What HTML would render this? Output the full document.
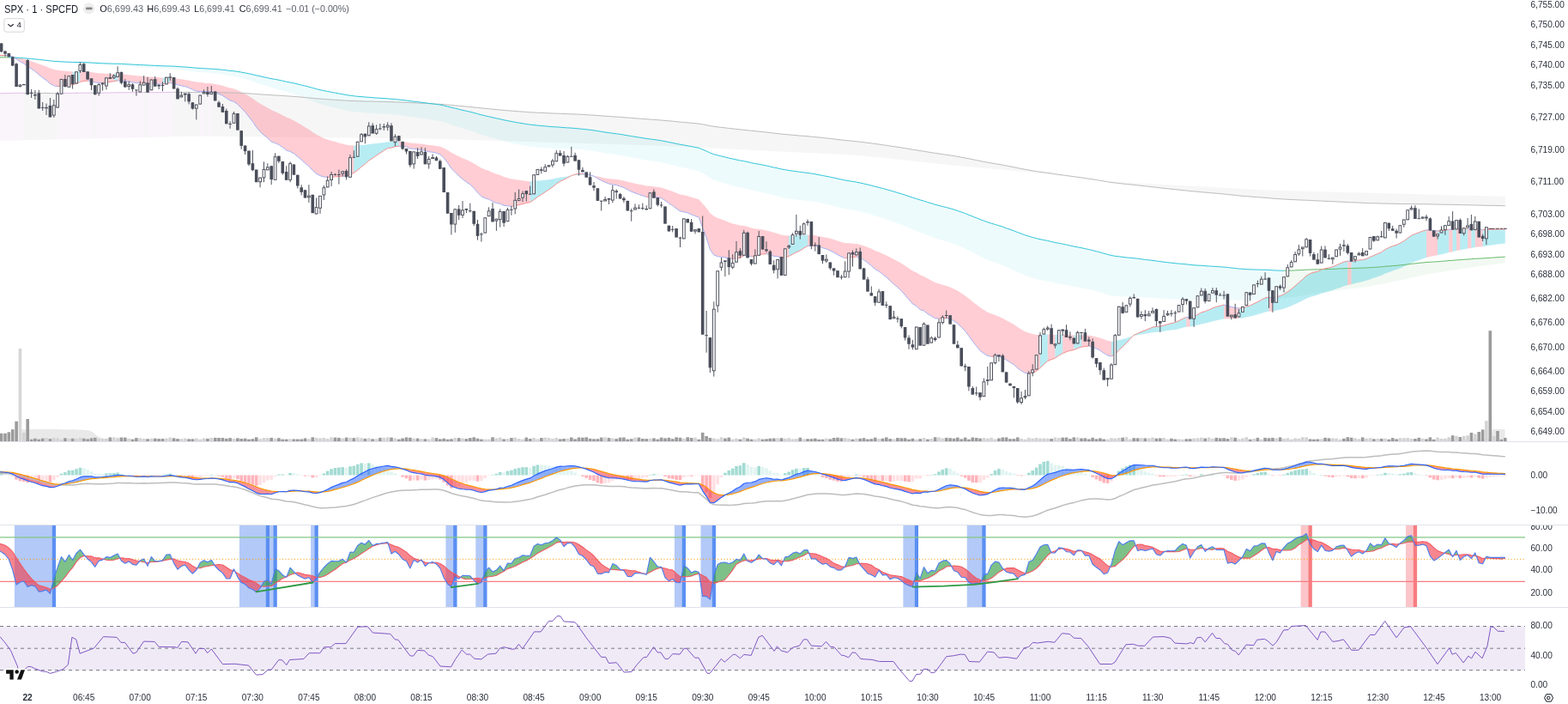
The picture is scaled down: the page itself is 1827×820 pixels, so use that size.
<!DOCTYPE html>
<html><head><meta charset="utf-8"><style>
html,body{margin:0;padding:0;background:#fff;}
body{width:1827px;height:820px;position:relative;overflow:hidden;font-family:"Liberation Sans",sans-serif;}
</style></head><body>
<svg width="1827" height="820" viewBox="0 0 1827 820" style="position:absolute;left:0;top:0"><defs><clipPath id="cm"><rect x="0" y="0" width="1777" height="514"/></clipPath><clipPath id="c2"><rect x="0" y="515" width="1777" height="96"/></clipPath><clipPath id="c3"><rect x="0" y="612" width="1777" height="95"/></clipPath><clipPath id="c3l"><rect x="1777" y="612" width="50" height="95"/></clipPath><clipPath id="c4"><rect x="0" y="708" width="1777" height="92"/></clipPath></defs><g clip-path="url(#cm)"><polygon points="0.0,108.8 6.0,108.7 10.3,108.6 14.7,108.4 19.1,108.4 23.4,108.4 27.8,108.4 27.8,163.3 23.4,163.4 19.1,163.5 14.7,163.6 10.3,163.7 6.0,163.7 0.0,163.8" fill="rgba(186,104,200,0.075)"/><polygon points="27.8,108.4 32.2,108.4 36.6,108.4 40.9,108.4 45.3,108.4 49.7,108.5 54.0,108.5 58.4,108.6 62.8,108.7 67.1,108.7 67.1,162.4 62.8,162.5 58.4,162.6 54.0,162.7 49.7,162.8 45.3,162.9 40.9,163.0 36.6,163.1 32.2,163.2 27.8,163.3" fill="rgba(128,128,128,0.075)"/><polygon points="67.1,108.7 71.5,108.6 75.9,108.6 80.3,108.5 84.6,108.5 89.0,108.4 93.4,108.3 97.7,108.2 102.1,108.2 106.5,108.2 106.5,161.5 102.1,161.6 97.7,161.7 93.4,161.8 89.0,161.9 84.6,162.0 80.3,162.1 75.9,162.2 71.5,162.3 67.1,162.4" fill="rgba(186,104,200,0.075)"/><polygon points="106.5,108.2 110.8,108.2 110.8,161.3 106.5,161.5" fill="rgba(128,128,128,0.075)"/><polygon points="110.8,108.2 115.2,108.1 119.6,108.1 123.9,108.0 128.3,108.0 132.7,107.9 137.1,107.8 141.4,107.8 145.8,107.8 150.2,107.7 154.5,107.7 158.9,107.7 163.3,107.7 167.6,107.7 167.6,160.0 163.3,160.1 158.9,160.2 154.5,160.3 150.2,160.4 145.8,160.5 141.4,160.6 137.1,160.7 132.7,160.8 128.3,160.9 123.9,161.0 119.6,161.1 115.2,161.2 110.8,161.3" fill="rgba(186,104,200,0.075)"/><polygon points="167.6,107.7 172.0,107.7 172.0,159.9 167.6,160.0" fill="rgba(128,128,128,0.075)"/><polygon points="172.0,107.7 176.4,107.6 180.7,107.6 185.1,107.6 189.5,107.5 193.9,107.5 198.2,107.4 202.6,107.4 202.6,159.2 198.2,159.3 193.9,159.4 189.5,159.5 185.1,159.6 180.7,159.7 176.4,159.8 172.0,159.9" fill="rgba(186,104,200,0.075)"/><polygon points="202.6,107.4 207.0,107.4 211.3,107.4 215.7,107.4 220.1,107.5 224.4,107.5 228.8,107.6 233.2,107.6 233.2,158.7 228.8,158.8 224.4,158.8 220.1,158.8 215.7,158.9 211.3,159.0 207.0,159.1 202.6,159.2" fill="rgba(128,128,128,0.075)"/><polygon points="233.2,107.6 237.6,107.6 237.6,158.7 233.2,158.7" fill="rgba(186,104,200,0.075)"/><polygon points="237.6,107.6 241.9,107.6 241.9,158.7 237.6,158.7" fill="rgba(128,128,128,0.075)"/><polygon points="241.9,107.6 246.3,107.6 246.3,158.7 241.9,158.7" fill="rgba(186,104,200,0.075)"/><polygon points="246.3,107.6 250.7,107.6 255.0,107.7 259.4,107.8 263.8,107.9 268.1,108.0 272.5,108.1 276.9,108.2 281.2,108.4 285.6,108.7 290.0,108.9 294.4,109.2 298.7,109.5 303.1,109.9 307.5,110.2 311.8,110.4 316.2,110.7 320.6,111.0 324.9,111.2 329.3,111.5 333.7,111.8 338.1,112.1 342.4,112.4 346.8,112.7 351.2,113.1 355.5,113.5 359.9,113.9 364.3,114.3 368.6,114.7 373.0,115.1 377.4,115.4 381.7,115.7 386.1,116.0 390.5,116.3 394.9,116.6 399.2,116.9 403.6,117.1 408.0,117.4 412.3,117.6 416.7,117.7 421.1,117.9 425.4,118.0 429.8,118.1 434.2,118.2 438.6,118.3 442.9,118.4 447.3,118.5 451.7,118.6 456.0,118.7 460.4,118.9 464.8,119.0 469.1,119.2 473.5,119.4 477.9,119.6 482.2,119.8 486.6,120.0 491.0,120.2 495.4,120.4 499.7,120.6 504.1,120.8 508.5,121.1 512.8,121.3 517.2,121.6 521.6,122.1 525.9,122.5 530.3,122.9 534.7,123.3 539.0,123.7 543.4,124.1 547.8,124.5 552.2,125.0 556.5,125.4 560.9,125.9 565.3,126.3 569.6,126.7 574.0,127.2 578.4,127.6 582.7,128.0 587.1,128.4 591.5,128.8 595.9,129.1 600.2,129.5 604.6,129.8 609.0,130.1 613.3,130.4 617.7,130.8 622.1,131.0 626.4,131.2 630.8,131.4 635.2,131.6 639.5,131.8 643.9,132.0 648.3,132.2 652.7,132.3 657.0,132.5 661.4,132.7 665.8,132.8 670.1,133.0 674.5,133.2 678.9,133.4 683.2,133.7 687.6,134.0 692.0,134.2 696.4,134.6 700.7,134.9 705.1,135.2 709.5,135.5 713.8,135.8 718.2,136.1 722.6,136.4 726.9,136.7 731.3,137.1 735.7,137.4 740.0,137.8 744.4,138.1 748.8,138.4 753.2,138.8 757.5,139.1 761.9,139.4 766.3,139.7 770.6,140.0 775.0,140.4 779.4,140.8 783.7,141.2 788.1,141.7 792.5,142.1 796.8,142.5 801.2,142.9 805.6,143.3 810.0,143.7 814.3,144.1 818.7,144.9 823.1,145.7 827.4,146.6 831.8,147.3 836.2,147.9 840.5,148.4 844.9,148.9 849.3,149.4 853.7,149.9 858.0,150.4 862.4,150.9 866.8,151.3 871.1,151.8 875.5,152.3 879.9,152.7 884.2,153.1 888.6,153.6 893.0,154.0 897.3,154.5 901.7,155.1 906.1,155.6 910.5,156.1 914.8,156.5 919.2,156.9 923.6,157.3 927.9,157.7 932.3,158.1 936.7,158.4 941.0,158.7 945.4,159.2 949.8,159.6 954.2,160.0 958.5,160.5 962.9,160.9 967.3,161.4 971.6,161.9 976.0,162.5 980.4,163.0 984.7,163.5 989.1,163.9 993.5,164.3 997.8,164.8 1002.2,165.2 1006.6,165.8 1011.0,166.3 1015.3,166.9 1019.7,167.5 1024.1,168.1 1028.4,168.7 1032.8,169.3 1037.2,170.0 1041.5,170.6 1045.9,171.3 1050.3,172.0 1054.6,172.7 1059.0,173.4 1063.4,174.2 1067.8,174.8 1072.1,175.6 1076.5,176.2 1080.9,177.0 1085.2,177.7 1089.6,178.4 1094.0,179.0 1098.3,179.7 1102.7,180.3 1107.1,180.9 1111.5,181.6 1115.8,182.4 1120.2,183.2 1124.6,184.0 1128.9,184.8 1133.3,185.7 1137.7,186.6 1142.0,187.5 1146.4,188.4 1150.8,189.2 1155.1,189.9 1159.5,190.7 1163.9,191.4 1168.3,192.2 1172.6,193.0 1177.0,193.9 1181.4,194.7 1185.7,195.6 1190.1,196.5 1194.5,197.3 1198.8,198.1 1203.2,198.9 1207.6,199.6 1212.0,200.2 1216.3,200.8 1220.7,201.4 1225.1,202.0 1229.4,202.7 1233.8,203.3 1238.2,203.9 1242.5,204.5 1246.9,205.1 1251.3,205.7 1255.6,206.3 1260.0,206.9 1264.4,207.5 1268.8,208.2 1273.1,208.8 1277.5,209.5 1281.9,210.3 1286.2,211.0 1290.6,211.8 1295.0,212.5 1299.3,213.0 1303.7,213.5 1308.1,214.0 1312.5,214.5 1316.8,214.9 1321.2,215.3 1325.6,215.8 1329.9,216.3 1334.3,216.8 1338.7,217.3 1343.0,217.8 1347.4,218.3 1351.8,218.8 1356.1,219.3 1360.5,219.8 1364.9,220.2 1369.3,220.7 1373.6,221.1 1378.0,221.6 1382.4,222.0 1386.7,222.5 1391.1,222.9 1395.5,223.3 1399.8,223.7 1404.2,224.1 1408.6,224.5 1412.9,224.9 1417.3,225.2 1421.7,225.6 1426.1,226.0 1430.4,226.5 1434.8,226.9 1439.2,227.4 1443.5,227.9 1447.9,228.3 1452.3,228.6 1456.6,229.0 1461.0,229.4 1465.4,229.7 1469.8,230.0 1474.1,230.3 1478.5,230.7 1482.9,231.1 1487.2,231.4 1491.6,231.7 1496.0,232.0 1500.3,232.3 1504.7,232.5 1509.1,232.7 1513.4,232.9 1517.8,233.1 1522.2,233.2 1526.6,233.4 1530.9,233.7 1535.3,233.9 1539.7,234.1 1544.0,234.3 1548.4,234.5 1552.8,234.7 1557.1,234.9 1561.5,235.1 1565.9,235.3 1570.3,235.5 1574.6,235.7 1579.0,235.9 1583.4,236.1 1587.7,236.3 1592.1,236.5 1596.5,236.6 1600.8,236.7 1605.2,236.9 1609.6,237.0 1613.9,237.1 1618.3,237.2 1622.7,237.3 1627.1,237.4 1631.4,237.5 1635.8,237.5 1640.2,237.5 1644.5,237.6 1648.9,237.6 1653.3,237.7 1657.6,237.7 1662.0,237.8 1666.4,237.9 1670.7,238.0 1675.1,238.1 1679.5,238.2 1683.9,238.3 1688.2,238.3 1692.6,238.4 1697.0,238.5 1701.3,238.6 1705.7,238.7 1710.1,238.8 1714.4,238.9 1718.8,238.9 1723.2,239.1 1727.6,239.2 1731.9,239.3 1736.3,239.4 1740.7,239.4 1745.0,239.5 1749.4,239.6 1753.8,239.7 1753.8,228.7 1749.4,228.6 1745.0,228.6 1740.7,228.5 1736.3,228.4 1731.9,228.3 1727.6,228.2 1723.2,228.1 1718.8,228.0 1714.4,227.8 1710.1,227.7 1705.7,227.6 1701.3,227.5 1697.0,227.4 1692.6,227.3 1688.2,227.2 1683.9,227.0 1679.5,226.9 1675.1,226.8 1670.7,226.7 1666.4,226.6 1662.0,226.5 1657.6,226.3 1653.3,226.2 1648.9,226.1 1644.5,226.0 1640.2,225.9 1635.8,225.8 1631.4,225.6 1627.1,225.5 1622.7,225.4 1618.3,225.3 1613.9,225.2 1609.6,225.1 1605.2,224.9 1600.8,224.8 1596.5,224.7 1592.1,224.6 1587.7,224.5 1583.4,224.4 1579.0,224.2 1574.6,224.1 1570.3,224.0 1565.9,223.9 1561.5,223.8 1557.1,223.7 1552.8,223.5 1548.4,223.4 1544.0,223.3 1539.7,223.2 1535.3,223.1 1530.9,223.0 1526.6,222.9 1522.2,222.7 1517.8,222.6 1513.4,222.5 1509.1,222.4 1504.7,222.3 1500.3,222.2 1496.0,222.0 1491.6,221.9 1487.2,221.8 1482.9,221.6 1478.5,221.4 1474.1,221.3 1469.8,221.1 1465.4,220.9 1461.0,220.7 1456.6,220.5 1452.3,220.3 1447.9,220.0 1443.5,219.8 1439.2,219.6 1434.8,219.3 1430.4,219.1 1426.1,218.8 1421.7,218.6 1417.3,218.3 1412.9,218.1 1408.6,217.9 1404.2,217.6 1399.8,217.4 1395.5,217.1 1391.1,216.9 1386.7,216.6 1382.4,216.4 1378.0,216.1 1373.6,215.9 1369.3,215.7 1364.9,215.4 1360.5,215.2 1356.1,214.9 1351.8,214.7 1347.4,214.4 1343.0,214.2 1338.7,213.9 1334.3,213.7 1329.9,213.5 1325.6,213.2 1321.2,213.0 1316.8,212.7 1312.5,212.5 1308.1,212.2 1303.7,211.9 1299.3,211.6 1295.0,211.3 1290.6,210.9 1286.2,210.5 1281.9,210.1 1277.5,209.7 1273.1,209.2 1268.8,208.7 1264.4,208.2 1260.0,207.7 1255.6,207.1 1251.3,206.6 1246.9,206.0 1242.5,205.5 1238.2,204.9 1233.8,204.4 1229.4,203.8 1225.1,203.3 1220.7,202.8 1216.3,202.3 1212.0,201.9 1207.6,201.4 1203.2,200.9 1198.8,200.5 1194.5,200.1 1190.1,199.7 1185.7,199.3 1181.4,198.9 1177.0,198.5 1172.6,198.1 1168.3,197.7 1163.9,197.3 1159.5,196.9 1155.1,196.5 1150.8,196.1 1146.4,195.7 1142.0,195.4 1137.7,195.0 1133.3,194.6 1128.9,194.2 1124.6,193.8 1120.2,193.4 1115.8,193.0 1111.5,192.6 1107.1,192.2 1102.7,191.7 1098.3,191.3 1094.0,190.9 1089.6,190.4 1085.2,190.0 1080.9,189.5 1076.5,189.0 1072.1,188.6 1067.8,188.1 1063.4,187.6 1059.0,187.1 1054.6,186.7 1050.3,186.2 1045.9,185.7 1041.5,185.2 1037.2,184.8 1032.8,184.3 1028.4,183.8 1024.1,183.3 1019.7,182.9 1015.3,182.5 1011.0,182.1 1006.6,181.7 1002.2,181.3 997.8,181.0 993.5,180.7 989.1,180.4 984.7,180.1 980.4,179.8 976.0,179.6 971.6,179.4 967.3,179.2 962.9,179.0 958.5,178.8 954.2,178.6 949.8,178.4 945.4,178.2 941.0,178.0 936.7,177.8 932.3,177.6 927.9,177.4 923.6,177.2 919.2,177.0 914.8,176.8 910.5,176.6 906.1,176.4 901.7,176.2 897.3,175.9 893.0,175.7 888.6,175.5 884.2,175.3 879.9,175.1 875.5,174.9 871.1,174.6 866.8,174.4 862.4,174.2 858.0,174.0 853.7,173.8 849.3,173.6 844.9,173.3 840.5,173.1 836.2,172.9 831.8,172.7 827.4,172.5 823.1,172.3 818.7,172.0 814.3,171.8 810.0,171.6 805.6,171.4 801.2,171.2 796.8,171.0 792.5,170.7 788.1,170.6 783.7,170.4 779.4,170.2 775.0,170.0 770.6,169.8 766.3,169.7 761.9,169.5 757.5,169.3 753.2,169.2 748.8,169.1 744.4,168.9 740.0,168.8 735.7,168.7 731.3,168.5 726.9,168.4 722.6,168.3 718.2,168.1 713.8,168.0 709.5,167.9 705.1,167.7 700.7,167.6 696.4,167.5 692.0,167.4 687.6,167.2 683.2,167.1 678.9,167.0 674.5,166.8 670.1,166.7 665.8,166.6 661.4,166.4 657.0,166.3 652.7,166.2 648.3,166.0 643.9,165.9 639.5,165.8 635.2,165.7 630.8,165.5 626.4,165.4 622.1,165.3 617.7,165.1 613.3,165.0 609.0,164.9 604.6,164.7 600.2,164.6 595.9,164.5 591.5,164.3 587.1,164.2 582.7,164.1 578.4,163.9 574.0,163.8 569.6,163.7 565.3,163.6 560.9,163.4 556.5,163.3 552.2,163.2 547.8,163.0 543.4,162.9 539.0,162.8 534.7,162.6 530.3,162.5 525.9,162.4 521.6,162.3 517.2,162.1 512.8,162.0 508.5,161.9 504.1,161.8 499.7,161.7 495.4,161.6 491.0,161.6 486.6,161.5 482.2,161.4 477.9,161.4 473.5,161.3 469.1,161.2 464.8,161.2 460.4,161.1 456.0,161.1 451.7,161.0 447.3,161.0 442.9,160.9 438.6,160.9 434.2,160.8 429.8,160.8 425.4,160.7 421.1,160.7 416.7,160.6 412.3,160.6 408.0,160.5 403.6,160.5 399.2,160.4 394.9,160.4 390.5,160.3 386.1,160.3 381.7,160.2 377.4,160.2 373.0,160.1 368.6,160.1 364.3,160.0 359.9,160.0 355.5,159.9 351.2,159.9 346.8,159.8 342.4,159.8 338.1,159.7 333.7,159.7 329.3,159.6 324.9,159.6 320.6,159.5 316.2,159.5 311.8,159.4 307.5,159.4 303.1,159.3 298.7,159.3 294.4,159.2 290.0,159.2 285.6,159.1 281.2,159.1 276.9,159.0 272.5,159.0 268.1,158.9 263.8,158.9 259.4,158.8 255.0,158.8 250.7,158.8 246.3,158.7" fill="rgba(128,128,128,0.075)"/><polygon points="0.0,66.9 6.0,66.9 10.3,66.9 10.3,64.9 6.0,64.9 0.0,64.9" fill="rgba(76,175,80,0.07)"/><polygon points="10.3,66.9 14.7,67.0 19.1,67.3 23.4,67.5 27.8,67.8 32.2,68.2 36.6,68.5 40.9,68.9 45.3,69.4 49.7,69.8 54.0,70.3 58.4,70.9 62.8,71.3 67.1,71.6 71.5,71.8 75.9,72.1 80.3,72.2 84.6,72.4 89.0,72.5 93.4,72.5 97.7,72.6 102.1,72.8 106.5,73.0 110.8,73.3 115.2,73.6 119.6,73.7 123.9,73.9 128.3,74.0 132.7,74.2 137.1,74.2 141.4,74.4 145.8,74.7 150.2,74.9 154.5,75.1 158.9,75.4 163.3,75.6 167.6,75.7 172.0,76.0 176.4,76.2 180.7,76.4 185.1,76.6 189.5,76.8 193.9,76.9 198.2,77.0 202.6,77.2 207.0,77.5 211.3,77.8 215.7,78.1 220.1,78.4 224.4,78.8 228.8,79.2 233.2,79.5 237.6,79.7 241.9,80.0 246.3,80.2 250.7,80.5 255.0,80.9 259.4,81.3 263.8,81.8 268.1,82.4 272.5,82.8 276.9,83.4 281.2,84.1 285.6,84.9 290.0,85.8 294.4,86.8 298.7,87.8 303.1,88.8 307.5,89.8 311.8,90.7 316.2,91.7 320.6,92.4 324.9,93.2 329.3,94.2 333.7,95.2 338.1,96.0 342.4,96.9 346.8,97.9 351.2,99.0 355.5,100.1 359.9,101.2 364.3,102.4 368.6,103.6 373.0,104.7 377.4,105.6 381.7,106.5 386.1,107.3 390.5,108.2 394.9,109.0 399.2,109.7 403.6,110.6 408.0,111.2 412.3,111.8 416.7,112.3 421.1,112.6 425.4,113.0 429.8,113.3 434.2,113.7 438.6,114.0 442.9,114.3 447.3,114.6 451.7,114.8 456.0,115.3 460.4,115.6 464.8,116.0 469.1,116.5 473.5,117.0 477.9,117.7 482.2,118.2 486.6,118.7 491.0,119.2 495.4,119.8 499.7,120.4 504.1,120.9 508.5,121.5 512.8,122.1 517.2,123.0 521.6,124.1 525.9,125.2 530.3,126.2 534.7,127.3 539.0,128.3 543.4,129.3 547.8,130.3 552.2,131.4 556.5,132.6 560.9,133.8 565.3,134.8 569.6,135.8 574.0,136.8 578.4,137.8 582.7,138.7 587.1,139.8 591.5,140.6 595.9,141.5 600.2,142.3 604.6,143.1 609.0,143.8 613.3,144.5 617.7,145.2 622.1,145.6 626.4,146.1 630.8,146.5 635.2,146.9 639.5,147.3 643.9,147.7 648.3,147.9 652.7,148.2 657.0,148.6 661.4,148.9 665.8,149.1 670.1,149.5 674.5,149.9 678.9,150.3 683.2,150.8 687.6,151.3 692.0,151.9 696.4,152.6 700.7,153.3 705.1,154.0 709.5,154.6 713.8,155.2 718.2,155.8 722.6,156.4 726.9,157.1 731.3,157.9 735.7,158.6 740.0,159.3 744.4,160.0 748.8,160.7 753.2,161.4 757.5,162.0 761.9,162.5 766.3,163.2 770.6,163.8 775.0,164.7 779.4,165.6 783.7,166.4 788.1,167.4 792.5,168.3 796.8,169.0 801.2,169.8 805.6,170.6 810.0,171.5 814.3,172.3 818.7,174.2 823.1,176.0 827.4,178.1 831.8,179.7 836.2,180.9 840.5,181.9 844.9,183.0 849.3,184.1 853.7,185.1 858.0,186.0 862.4,187.0 866.8,187.7 871.1,188.6 875.5,189.6 879.9,190.6 884.2,191.3 888.6,192.1 893.0,193.0 897.3,194.0 901.7,195.0 906.1,195.9 910.5,197.0 914.8,197.7 919.2,198.5 923.6,199.1 927.9,199.7 932.3,200.4 936.7,200.9 941.0,201.4 945.4,202.1 949.8,202.8 954.2,203.6 958.5,204.5 962.9,205.3 967.3,206.2 971.6,207.1 976.0,208.1 980.4,209.1 984.7,210.0 989.1,210.7 993.5,211.4 997.8,212.1 1002.2,213.0 1006.6,214.0 1011.0,215.0 1015.3,216.1 1019.7,217.3 1024.1,218.3 1028.4,219.5 1032.8,220.7 1037.2,221.9 1041.5,223.2 1045.9,224.5 1050.3,225.8 1054.6,227.2 1059.0,228.7 1063.4,230.2 1067.8,231.5 1072.1,232.9 1076.5,234.1 1080.9,235.6 1085.2,236.9 1089.6,238.3 1094.0,239.4 1098.3,240.5 1102.7,241.6 1107.1,242.8 1111.5,244.1 1115.8,245.5 1120.2,247.0 1124.6,248.6 1128.9,250.3 1133.3,252.1 1137.7,253.8 1142.0,255.6 1146.4,257.2 1150.8,258.8 1155.1,260.2 1159.5,261.5 1163.9,262.8 1168.3,264.2 1172.6,265.8 1177.0,267.3 1181.4,268.9 1185.7,270.6 1190.1,272.2 1194.5,273.9 1198.8,275.2 1203.2,276.5 1207.6,277.7 1212.0,278.7 1216.3,279.6 1220.7,280.4 1225.1,281.5 1229.4,282.5 1233.8,283.3 1238.2,284.2 1242.5,285.1 1246.9,286.1 1251.3,287.0 1255.6,287.9 1260.0,288.7 1264.4,289.6 1268.8,290.6 1273.1,291.6 1277.5,292.8 1281.9,293.9 1286.2,295.2 1290.6,296.4 1295.0,297.5 1299.3,298.3 1303.7,298.8 1308.1,299.4 1312.5,299.9 1316.8,300.3 1321.2,300.7 1325.6,301.2 1329.9,301.8 1334.3,302.4 1338.7,302.9 1343.0,303.4 1347.4,304.0 1351.8,304.6 1356.1,305.2 1360.5,305.7 1364.9,306.2 1369.3,306.7 1373.6,307.1 1378.0,307.4 1382.4,307.8 1386.7,308.4 1391.1,308.8 1395.5,309.1 1399.8,309.3 1404.2,309.7 1408.6,310.0 1412.9,310.2 1417.3,310.5 1421.7,310.8 1426.1,311.1 1430.4,311.5 1434.8,312.0 1439.2,312.5 1443.5,313.0 1447.9,313.3 1452.3,313.6 1456.6,313.8 1461.0,314.0 1465.4,314.1 1469.8,314.2 1474.1,314.3 1478.5,314.5 1482.9,314.8 1487.2,315.0 1491.6,315.2 1496.0,315.2 1496.0,347.6 1491.6,348.0 1487.2,348.2 1482.9,348.4 1478.5,348.3 1474.1,348.4 1469.8,348.8 1465.4,349.1 1461.0,349.4 1456.6,349.6 1452.3,349.7 1447.9,349.8 1443.5,349.7 1439.2,349.5 1434.8,349.2 1430.4,349.0 1426.1,348.7 1421.7,348.8 1417.3,348.8 1412.9,348.9 1408.6,349.1 1404.2,349.2 1399.8,349.1 1395.5,349.3 1391.1,349.3 1386.7,349.2 1382.4,348.9 1378.0,348.9 1373.6,348.9 1369.3,348.8 1364.9,348.6 1360.5,348.3 1356.1,348.1 1351.8,347.8 1347.4,347.4 1343.0,347.1 1338.7,346.8 1334.3,346.6 1329.9,346.3 1325.6,346.0 1321.2,345.7 1316.8,345.7 1312.5,345.6 1308.1,345.5 1303.7,345.2 1299.3,345.1 1295.0,344.4 1290.6,343.3 1286.2,342.0 1281.9,340.5 1277.5,339.3 1273.1,338.1 1268.8,337.0 1264.4,336.2 1260.0,335.3 1255.6,334.6 1251.3,333.8 1246.9,332.9 1242.5,332.1 1238.2,331.2 1233.8,330.4 1229.4,329.7 1225.1,328.7 1220.7,327.7 1216.3,326.9 1212.0,326.1 1207.6,325.2 1203.2,324.0 1198.8,322.5 1194.5,321.0 1190.1,319.0 1185.7,317.0 1181.4,314.9 1177.0,312.9 1172.6,311.0 1168.3,309.2 1163.9,307.4 1159.5,305.9 1155.1,304.4 1150.8,302.8 1146.4,300.8 1142.0,298.8 1137.7,296.5 1133.3,294.2 1128.9,291.9 1124.6,289.7 1120.2,287.8 1115.8,285.8 1111.5,284.2 1107.1,282.5 1102.7,281.2 1098.3,280.0 1094.0,278.8 1089.6,277.4 1085.2,275.7 1080.9,274.1 1076.5,272.3 1072.1,270.9 1067.8,269.0 1063.4,267.5 1059.0,265.5 1054.6,263.7 1050.3,261.8 1045.9,260.2 1041.5,258.6 1037.2,257.1 1032.8,255.5 1028.4,254.1 1024.1,252.7 1019.7,251.5 1015.3,250.0 1011.0,248.7 1006.6,247.4 1002.2,246.4 997.8,245.4 993.5,244.7 989.1,244.0 984.7,243.3 980.4,242.3 976.0,241.2 971.6,240.0 967.3,239.0 962.9,237.9 958.5,237.1 954.2,236.1 949.8,235.3 945.4,234.6 941.0,233.9 936.7,233.5 932.3,233.1 927.9,232.5 923.6,232.0 919.2,231.5 914.8,230.7 910.5,229.9 906.1,228.6 901.7,227.6 897.3,226.4 893.0,225.2 888.6,224.3 884.2,223.4 879.9,222.6 875.5,221.6 871.1,220.4 866.8,219.3 862.4,218.5 858.0,217.4 853.7,216.4 849.3,215.1 844.9,213.8 840.5,212.5 836.2,211.2 831.8,209.7 827.4,207.6 823.1,204.6 818.7,201.9 814.3,199.3 810.0,198.3 805.6,197.4 801.2,196.4 796.8,195.5 792.5,194.6 788.1,193.5 783.7,192.3 779.4,191.3 775.0,190.2 770.6,189.2 766.3,188.5 761.9,187.8 757.5,187.2 753.2,186.7 748.8,185.9 744.4,185.1 740.0,184.3 735.7,183.5 731.3,182.6 726.9,181.7 722.6,181.0 718.2,180.3 713.8,179.7 709.5,179.1 705.1,178.4 700.7,177.6 696.4,176.8 692.0,176.0 687.6,175.4 683.2,174.9 678.9,174.4 674.5,174.1 670.1,173.7 665.8,173.5 661.4,173.4 657.0,173.3 652.7,173.1 648.3,172.9 643.9,172.9 639.5,172.7 635.2,172.4 630.8,172.1 626.4,171.7 622.1,171.4 617.7,170.9 613.3,170.1 609.0,169.3 604.6,168.6 600.2,167.7 595.9,166.8 591.5,165.7 587.1,164.6 582.7,163.3 578.4,162.1 574.0,160.8 569.6,159.5 565.3,158.3 560.9,156.9 556.5,155.3 552.2,153.6 547.8,152.1 543.4,150.8 539.0,149.5 534.7,148.2 530.3,146.7 525.9,145.4 521.6,143.8 517.2,142.3 512.8,141.2 508.5,140.4 504.1,139.7 499.7,139.1 495.4,138.5 491.0,137.7 486.6,137.2 482.2,136.6 477.9,136.0 473.5,135.2 469.1,134.6 464.8,134.1 460.4,133.7 456.0,133.3 451.7,132.9 447.3,132.7 442.9,132.5 438.6,132.3 434.2,132.0 429.8,131.7 425.4,131.5 421.1,131.1 416.7,130.7 412.3,130.3 408.0,129.5 403.6,128.8 399.2,127.7 394.9,126.7 390.5,125.6 386.1,124.5 381.7,123.4 377.4,122.2 373.0,120.9 368.6,119.4 364.3,117.7 359.9,115.8 355.5,114.3 351.2,112.6 346.8,111.1 342.4,109.6 338.1,108.3 333.7,107.1 329.3,105.7 324.9,104.4 320.6,103.2 316.2,102.1 311.8,100.6 307.5,99.3 303.1,97.9 298.7,96.4 294.4,94.8 290.0,93.3 285.6,92.0 281.2,90.8 276.9,89.7 272.5,88.8 268.1,88.2 263.8,87.4 259.4,86.6 255.0,86.0 250.7,85.5 246.3,85.0 241.9,84.7 237.6,84.3 233.2,84.0 228.8,83.7 224.4,83.1 220.1,82.5 215.7,82.0 211.3,81.6 207.0,81.2 202.6,80.8 198.2,80.4 193.9,80.3 189.5,80.2 185.1,79.9 180.7,79.6 176.4,79.3 172.0,79.1 167.6,78.7 163.3,78.5 158.9,78.2 154.5,77.9 150.2,77.5 145.8,77.2 141.4,76.9 137.1,76.6 132.7,76.5 128.3,76.3 123.9,76.1 119.6,75.9 115.2,75.6 110.8,75.3 106.5,74.8 102.1,74.5 97.7,74.2 93.4,74.1 89.0,74.1 84.6,73.9 80.3,73.6 75.9,73.4 71.5,73.0 67.1,72.7 62.8,72.2 58.4,71.5 54.0,70.6 49.7,69.8 45.3,69.1 40.9,68.3 36.6,67.7 32.2,67.1 27.8,66.5 23.4,66.0 19.1,65.6 14.7,65.1 10.3,64.9" fill="rgba(0,188,212,0.065)"/><polygon points="1496.0,315.2 1500.3,315.2 1504.7,315.1 1509.1,314.9 1513.4,314.7 1517.8,314.5 1522.2,314.2 1526.6,314.0 1530.9,313.9 1535.3,313.9 1539.7,313.7 1544.0,313.6 1548.4,313.5 1552.8,313.4 1557.1,313.2 1561.5,312.9 1565.9,312.7 1570.3,312.6 1574.6,312.5 1579.0,312.4 1583.4,312.2 1587.7,312.1 1592.1,311.9 1596.5,311.6 1600.8,311.4 1605.2,311.1 1609.6,310.8 1613.9,310.3 1618.3,310.0 1622.7,309.6 1627.1,309.3 1631.4,308.9 1635.8,308.4 1640.2,307.9 1644.5,307.3 1648.9,306.9 1653.3,306.4 1657.6,306.0 1662.0,305.5 1666.4,305.2 1670.7,305.0 1675.1,304.7 1679.5,304.4 1683.9,304.0 1688.2,303.6 1692.6,303.3 1697.0,302.9 1701.3,302.6 1705.7,302.3 1710.1,302.0 1714.4,301.7 1718.8,301.3 1723.2,301.1 1727.6,300.9 1731.9,300.6 1736.3,300.3 1740.7,300.0 1745.0,299.7 1749.4,299.5 1753.8,299.2 1753.8,306.3 1749.4,306.8 1745.0,307.4 1740.7,308.0 1736.3,308.5 1731.9,309.1 1727.6,309.8 1723.2,310.2 1718.8,310.7 1714.4,311.4 1710.1,312.0 1705.7,312.7 1701.3,313.4 1697.0,314.0 1692.6,314.8 1688.2,315.4 1683.9,316.2 1679.5,317.0 1675.1,317.7 1670.7,318.3 1666.4,318.9 1662.0,319.6 1657.6,320.5 1653.3,321.5 1648.9,322.4 1644.5,323.4 1640.2,324.5 1635.8,325.6 1631.4,326.6 1627.1,327.5 1622.7,328.3 1618.3,329.1 1613.9,330.0 1609.6,331.0 1605.2,331.7 1600.8,332.5 1596.5,333.3 1592.1,334.1 1587.7,334.6 1583.4,335.1 1579.0,335.7 1574.6,336.2 1570.3,336.7 1565.9,337.3 1561.5,338.0 1557.1,338.7 1552.8,339.3 1548.4,339.9 1544.0,340.4 1539.7,341.0 1535.3,341.7 1530.9,342.2 1526.6,342.7 1522.2,343.4 1517.8,344.3 1513.4,345.1 1509.1,345.9 1504.7,346.6 1500.3,347.1 1496.0,347.6" fill="rgba(76,175,80,0.07)"/><polygon points="0.0,64.6 6.0,64.4 6.0,65.2 0.0,65.3" fill="rgba(0,188,212,0.28)"/><polygon points="6.0,64.4 10.3,64.6 14.7,65.7 19.1,68.9 23.4,71.6 27.8,74.0 32.2,77.3 36.6,80.2 40.9,83.0 45.3,87.0 49.7,90.5 54.0,93.6 58.4,97.5 62.8,99.8 67.1,100.6 71.5,99.9 75.9,100.0 80.3,98.9 84.6,98.8 84.6,83.4 80.3,82.9 75.9,82.8 71.5,82.2 67.1,81.8 62.8,80.9 58.4,79.5 54.0,77.6 49.7,76.1 45.3,74.4 40.9,72.7 36.6,71.4 32.2,70.1 27.8,68.8 23.4,67.8 19.1,66.8 14.7,65.6 10.3,65.3 6.0,65.2" fill="rgba(255,90,110,0.3)"/><polygon points="84.6,98.8 89.0,97.4 93.4,95.4 93.4,83.2 89.0,83.4 84.6,83.4" fill="rgba(0,188,212,0.28)"/><polygon points="93.4,95.4 97.7,94.3 102.1,94.2 106.5,94.6 110.8,96.1 115.2,96.3 119.6,96.3 123.9,95.8 128.3,95.4 132.7,94.7 132.7,86.1 128.3,86.0 123.9,85.8 119.6,85.6 115.2,85.3 110.8,84.8 106.5,84.0 102.1,83.5 97.7,83.2 93.4,83.2" fill="rgba(255,90,110,0.3)"/><polygon points="132.7,94.7 137.1,93.8 137.1,86.0 132.7,86.1" fill="rgba(0,188,212,0.28)"/><polygon points="137.1,93.8 141.4,94.0 145.8,94.7 150.2,95.1 154.5,95.8 158.9,96.7 163.3,96.8 167.6,96.7 172.0,97.7 176.4,97.3 180.7,97.6 185.1,97.8 189.5,98.0 189.5,90.6 185.1,90.3 180.7,89.9 176.4,89.6 172.0,89.5 167.6,88.9 163.3,88.6 158.9,88.3 154.5,87.7 150.2,87.2 145.8,86.8 141.4,86.3 137.1,86.0" fill="rgba(255,90,110,0.3)"/><polygon points="189.5,98.0 193.9,97.2 198.2,96.5 198.2,90.5 193.9,90.5 189.5,90.6" fill="rgba(0,188,212,0.28)"/><polygon points="198.2,96.5 202.6,97.2 207.0,98.8 211.3,99.9 215.7,100.7 220.1,102.3 224.4,104.5 228.8,106.1 233.2,106.5 237.6,106.6 241.9,106.9 246.3,106.9 250.7,107.8 255.0,109.4 259.4,111.3 263.8,114.3 268.1,117.1 272.5,118.4 276.9,121.5 281.2,125.9 285.6,130.4 290.0,136.0 294.4,141.6 298.7,148.1 303.1,153.4 307.5,157.4 311.8,160.7 316.2,165.1 320.6,166.7 324.9,168.6 329.3,171.6 333.7,175.1 338.1,176.5 342.4,178.9 346.8,182.4 351.2,186.1 355.5,190.2 359.9,193.6 364.3,198.5 368.6,202.4 373.0,204.7 377.4,206.0 381.7,206.3 386.1,206.0 390.5,205.8 394.9,205.6 399.2,205.0 403.6,205.2 408.0,203.2 412.3,201.4 412.3,169.6 408.0,169.2 403.6,168.7 399.2,167.4 394.9,166.4 390.5,165.1 386.1,163.9 381.7,162.5 377.4,161.0 373.0,159.1 368.6,156.8 364.3,153.9 359.9,150.8 355.5,148.2 351.2,145.5 346.8,142.9 342.4,140.4 338.1,138.3 333.7,136.6 329.3,134.2 324.9,131.9 320.6,130.0 316.2,128.3 311.8,125.6 307.5,123.3 303.1,120.8 298.7,118.0 294.4,114.8 290.0,112.1 285.6,109.4 281.2,107.2 276.9,105.1 272.5,103.6 268.1,102.6 263.8,101.2 259.4,99.8 255.0,98.7 250.7,97.9 246.3,97.2 241.9,96.9 237.6,96.4 233.2,96.1 228.8,95.6 224.4,94.7 220.1,93.7 215.7,92.9 211.3,92.3 207.0,91.7 202.6,90.9 198.2,90.5" fill="rgba(255,90,110,0.3)"/><polygon points="412.3,201.4 416.7,198.1 421.1,194.3 425.4,191.1 429.8,187.0 434.2,184.2 438.6,181.1 442.9,178.3 447.3,175.4 451.7,172.7 456.0,172.0 460.4,170.8 464.8,170.2 464.8,165.0 460.4,165.0 456.0,165.2 451.7,165.2 447.3,165.9 442.9,166.5 438.6,167.1 434.2,167.6 429.8,168.0 425.4,168.7 421.1,169.0 416.7,169.5 412.3,169.6" fill="rgba(0,188,212,0.28)"/><polygon points="464.8,170.2 469.1,170.5 473.5,171.0 477.9,173.0 482.2,173.3 486.6,174.1 491.0,174.3 495.4,175.8 499.7,176.7 504.1,177.3 508.5,178.2 512.8,179.9 517.2,183.9 521.6,189.8 525.9,196.3 530.3,200.6 534.7,205.1 539.0,208.7 543.4,212.0 547.8,215.0 552.2,219.2 556.5,224.3 560.9,228.7 565.3,230.9 569.6,232.2 574.0,234.6 578.4,236.5 582.7,237.3 587.1,239.4 591.5,239.8 595.9,240.2 600.2,239.5 604.6,238.7 609.0,237.5 613.3,236.5 617.7,235.6 617.7,211.4 613.3,210.9 609.0,210.3 604.6,209.8 600.2,209.1 595.9,208.4 591.5,207.2 587.1,205.9 582.7,204.1 578.4,202.7 574.0,201.0 569.6,199.1 565.3,197.5 560.9,195.7 556.5,193.1 552.2,190.4 547.8,188.0 543.4,186.1 539.0,184.2 534.7,182.2 530.3,179.9 525.9,177.8 521.6,175.0 517.2,172.5 512.8,170.8 508.5,169.9 504.1,169.3 499.7,168.9 495.4,168.3 491.0,167.6 486.6,167.3 482.2,166.8 477.9,166.5 473.5,165.6 469.1,165.2 464.8,165.0" fill="rgba(255,90,110,0.3)"/><polygon points="617.7,235.6 622.1,232.6 626.4,229.4 630.8,226.6 635.2,223.7 639.5,220.8 643.9,217.8 648.3,214.2 652.7,211.2 657.0,209.3 661.4,206.9 665.8,204.6 670.1,203.1 674.5,202.6 678.9,202.4 678.9,203.8 674.5,203.9 670.1,204.1 665.8,204.6 661.4,205.4 657.0,206.1 652.7,206.7 648.3,207.5 643.9,208.5 639.5,209.2 635.2,209.7 630.8,210.3 626.4,210.6 622.1,211.1 617.7,211.4" fill="rgba(0,188,212,0.28)"/><polygon points="678.9,202.4 683.2,202.8 687.6,203.9 692.0,205.3 696.4,207.9 700.7,210.3 705.1,212.2 709.5,214.1 713.8,214.8 718.2,215.6 722.6,217.1 726.9,218.5 731.3,221.0 735.7,223.2 740.0,224.9 744.4,226.5 748.8,227.9 753.2,229.4 757.5,229.0 761.9,229.1 766.3,230.0 770.6,230.8 775.0,233.5 779.4,236.8 783.7,239.6 788.1,242.9 792.5,246.0 796.8,246.8 801.2,247.9 805.6,249.9 810.0,251.5 814.3,253.2 818.7,265.6 823.1,277.0 827.4,290.8 831.8,297.0 836.2,298.7 840.5,299.3 844.9,299.9 849.3,300.9 853.7,301.3 858.0,300.6 862.4,300.4 866.8,297.7 871.1,297.9 875.5,298.8 879.9,298.7 884.2,296.5 888.6,296.0 893.0,295.6 897.3,296.8 901.7,298.4 906.1,298.7 910.5,300.7 914.8,299.7 919.2,298.5 919.2,274.6 914.8,274.2 910.5,273.7 906.1,272.1 901.7,271.1 897.3,269.6 893.0,268.4 888.6,267.6 884.2,266.8 879.9,266.5 875.5,265.5 871.1,264.1 866.8,262.9 862.4,262.6 858.0,261.5 853.7,260.4 849.3,258.9 844.9,257.1 840.5,255.5 836.2,253.9 831.8,251.8 827.4,248.2 823.1,242.2 818.7,237.3 814.3,232.2 810.0,230.9 805.6,229.7 801.2,228.3 796.8,227.3 792.5,226.4 788.1,224.7 783.7,223.0 779.4,221.5 775.0,219.9 770.6,218.6 766.3,217.9 761.9,217.2 757.5,216.7 753.2,216.5 748.8,215.6 744.4,214.7 740.0,213.7 735.7,212.8 731.3,211.7 726.9,210.6 722.6,209.8 718.2,209.1 713.8,208.6 709.5,208.2 705.1,207.4 700.7,206.6 696.4,205.6 692.0,204.7 687.6,204.2 683.2,203.8 678.9,203.8" fill="rgba(255,90,110,0.3)"/><polygon points="919.2,298.5 923.6,296.2 927.9,293.7 932.3,291.9 936.7,289.0 941.0,286.4 941.0,273.4 936.7,273.9 932.3,274.3 927.9,274.3 923.6,274.5 919.2,274.6" fill="rgba(0,188,212,0.28)"/><polygon points="941.0,286.4 945.4,286.4 949.8,286.3 954.2,287.2 958.5,288.7 962.9,289.9 967.3,291.9 971.6,294.1 976.0,296.7 980.4,299.1 984.7,300.6 989.1,300.0 993.5,299.7 997.8,299.1 1002.2,300.4 1006.6,302.7 1011.0,306.1 1015.3,309.6 1019.7,313.5 1024.1,315.9 1028.4,319.5 1032.8,322.7 1037.2,327.2 1041.5,331.0 1045.9,334.7 1050.3,338.8 1054.6,343.8 1059.0,348.9 1063.4,354.0 1067.8,356.4 1072.1,360.6 1076.5,362.1 1080.9,365.6 1085.2,368.1 1089.6,370.7 1094.0,371.1 1098.3,370.9 1102.7,370.6 1107.1,371.3 1111.5,373.9 1115.8,376.8 1120.2,381.3 1124.6,385.5 1128.9,391.4 1133.3,397.6 1137.7,403.1 1142.0,408.5 1146.4,411.8 1150.8,414.5 1155.1,415.3 1159.5,415.1 1163.9,415.1 1168.3,416.8 1172.6,419.4 1177.0,422.1 1181.4,424.8 1185.7,428.8 1190.1,431.9 1194.5,434.6 1198.8,434.6 1203.2,434.2 1207.6,432.3 1212.0,428.5 1212.0,389.9 1207.6,389.9 1203.2,389.1 1198.8,387.7 1194.5,386.2 1190.1,383.7 1185.7,381.0 1181.4,378.1 1177.0,375.6 1172.6,373.2 1168.3,370.8 1163.9,368.7 1159.5,367.1 1155.1,365.6 1150.8,363.7 1146.4,361.1 1142.0,358.3 1137.7,354.8 1133.3,351.4 1128.9,347.8 1124.6,344.4 1120.2,341.6 1115.8,338.8 1111.5,336.5 1107.1,334.4 1102.7,332.9 1098.3,331.8 1094.0,330.6 1089.6,329.1 1085.2,326.8 1080.9,324.6 1076.5,322.1 1072.1,320.2 1067.8,317.5 1063.4,315.4 1059.0,312.4 1054.6,309.5 1050.3,306.7 1045.9,304.2 1041.5,302.0 1037.2,299.8 1032.8,297.4 1028.4,295.4 1024.1,293.4 1019.7,291.9 1015.3,289.8 1011.0,288.0 1006.6,286.3 1002.2,285.0 997.8,284.0 993.5,283.7 989.1,283.3 984.7,282.9 980.4,281.9 976.0,280.5 971.6,279.1 967.3,277.8 962.9,276.7 958.5,275.9 954.2,274.9 949.8,274.2 945.4,273.8 941.0,273.4" fill="rgba(255,90,110,0.3)"/><polygon points="1212.0,428.5 1216.3,424.4 1220.7,420.5 1220.7,389.4 1216.3,389.7 1212.0,389.9" fill="rgba(0,188,212,0.28)"/><polygon points="1220.7,420.5 1225.1,418.7 1229.4,417.1 1229.4,390.1 1225.1,389.8 1220.7,389.4" fill="rgba(255,90,110,0.3)"/><polygon points="1229.4,417.1 1233.8,414.1 1238.2,411.5 1238.2,389.8 1233.8,390.0 1229.4,390.1" fill="rgba(0,188,212,0.28)"/><polygon points="1238.2,411.5 1242.5,409.8 1246.9,408.3 1251.3,407.6 1251.3,390.4 1246.9,390.0 1242.5,389.9 1238.2,389.8" fill="rgba(255,90,110,0.3)"/><polygon points="1251.3,407.6 1255.6,405.7 1260.0,404.1 1260.0,390.2 1255.6,390.3 1251.3,390.4" fill="rgba(0,188,212,0.28)"/><polygon points="1260.0,404.1 1264.4,403.5 1268.8,403.0 1273.1,404.2 1277.5,406.0 1281.9,408.3 1286.2,411.4 1290.6,414.0 1295.0,415.0 1295.0,397.7 1290.6,396.8 1286.2,395.3 1281.9,393.8 1277.5,392.5 1273.1,391.5 1268.8,390.6 1264.4,390.4 1260.0,390.2" fill="rgba(255,90,110,0.3)"/><polygon points="1295.0,415.0 1299.3,412.7 1303.7,407.7 1308.1,403.8 1312.5,399.4 1316.8,394.6 1321.2,390.3 1325.6,388.4 1329.9,386.4 1334.3,384.7 1338.7,383.0 1343.0,381.1 1347.4,380.4 1351.8,380.1 1356.1,379.0 1360.5,377.7 1364.9,376.6 1369.3,375.5 1373.6,373.6 1378.0,371.3 1382.4,369.5 1382.4,380.8 1378.0,381.8 1373.6,382.9 1369.3,383.9 1364.9,384.5 1360.5,385.1 1356.1,385.8 1351.8,386.4 1347.4,386.7 1343.0,387.2 1338.7,388.0 1334.3,388.7 1329.9,389.4 1325.6,390.2 1321.2,390.9 1316.8,392.3 1312.5,393.9 1308.1,395.1 1303.7,396.1 1299.3,397.5 1295.0,397.7" fill="rgba(0,188,212,0.28)"/><polygon points="1382.4,369.5 1386.7,369.7 1386.7,380.5 1382.4,380.8" fill="rgba(255,90,110,0.3)"/><polygon points="1386.7,369.7 1391.1,368.6 1395.5,366.4 1399.8,363.9 1404.2,362.7 1408.6,360.9 1412.9,358.8 1417.3,357.4 1421.7,356.2 1426.1,355.1 1426.1,371.4 1421.7,372.3 1417.3,373.2 1412.9,374.2 1408.6,375.4 1404.2,376.5 1399.8,377.4 1395.5,378.6 1391.1,379.8 1386.7,380.5" fill="rgba(0,188,212,0.28)"/><polygon points="1426.1,355.1 1430.4,356.3 1434.8,357.3 1439.2,358.5 1443.5,359.0 1443.5,370.9 1439.2,371.1 1434.8,371.1 1430.4,371.3 1426.1,371.4" fill="rgba(255,90,110,0.3)"/><polygon points="1443.5,359.0 1447.9,358.8 1452.3,357.2 1456.6,355.9 1461.0,353.7 1465.4,351.6 1469.8,349.2 1474.1,347.0 1478.5,346.2 1478.5,362.8 1474.1,363.6 1469.8,364.9 1465.4,366.3 1461.0,367.4 1456.6,368.6 1452.3,369.5 1447.9,370.5 1443.5,370.9" fill="rgba(0,188,212,0.28)"/><polygon points="1478.5,346.2 1482.9,346.8 1482.9,362.5 1478.5,362.8" fill="rgba(255,90,110,0.3)"/><polygon points="1482.9,346.8 1487.2,345.6 1491.6,344.7 1496.0,342.7 1500.3,339.8 1504.7,336.7 1509.1,333.0 1513.4,329.1 1517.8,325.3 1522.2,321.1 1526.6,318.7 1530.9,317.2 1535.3,316.4 1539.7,314.0 1544.0,312.8 1548.4,311.8 1552.8,310.7 1557.1,308.9 1561.5,306.9 1565.9,305.1 1570.3,304.1 1570.3,332.1 1565.9,333.3 1561.5,334.9 1557.1,336.4 1552.8,338.0 1548.4,339.2 1544.0,340.5 1539.7,341.8 1535.3,343.5 1530.9,344.7 1526.6,346.1 1522.2,347.8 1517.8,350.1 1513.4,352.2 1509.1,354.3 1504.7,356.2 1500.3,357.9 1496.0,359.5 1491.6,360.7 1487.2,361.6 1482.9,362.5" fill="rgba(0,188,212,0.28)"/><polygon points="1570.3,304.1 1574.6,304.2 1574.6,331.2 1570.3,332.1" fill="rgba(255,90,110,0.3)"/><polygon points="1574.6,304.2 1579.0,303.7 1583.4,302.9 1587.7,302.5 1592.1,301.5 1596.5,299.2 1600.8,297.5 1605.2,295.5 1609.6,293.8 1613.9,290.6 1618.3,288.4 1622.7,286.6 1627.1,285.3 1631.4,283.2 1635.8,280.7 1640.2,277.4 1644.5,274.2 1648.9,272.4 1653.3,270.8 1657.6,269.2 1662.0,267.8 1662.0,299.9 1657.6,301.4 1653.3,303.0 1648.9,304.6 1644.5,306.3 1640.2,308.4 1635.8,310.6 1631.4,312.4 1627.1,314.1 1622.7,315.5 1618.3,317.0 1613.9,318.7 1609.6,320.7 1605.2,322.2 1600.8,323.8 1596.5,325.2 1592.1,326.8 1587.7,328.0 1583.4,329.0 1579.0,330.1 1574.6,331.2" fill="rgba(0,188,212,0.28)"/><polygon points="1662.0,267.8 1666.4,267.9 1670.7,268.6 1675.1,268.9 1675.1,297.3 1670.7,298.1 1666.4,298.9 1662.0,299.9" fill="rgba(255,90,110,0.3)"/><polygon points="1675.1,268.9 1679.5,268.8 1683.9,268.2 1688.2,267.2 1688.2,294.0 1683.9,295.2 1679.5,296.3 1675.1,297.3" fill="rgba(0,188,212,0.28)"/><polygon points="1688.2,267.2 1692.6,267.3 1692.6,293.2 1688.2,294.0" fill="rgba(255,90,110,0.3)"/><polygon points="1692.6,267.3 1697.0,266.2 1697.0,292.0 1692.6,293.2" fill="rgba(0,188,212,0.28)"/><polygon points="1697.0,266.2 1701.3,266.8 1701.3,291.3 1697.0,292.0" fill="rgba(255,90,110,0.3)"/><polygon points="1701.3,266.8 1705.7,266.6 1710.1,266.3 1710.1,289.6 1705.7,290.5 1701.3,291.3" fill="rgba(0,188,212,0.28)"/><polygon points="1710.1,266.3 1714.4,266.4 1714.4,288.9 1710.1,289.6" fill="rgba(255,90,110,0.3)"/><polygon points="1714.4,266.4 1718.8,265.6 1718.8,287.9 1714.4,288.9" fill="rgba(0,188,212,0.28)"/><polygon points="1718.8,265.6 1723.2,266.6 1727.6,267.7 1727.6,287.2 1723.2,287.5 1718.8,287.9" fill="rgba(255,90,110,0.3)"/><polygon points="1727.6,267.7 1731.9,267.4 1736.3,267.3 1740.7,267.2 1745.0,267.1 1749.4,267.0 1753.8,267.0 1753.8,283.4 1749.4,284.0 1745.0,284.6 1740.7,285.2 1736.3,285.8 1731.9,286.5 1727.6,287.2" fill="rgba(0,188,212,0.28)"/><polyline points="0.0,108.8 6.0,108.7 10.3,108.6 14.7,108.4 19.1,108.4 23.4,108.4 27.8,108.4" fill="none" stroke="#e1bee7" stroke-width="1" stroke-linejoin="round"/><polyline points="27.8,108.4 32.2,108.4 36.6,108.4 40.9,108.4 45.3,108.4 49.7,108.5 54.0,108.5 58.4,108.6 62.8,108.7 67.1,108.7" fill="none" stroke="#bcbcbc" stroke-width="1" stroke-linejoin="round"/><polyline points="67.1,108.7 71.5,108.6 75.9,108.6 80.3,108.5 84.6,108.5 89.0,108.4 93.4,108.3 97.7,108.2 102.1,108.2 106.5,108.2" fill="none" stroke="#e1bee7" stroke-width="1" stroke-linejoin="round"/><polyline points="106.5,108.2 110.8,108.2" fill="none" stroke="#bcbcbc" stroke-width="1" stroke-linejoin="round"/><polyline points="110.8,108.2 115.2,108.1 119.6,108.1 123.9,108.0 128.3,108.0 132.7,107.9 137.1,107.8 141.4,107.8 145.8,107.8 150.2,107.7 154.5,107.7 158.9,107.7 163.3,107.7 167.6,107.7" fill="none" stroke="#e1bee7" stroke-width="1" stroke-linejoin="round"/><polyline points="167.6,107.7 172.0,107.7" fill="none" stroke="#bcbcbc" stroke-width="1" stroke-linejoin="round"/><polyline points="172.0,107.7 176.4,107.6 180.7,107.6 185.1,107.6 189.5,107.5 193.9,107.5 198.2,107.4 202.6,107.4" fill="none" stroke="#e1bee7" stroke-width="1" stroke-linejoin="round"/><polyline points="202.6,107.4 207.0,107.4 211.3,107.4 215.7,107.4 220.1,107.5 224.4,107.5 228.8,107.6 233.2,107.6" fill="none" stroke="#bcbcbc" stroke-width="1" stroke-linejoin="round"/><polyline points="233.2,107.6 237.6,107.6" fill="none" stroke="#e1bee7" stroke-width="1" stroke-linejoin="round"/><polyline points="237.6,107.6 241.9,107.6" fill="none" stroke="#bcbcbc" stroke-width="1" stroke-linejoin="round"/><polyline points="241.9,107.6 246.3,107.6" fill="none" stroke="#e1bee7" stroke-width="1" stroke-linejoin="round"/><polyline points="246.3,107.6 250.7,107.6 255.0,107.7 259.4,107.8 263.8,107.9 268.1,108.0 272.5,108.1 276.9,108.2 281.2,108.4 285.6,108.7 290.0,108.9 294.4,109.2 298.7,109.5 303.1,109.9 307.5,110.2 311.8,110.4 316.2,110.7 320.6,111.0 324.9,111.2 329.3,111.5 333.7,111.8 338.1,112.1 342.4,112.4 346.8,112.7 351.2,113.1 355.5,113.5 359.9,113.9 364.3,114.3 368.6,114.7 373.0,115.1 377.4,115.4 381.7,115.7 386.1,116.0 390.5,116.3 394.9,116.6 399.2,116.9 403.6,117.1 408.0,117.4 412.3,117.6 416.7,117.7 421.1,117.9 425.4,118.0 429.8,118.1 434.2,118.2 438.6,118.3 442.9,118.4 447.3,118.5 451.7,118.6 456.0,118.7 460.4,118.9 464.8,119.0 469.1,119.2 473.5,119.4 477.9,119.6 482.2,119.8 486.6,120.0 491.0,120.2 495.4,120.4 499.7,120.6 504.1,120.8 508.5,121.1 512.8,121.3 517.2,121.6 521.6,122.1 525.9,122.5 530.3,122.9 534.7,123.3 539.0,123.7 543.4,124.1 547.8,124.5 552.2,125.0 556.5,125.4 560.9,125.9 565.3,126.3 569.6,126.7 574.0,127.2 578.4,127.6 582.7,128.0 587.1,128.4 591.5,128.8 595.9,129.1 600.2,129.5 604.6,129.8 609.0,130.1 613.3,130.4 617.7,130.8 622.1,131.0 626.4,131.2 630.8,131.4 635.2,131.6 639.5,131.8 643.9,132.0 648.3,132.2 652.7,132.3 657.0,132.5 661.4,132.7 665.8,132.8 670.1,133.0 674.5,133.2 678.9,133.4 683.2,133.7 687.6,134.0 692.0,134.2 696.4,134.6 700.7,134.9 705.1,135.2 709.5,135.5 713.8,135.8 718.2,136.1 722.6,136.4 726.9,136.7 731.3,137.1 735.7,137.4 740.0,137.8 744.4,138.1 748.8,138.4 753.2,138.8 757.5,139.1 761.9,139.4 766.3,139.7 770.6,140.0 775.0,140.4 779.4,140.8 783.7,141.2 788.1,141.7 792.5,142.1 796.8,142.5 801.2,142.9 805.6,143.3 810.0,143.7 814.3,144.1 818.7,144.9 823.1,145.7 827.4,146.6 831.8,147.3 836.2,147.9 840.5,148.4 844.9,148.9 849.3,149.4 853.7,149.9 858.0,150.4 862.4,150.9 866.8,151.3 871.1,151.8 875.5,152.3 879.9,152.7 884.2,153.1 888.6,153.6 893.0,154.0 897.3,154.5 901.7,155.1 906.1,155.6 910.5,156.1 914.8,156.5 919.2,156.9 923.6,157.3 927.9,157.7 932.3,158.1 936.7,158.4 941.0,158.7 945.4,159.2 949.8,159.6 954.2,160.0 958.5,160.5 962.9,160.9 967.3,161.4 971.6,161.9 976.0,162.5 980.4,163.0 984.7,163.5 989.1,163.9 993.5,164.3 997.8,164.8 1002.2,165.2 1006.6,165.8 1011.0,166.3 1015.3,166.9 1019.7,167.5 1024.1,168.1 1028.4,168.7 1032.8,169.3 1037.2,170.0 1041.5,170.6 1045.9,171.3 1050.3,172.0 1054.6,172.7 1059.0,173.4 1063.4,174.2 1067.8,174.8 1072.1,175.6 1076.5,176.2 1080.9,177.0 1085.2,177.7 1089.6,178.4 1094.0,179.0 1098.3,179.7 1102.7,180.3 1107.1,180.9 1111.5,181.6 1115.8,182.4 1120.2,183.2 1124.6,184.0 1128.9,184.8 1133.3,185.7 1137.7,186.6 1142.0,187.5 1146.4,188.4 1150.8,189.2 1155.1,189.9 1159.5,190.7 1163.9,191.4 1168.3,192.2 1172.6,193.0 1177.0,193.9 1181.4,194.7 1185.7,195.6 1190.1,196.5 1194.5,197.3 1198.8,198.1 1203.2,198.9 1207.6,199.6 1212.0,200.2 1216.3,200.8 1220.7,201.4 1225.1,202.0 1229.4,202.7 1233.8,203.3 1238.2,203.9 1242.5,204.5 1246.9,205.1 1251.3,205.7 1255.6,206.3 1260.0,206.9 1264.4,207.5 1268.8,208.2 1273.1,208.8 1277.5,209.5 1281.9,210.3 1286.2,211.0 1290.6,211.8 1295.0,212.5 1299.3,213.0 1303.7,213.5 1308.1,214.0 1312.5,214.5 1316.8,214.9 1321.2,215.3 1325.6,215.8 1329.9,216.3 1334.3,216.8 1338.7,217.3 1343.0,217.8 1347.4,218.3 1351.8,218.8 1356.1,219.3 1360.5,219.8 1364.9,220.2 1369.3,220.7 1373.6,221.1 1378.0,221.6 1382.4,222.0 1386.7,222.5 1391.1,222.9 1395.5,223.3 1399.8,223.7 1404.2,224.1 1408.6,224.5 1412.9,224.9 1417.3,225.2 1421.7,225.6 1426.1,226.0 1430.4,226.5 1434.8,226.9 1439.2,227.4 1443.5,227.9 1447.9,228.3 1452.3,228.6 1456.6,229.0 1461.0,229.4 1465.4,229.7 1469.8,230.0 1474.1,230.3 1478.5,230.7 1482.9,231.1 1487.2,231.4 1491.6,231.7 1496.0,232.0 1500.3,232.3 1504.7,232.5 1509.1,232.7 1513.4,232.9 1517.8,233.1 1522.2,233.2 1526.6,233.4 1530.9,233.7 1535.3,233.9 1539.7,234.1 1544.0,234.3 1548.4,234.5 1552.8,234.7 1557.1,234.9 1561.5,235.1 1565.9,235.3 1570.3,235.5 1574.6,235.7 1579.0,235.9 1583.4,236.1 1587.7,236.3 1592.1,236.5 1596.5,236.6 1600.8,236.7 1605.2,236.9 1609.6,237.0 1613.9,237.1 1618.3,237.2 1622.7,237.3 1627.1,237.4 1631.4,237.5 1635.8,237.5 1640.2,237.5 1644.5,237.6 1648.9,237.6 1653.3,237.7 1657.6,237.7 1662.0,237.8 1666.4,237.9 1670.7,238.0 1675.1,238.1 1679.5,238.2 1683.9,238.3 1688.2,238.3 1692.6,238.4 1697.0,238.5 1701.3,238.6 1705.7,238.7 1710.1,238.8 1714.4,238.9 1718.8,238.9 1723.2,239.1 1727.6,239.2 1731.9,239.3 1736.3,239.4 1740.7,239.4 1745.0,239.5 1749.4,239.6 1753.8,239.7" fill="none" stroke="#bcbcbc" stroke-width="1" stroke-linejoin="round"/><polyline points="0.0,66.9 6.0,66.9 10.3,66.9" fill="none" stroke="#66bb6a" stroke-width="1" stroke-linejoin="round"/><polyline points="10.3,66.9 14.7,67.0 19.1,67.3 23.4,67.5 27.8,67.8 32.2,68.2 36.6,68.5 40.9,68.9 45.3,69.4 49.7,69.8 54.0,70.3 58.4,70.9 62.8,71.3 67.1,71.6 71.5,71.8 75.9,72.1 80.3,72.2 84.6,72.4 89.0,72.5 93.4,72.5 97.7,72.6 102.1,72.8 106.5,73.0 110.8,73.3 115.2,73.6 119.6,73.7 123.9,73.9 128.3,74.0 132.7,74.2 137.1,74.2 141.4,74.4 145.8,74.7 150.2,74.9 154.5,75.1 158.9,75.4 163.3,75.6 167.6,75.7 172.0,76.0 176.4,76.2 180.7,76.4 185.1,76.6 189.5,76.8 193.9,76.9 198.2,77.0 202.6,77.2 207.0,77.5 211.3,77.8 215.7,78.1 220.1,78.4 224.4,78.8 228.8,79.2 233.2,79.5 237.6,79.7 241.9,80.0 246.3,80.2 250.7,80.5 255.0,80.9 259.4,81.3 263.8,81.8 268.1,82.4 272.5,82.8 276.9,83.4 281.2,84.1 285.6,84.9 290.0,85.8 294.4,86.8 298.7,87.8 303.1,88.8 307.5,89.8 311.8,90.7 316.2,91.7 320.6,92.4 324.9,93.2 329.3,94.2 333.7,95.2 338.1,96.0 342.4,96.9 346.8,97.9 351.2,99.0 355.5,100.1 359.9,101.2 364.3,102.4 368.6,103.6 373.0,104.7 377.4,105.6 381.7,106.5 386.1,107.3 390.5,108.2 394.9,109.0 399.2,109.7 403.6,110.6 408.0,111.2 412.3,111.8 416.7,112.3 421.1,112.6 425.4,113.0 429.8,113.3 434.2,113.7 438.6,114.0 442.9,114.3 447.3,114.6 451.7,114.8 456.0,115.3 460.4,115.6 464.8,116.0 469.1,116.5 473.5,117.0 477.9,117.7 482.2,118.2 486.6,118.7 491.0,119.2 495.4,119.8 499.7,120.4 504.1,120.9 508.5,121.5 512.8,122.1 517.2,123.0 521.6,124.1 525.9,125.2 530.3,126.2 534.7,127.3 539.0,128.3 543.4,129.3 547.8,130.3 552.2,131.4 556.5,132.6 560.9,133.8 565.3,134.8 569.6,135.8 574.0,136.8 578.4,137.8 582.7,138.7 587.1,139.8 591.5,140.6 595.9,141.5 600.2,142.3 604.6,143.1 609.0,143.8 613.3,144.5 617.7,145.2 622.1,145.6 626.4,146.1 630.8,146.5 635.2,146.9 639.5,147.3 643.9,147.7 648.3,147.9 652.7,148.2 657.0,148.6 661.4,148.9 665.8,149.1 670.1,149.5 674.5,149.9 678.9,150.3 683.2,150.8 687.6,151.3 692.0,151.9 696.4,152.6 700.7,153.3 705.1,154.0 709.5,154.6 713.8,155.2 718.2,155.8 722.6,156.4 726.9,157.1 731.3,157.9 735.7,158.6 740.0,159.3 744.4,160.0 748.8,160.7 753.2,161.4 757.5,162.0 761.9,162.5 766.3,163.2 770.6,163.8 775.0,164.7 779.4,165.6 783.7,166.4 788.1,167.4 792.5,168.3 796.8,169.0 801.2,169.8 805.6,170.6 810.0,171.5 814.3,172.3 818.7,174.2 823.1,176.0 827.4,178.1 831.8,179.7 836.2,180.9 840.5,181.9 844.9,183.0 849.3,184.1 853.7,185.1 858.0,186.0 862.4,187.0 866.8,187.7 871.1,188.6 875.5,189.6 879.9,190.6 884.2,191.3 888.6,192.1 893.0,193.0 897.3,194.0 901.7,195.0 906.1,195.9 910.5,197.0 914.8,197.7 919.2,198.5 923.6,199.1 927.9,199.7 932.3,200.4 936.7,200.9 941.0,201.4 945.4,202.1 949.8,202.8 954.2,203.6 958.5,204.5 962.9,205.3 967.3,206.2 971.6,207.1 976.0,208.1 980.4,209.1 984.7,210.0 989.1,210.7 993.5,211.4 997.8,212.1 1002.2,213.0 1006.6,214.0 1011.0,215.0 1015.3,216.1 1019.7,217.3 1024.1,218.3 1028.4,219.5 1032.8,220.7 1037.2,221.9 1041.5,223.2 1045.9,224.5 1050.3,225.8 1054.6,227.2 1059.0,228.7 1063.4,230.2 1067.8,231.5 1072.1,232.9 1076.5,234.1 1080.9,235.6 1085.2,236.9 1089.6,238.3 1094.0,239.4 1098.3,240.5 1102.7,241.6 1107.1,242.8 1111.5,244.1 1115.8,245.5 1120.2,247.0 1124.6,248.6 1128.9,250.3 1133.3,252.1 1137.7,253.8 1142.0,255.6 1146.4,257.2 1150.8,258.8 1155.1,260.2 1159.5,261.5 1163.9,262.8 1168.3,264.2 1172.6,265.8 1177.0,267.3 1181.4,268.9 1185.7,270.6 1190.1,272.2 1194.5,273.9 1198.8,275.2 1203.2,276.5 1207.6,277.7 1212.0,278.7 1216.3,279.6 1220.7,280.4 1225.1,281.5 1229.4,282.5 1233.8,283.3 1238.2,284.2 1242.5,285.1 1246.9,286.1 1251.3,287.0 1255.6,287.9 1260.0,288.7 1264.4,289.6 1268.8,290.6 1273.1,291.6 1277.5,292.8 1281.9,293.9 1286.2,295.2 1290.6,296.4 1295.0,297.5 1299.3,298.3 1303.7,298.8 1308.1,299.4 1312.5,299.9 1316.8,300.3 1321.2,300.7 1325.6,301.2 1329.9,301.8 1334.3,302.4 1338.7,302.9 1343.0,303.4 1347.4,304.0 1351.8,304.6 1356.1,305.2 1360.5,305.7 1364.9,306.2 1369.3,306.7 1373.6,307.1 1378.0,307.4 1382.4,307.8 1386.7,308.4 1391.1,308.8 1395.5,309.1 1399.8,309.3 1404.2,309.7 1408.6,310.0 1412.9,310.2 1417.3,310.5 1421.7,310.8 1426.1,311.1 1430.4,311.5 1434.8,312.0 1439.2,312.5 1443.5,313.0 1447.9,313.3 1452.3,313.6 1456.6,313.8 1461.0,314.0 1465.4,314.1 1469.8,314.2 1474.1,314.3 1478.5,314.5 1482.9,314.8 1487.2,315.0 1491.6,315.2 1496.0,315.2" fill="none" stroke="#2ec5d9" stroke-width="1" stroke-linejoin="round"/><polyline points="1496.0,315.2 1500.3,315.2 1504.7,315.1 1509.1,314.9 1513.4,314.7 1517.8,314.5 1522.2,314.2 1526.6,314.0 1530.9,313.9 1535.3,313.9 1539.7,313.7 1544.0,313.6 1548.4,313.5 1552.8,313.4 1557.1,313.2 1561.5,312.9 1565.9,312.7 1570.3,312.6 1574.6,312.5 1579.0,312.4 1583.4,312.2 1587.7,312.1 1592.1,311.9 1596.5,311.6 1600.8,311.4 1605.2,311.1 1609.6,310.8 1613.9,310.3 1618.3,310.0 1622.7,309.6 1627.1,309.3 1631.4,308.9 1635.8,308.4 1640.2,307.9 1644.5,307.3 1648.9,306.9 1653.3,306.4 1657.6,306.0 1662.0,305.5 1666.4,305.2 1670.7,305.0 1675.1,304.7 1679.5,304.4 1683.9,304.0 1688.2,303.6 1692.6,303.3 1697.0,302.9 1701.3,302.6 1705.7,302.3 1710.1,302.0 1714.4,301.7 1718.8,301.3 1723.2,301.1 1727.6,300.9 1731.9,300.6 1736.3,300.3 1740.7,300.0 1745.0,299.7 1749.4,299.5 1753.8,299.2" fill="none" stroke="#66bb6a" stroke-width="1" stroke-linejoin="round"/><polyline points="0.0,64.6 6.0,64.4" fill="none" stroke="#f48f8f" stroke-width="1" stroke-linejoin="round"/><polyline points="6.0,64.4 10.3,64.6 14.7,65.7 19.1,68.9 23.4,71.6 27.8,74.0 32.2,77.3 36.6,80.2 40.9,83.0 45.3,87.0 49.7,90.5 54.0,93.6 58.4,97.5 62.8,99.8 67.1,100.6" fill="none" stroke="#a5b3f5" stroke-width="1" stroke-linejoin="round"/><polyline points="67.1,100.6 71.5,99.9" fill="none" stroke="#f48f8f" stroke-width="1" stroke-linejoin="round"/><polyline points="71.5,99.9 75.9,100.0" fill="none" stroke="#a5b3f5" stroke-width="1" stroke-linejoin="round"/><polyline points="75.9,100.0 80.3,98.9 84.6,98.8 89.0,97.4 93.4,95.4 97.7,94.3 102.1,94.2" fill="none" stroke="#f48f8f" stroke-width="1" stroke-linejoin="round"/><polyline points="102.1,94.2 106.5,94.6 110.8,96.1 115.2,96.3 119.6,96.3" fill="none" stroke="#a5b3f5" stroke-width="1" stroke-linejoin="round"/><polyline points="119.6,96.3 123.9,95.8 128.3,95.4 132.7,94.7 137.1,93.8" fill="none" stroke="#f48f8f" stroke-width="1" stroke-linejoin="round"/><polyline points="137.1,93.8 141.4,94.0 145.8,94.7 150.2,95.1 154.5,95.8 158.9,96.7 163.3,96.8" fill="none" stroke="#a5b3f5" stroke-width="1" stroke-linejoin="round"/><polyline points="163.3,96.8 167.6,96.7" fill="none" stroke="#f48f8f" stroke-width="1" stroke-linejoin="round"/><polyline points="167.6,96.7 172.0,97.7" fill="none" stroke="#a5b3f5" stroke-width="1" stroke-linejoin="round"/><polyline points="172.0,97.7 176.4,97.3" fill="none" stroke="#f48f8f" stroke-width="1" stroke-linejoin="round"/><polyline points="176.4,97.3 180.7,97.6 185.1,97.8 189.5,98.0" fill="none" stroke="#a5b3f5" stroke-width="1" stroke-linejoin="round"/><polyline points="189.5,98.0 193.9,97.2 198.2,96.5" fill="none" stroke="#f48f8f" stroke-width="1" stroke-linejoin="round"/><polyline points="198.2,96.5 202.6,97.2 207.0,98.8 211.3,99.9 215.7,100.7 220.1,102.3 224.4,104.5 228.8,106.1 233.2,106.5 237.6,106.6 241.9,106.9 246.3,106.9 250.7,107.8 255.0,109.4 259.4,111.3 263.8,114.3 268.1,117.1 272.5,118.4 276.9,121.5 281.2,125.9 285.6,130.4 290.0,136.0 294.4,141.6 298.7,148.1 303.1,153.4 307.5,157.4 311.8,160.7 316.2,165.1 320.6,166.7 324.9,168.6 329.3,171.6 333.7,175.1 338.1,176.5 342.4,178.9 346.8,182.4 351.2,186.1 355.5,190.2 359.9,193.6 364.3,198.5 368.6,202.4 373.0,204.7 377.4,206.0 381.7,206.3" fill="none" stroke="#a5b3f5" stroke-width="1" stroke-linejoin="round"/><polyline points="381.7,206.3 386.1,206.0 390.5,205.8 394.9,205.6 399.2,205.0" fill="none" stroke="#f48f8f" stroke-width="1" stroke-linejoin="round"/><polyline points="399.2,205.0 403.6,205.2" fill="none" stroke="#a5b3f5" stroke-width="1" stroke-linejoin="round"/><polyline points="403.6,205.2 408.0,203.2 412.3,201.4 416.7,198.1 421.1,194.3 425.4,191.1 429.8,187.0 434.2,184.2 438.6,181.1 442.9,178.3 447.3,175.4 451.7,172.7 456.0,172.0 460.4,170.8 464.8,170.2" fill="none" stroke="#f48f8f" stroke-width="1" stroke-linejoin="round"/><polyline points="464.8,170.2 469.1,170.5 473.5,171.0 477.9,173.0 482.2,173.3 486.6,174.1 491.0,174.3 495.4,175.8 499.7,176.7 504.1,177.3 508.5,178.2 512.8,179.9 517.2,183.9 521.6,189.8 525.9,196.3 530.3,200.6 534.7,205.1 539.0,208.7 543.4,212.0 547.8,215.0 552.2,219.2 556.5,224.3 560.9,228.7 565.3,230.9 569.6,232.2 574.0,234.6 578.4,236.5 582.7,237.3 587.1,239.4 591.5,239.8 595.9,240.2" fill="none" stroke="#a5b3f5" stroke-width="1" stroke-linejoin="round"/><polyline points="595.9,240.2 600.2,239.5 604.6,238.7 609.0,237.5 613.3,236.5 617.7,235.6 622.1,232.6 626.4,229.4 630.8,226.6 635.2,223.7 639.5,220.8 643.9,217.8 648.3,214.2 652.7,211.2 657.0,209.3 661.4,206.9 665.8,204.6 670.1,203.1 674.5,202.6 678.9,202.4" fill="none" stroke="#f48f8f" stroke-width="1" stroke-linejoin="round"/><polyline points="678.9,202.4 683.2,202.8 687.6,203.9 692.0,205.3 696.4,207.9 700.7,210.3 705.1,212.2 709.5,214.1 713.8,214.8 718.2,215.6 722.6,217.1 726.9,218.5 731.3,221.0 735.7,223.2 740.0,224.9 744.4,226.5 748.8,227.9 753.2,229.4" fill="none" stroke="#a5b3f5" stroke-width="1" stroke-linejoin="round"/><polyline points="753.2,229.4 757.5,229.0" fill="none" stroke="#f48f8f" stroke-width="1" stroke-linejoin="round"/><polyline points="757.5,229.0 761.9,229.1 766.3,230.0 770.6,230.8 775.0,233.5 779.4,236.8 783.7,239.6 788.1,242.9 792.5,246.0 796.8,246.8 801.2,247.9 805.6,249.9 810.0,251.5 814.3,253.2 818.7,265.6 823.1,277.0 827.4,290.8 831.8,297.0 836.2,298.7 840.5,299.3 844.9,299.9 849.3,300.9 853.7,301.3" fill="none" stroke="#a5b3f5" stroke-width="1" stroke-linejoin="round"/><polyline points="853.7,301.3 858.0,300.6 862.4,300.4 866.8,297.7" fill="none" stroke="#f48f8f" stroke-width="1" stroke-linejoin="round"/><polyline points="866.8,297.7 871.1,297.9 875.5,298.8" fill="none" stroke="#a5b3f5" stroke-width="1" stroke-linejoin="round"/><polyline points="875.5,298.8 879.9,298.7 884.2,296.5 888.6,296.0 893.0,295.6" fill="none" stroke="#f48f8f" stroke-width="1" stroke-linejoin="round"/><polyline points="893.0,295.6 897.3,296.8 901.7,298.4 906.1,298.7 910.5,300.7" fill="none" stroke="#a5b3f5" stroke-width="1" stroke-linejoin="round"/><polyline points="910.5,300.7 914.8,299.7 919.2,298.5 923.6,296.2 927.9,293.7 932.3,291.9 936.7,289.0 941.0,286.4" fill="none" stroke="#f48f8f" stroke-width="1" stroke-linejoin="round"/><polyline points="941.0,286.4 945.4,286.4" fill="none" stroke="#a5b3f5" stroke-width="1" stroke-linejoin="round"/><polyline points="945.4,286.4 949.8,286.3" fill="none" stroke="#f48f8f" stroke-width="1" stroke-linejoin="round"/><polyline points="949.8,286.3 954.2,287.2 958.5,288.7 962.9,289.9 967.3,291.9 971.6,294.1 976.0,296.7 980.4,299.1 984.7,300.6" fill="none" stroke="#a5b3f5" stroke-width="1" stroke-linejoin="round"/><polyline points="984.7,300.6 989.1,300.0 993.5,299.7 997.8,299.1" fill="none" stroke="#f48f8f" stroke-width="1" stroke-linejoin="round"/><polyline points="997.8,299.1 1002.2,300.4 1006.6,302.7 1011.0,306.1 1015.3,309.6 1019.7,313.5 1024.1,315.9 1028.4,319.5 1032.8,322.7 1037.2,327.2 1041.5,331.0 1045.9,334.7 1050.3,338.8 1054.6,343.8 1059.0,348.9 1063.4,354.0 1067.8,356.4 1072.1,360.6 1076.5,362.1 1080.9,365.6 1085.2,368.1 1089.6,370.7 1094.0,371.1" fill="none" stroke="#a5b3f5" stroke-width="1" stroke-linejoin="round"/><polyline points="1094.0,371.1 1098.3,370.9 1102.7,370.6" fill="none" stroke="#f48f8f" stroke-width="1" stroke-linejoin="round"/><polyline points="1102.7,370.6 1107.1,371.3 1111.5,373.9 1115.8,376.8 1120.2,381.3 1124.6,385.5 1128.9,391.4 1133.3,397.6 1137.7,403.1 1142.0,408.5 1146.4,411.8 1150.8,414.5 1155.1,415.3" fill="none" stroke="#a5b3f5" stroke-width="1" stroke-linejoin="round"/><polyline points="1155.1,415.3 1159.5,415.1" fill="none" stroke="#f48f8f" stroke-width="1" stroke-linejoin="round"/><polyline points="1159.5,415.1 1163.9,415.1 1168.3,416.8 1172.6,419.4 1177.0,422.1 1181.4,424.8 1185.7,428.8 1190.1,431.9 1194.5,434.6 1198.8,434.6" fill="none" stroke="#a5b3f5" stroke-width="1" stroke-linejoin="round"/><polyline points="1198.8,434.6 1203.2,434.2 1207.6,432.3 1212.0,428.5 1216.3,424.4 1220.7,420.5 1225.1,418.7 1229.4,417.1 1233.8,414.1 1238.2,411.5 1242.5,409.8 1246.9,408.3 1251.3,407.6 1255.6,405.7 1260.0,404.1 1264.4,403.5 1268.8,403.0" fill="none" stroke="#f48f8f" stroke-width="1" stroke-linejoin="round"/><polyline points="1268.8,403.0 1273.1,404.2 1277.5,406.0 1281.9,408.3 1286.2,411.4 1290.6,414.0 1295.0,415.0" fill="none" stroke="#a5b3f5" stroke-width="1" stroke-linejoin="round"/><polyline points="1295.0,415.0 1299.3,412.7 1303.7,407.7 1308.1,403.8 1312.5,399.4 1316.8,394.6 1321.2,390.3 1325.6,388.4 1329.9,386.4 1334.3,384.7 1338.7,383.0 1343.0,381.1 1347.4,380.4 1351.8,380.1 1356.1,379.0 1360.5,377.7 1364.9,376.6 1369.3,375.5 1373.6,373.6 1378.0,371.3 1382.4,369.5" fill="none" stroke="#f48f8f" stroke-width="1" stroke-linejoin="round"/><polyline points="1382.4,369.5 1386.7,369.7" fill="none" stroke="#a5b3f5" stroke-width="1" stroke-linejoin="round"/><polyline points="1386.7,369.7 1391.1,368.6 1395.5,366.4 1399.8,363.9 1404.2,362.7 1408.6,360.9 1412.9,358.8 1417.3,357.4 1421.7,356.2 1426.1,355.1" fill="none" stroke="#f48f8f" stroke-width="1" stroke-linejoin="round"/><polyline points="1426.1,355.1 1430.4,356.3 1434.8,357.3 1439.2,358.5 1443.5,359.0" fill="none" stroke="#a5b3f5" stroke-width="1" stroke-linejoin="round"/><polyline points="1443.5,359.0 1447.9,358.8 1452.3,357.2 1456.6,355.9 1461.0,353.7 1465.4,351.6 1469.8,349.2 1474.1,347.0 1478.5,346.2" fill="none" stroke="#f48f8f" stroke-width="1" stroke-linejoin="round"/><polyline points="1478.5,346.2 1482.9,346.8" fill="none" stroke="#a5b3f5" stroke-width="1" stroke-linejoin="round"/><polyline points="1482.9,346.8 1487.2,345.6 1491.6,344.7 1496.0,342.7 1500.3,339.8 1504.7,336.7 1509.1,333.0 1513.4,329.1 1517.8,325.3 1522.2,321.1 1526.6,318.7 1530.9,317.2 1535.3,316.4 1539.7,314.0 1544.0,312.8 1548.4,311.8 1552.8,310.7 1557.1,308.9 1561.5,306.9 1565.9,305.1 1570.3,304.1" fill="none" stroke="#f48f8f" stroke-width="1" stroke-linejoin="round"/><polyline points="1570.3,304.1 1574.6,304.2" fill="none" stroke="#a5b3f5" stroke-width="1" stroke-linejoin="round"/><polyline points="1574.6,304.2 1579.0,303.7 1583.4,302.9 1587.7,302.5 1592.1,301.5 1596.5,299.2 1600.8,297.5 1605.2,295.5 1609.6,293.8 1613.9,290.6 1618.3,288.4 1622.7,286.6 1627.1,285.3 1631.4,283.2 1635.8,280.7 1640.2,277.4 1644.5,274.2 1648.9,272.4 1653.3,270.8 1657.6,269.2 1662.0,267.8" fill="none" stroke="#f48f8f" stroke-width="1" stroke-linejoin="round"/><polyline points="1662.0,267.8 1666.4,267.9 1670.7,268.6 1675.1,268.9" fill="none" stroke="#a5b3f5" stroke-width="1" stroke-linejoin="round"/><polyline points="1675.1,268.9 1679.5,268.8 1683.9,268.2 1688.2,267.2" fill="none" stroke="#f48f8f" stroke-width="1" stroke-linejoin="round"/><polyline points="1688.2,267.2 1692.6,267.3" fill="none" stroke="#a5b3f5" stroke-width="1" stroke-linejoin="round"/><polyline points="1692.6,267.3 1697.0,266.2" fill="none" stroke="#f48f8f" stroke-width="1" stroke-linejoin="round"/><polyline points="1697.0,266.2 1701.3,266.8" fill="none" stroke="#a5b3f5" stroke-width="1" stroke-linejoin="round"/><polyline points="1701.3,266.8 1705.7,266.6 1710.1,266.3" fill="none" stroke="#f48f8f" stroke-width="1" stroke-linejoin="round"/><polyline points="1710.1,266.3 1714.4,266.4" fill="none" stroke="#a5b3f5" stroke-width="1" stroke-linejoin="round"/><polyline points="1714.4,266.4 1718.8,265.6" fill="none" stroke="#f48f8f" stroke-width="1" stroke-linejoin="round"/><polyline points="1718.8,265.6 1723.2,266.6 1727.6,267.7" fill="none" stroke="#a5b3f5" stroke-width="1" stroke-linejoin="round"/><polyline points="1727.6,267.7 1731.9,267.4 1736.3,267.3 1740.7,267.2 1745.0,267.1 1749.4,267.0 1753.8,267.0" fill="none" stroke="#f48f8f" stroke-width="1" stroke-linejoin="round"/><path d="M22,514 L22,500.5 C40,499.8 80,499.8 100,501 C106,501.5 108,503 110,505 C114,509 120,511 130,512 L1700,512 L1736,511 L1739,500 L1753.6,500 L1753.6,514 Z" fill="#e3e3e3" opacity="0.8"/><rect x="-0.2" y="504.8" width="3.6" height="9.2" fill="#9b9b9b"/><rect x="4.2" y="504.8" width="3.6" height="9.2" fill="#9b9b9b"/><rect x="8.5" y="503.3" width="3.6" height="10.7" fill="#9b9b9b"/><rect x="12.9" y="500.2" width="3.6" height="13.8" fill="#9b9b9b"/><rect x="17.3" y="490.8" width="3.6" height="23.2" fill="#9b9b9b"/><rect x="21.6" y="406.0" width="3.6" height="108.0" fill="#d6d6d6"/><rect x="26.0" y="504.0" width="3.6" height="10.0" fill="#d3d3d3"/><rect x="30.4" y="488.0" width="3.6" height="26.0" fill="#9b9b9b"/><rect x="34.8" y="511.7" width="3.6" height="2.3" fill="#9b9b9b"/><rect x="39.1" y="510.7" width="3.6" height="3.3" fill="#9b9b9b"/><rect x="43.5" y="511.7" width="3.6" height="2.3" fill="#9b9b9b"/><rect x="47.9" y="510.6" width="3.6" height="3.4" fill="#9b9b9b"/><rect x="52.2" y="510.1" width="3.6" height="3.9" fill="#d3d3d3"/><rect x="56.6" y="511.1" width="3.6" height="2.9" fill="#9b9b9b"/><rect x="61.0" y="510.0" width="3.6" height="4.0" fill="#d3d3d3"/><rect x="65.3" y="510.3" width="3.6" height="3.7" fill="#d3d3d3"/><rect x="69.7" y="511.7" width="3.6" height="2.3" fill="#d3d3d3"/><rect x="74.1" y="510.3" width="3.6" height="3.7" fill="#9b9b9b"/><rect x="78.5" y="511.1" width="3.6" height="2.9" fill="#d3d3d3"/><rect x="82.8" y="510.7" width="3.6" height="3.3" fill="#9b9b9b"/><rect x="87.2" y="511.1" width="3.6" height="2.9" fill="#d3d3d3"/><rect x="91.6" y="510.0" width="3.6" height="4.0" fill="#d3d3d3"/><rect x="95.9" y="510.7" width="3.6" height="3.3" fill="#9b9b9b"/><rect x="100.3" y="511.4" width="3.6" height="2.6" fill="#9b9b9b"/><rect x="104.7" y="510.4" width="3.6" height="3.6" fill="#9b9b9b"/><rect x="109.0" y="509.8" width="3.6" height="4.2" fill="#9b9b9b"/><rect x="113.4" y="511.0" width="3.6" height="3.0" fill="#d3d3d3"/><rect x="117.8" y="511.2" width="3.6" height="2.8" fill="#d3d3d3"/><rect x="122.1" y="510.8" width="3.6" height="3.2" fill="#d3d3d3"/><rect x="126.5" y="509.4" width="3.6" height="4.6" fill="#9b9b9b"/><rect x="130.9" y="509.3" width="3.6" height="4.7" fill="#d3d3d3"/><rect x="135.3" y="510.1" width="3.6" height="3.9" fill="#d3d3d3"/><rect x="139.6" y="509.5" width="3.6" height="4.5" fill="#9b9b9b"/><rect x="144.0" y="509.6" width="3.6" height="4.4" fill="#9b9b9b"/><rect x="148.4" y="510.8" width="3.6" height="3.2" fill="#d3d3d3"/><rect x="152.7" y="511.6" width="3.6" height="2.4" fill="#9b9b9b"/><rect x="157.1" y="510.1" width="3.6" height="3.9" fill="#9b9b9b"/><rect x="161.5" y="510.3" width="3.6" height="3.7" fill="#d3d3d3"/><rect x="165.8" y="510.9" width="3.6" height="3.1" fill="#d3d3d3"/><rect x="170.2" y="511.2" width="3.6" height="2.8" fill="#9b9b9b"/><rect x="174.6" y="510.7" width="3.6" height="3.3" fill="#d3d3d3"/><rect x="178.9" y="510.6" width="3.6" height="3.4" fill="#9b9b9b"/><rect x="183.3" y="511.1" width="3.6" height="2.9" fill="#9b9b9b"/><rect x="187.7" y="511.0" width="3.6" height="3.0" fill="#9b9b9b"/><rect x="192.1" y="510.6" width="3.6" height="3.4" fill="#d3d3d3"/><rect x="196.4" y="509.6" width="3.6" height="4.4" fill="#d3d3d3"/><rect x="200.8" y="510.3" width="3.6" height="3.7" fill="#9b9b9b"/><rect x="205.2" y="511.1" width="3.6" height="2.9" fill="#9b9b9b"/><rect x="209.5" y="511.1" width="3.6" height="2.9" fill="#d3d3d3"/><rect x="213.9" y="510.6" width="3.6" height="3.4" fill="#d3d3d3"/><rect x="218.3" y="511.3" width="3.6" height="2.7" fill="#9b9b9b"/><rect x="222.6" y="511.3" width="3.6" height="2.7" fill="#9b9b9b"/><rect x="227.0" y="510.5" width="3.6" height="3.5" fill="#d3d3d3"/><rect x="231.4" y="511.6" width="3.6" height="2.4" fill="#d3d3d3"/><rect x="235.8" y="510.5" width="3.6" height="3.5" fill="#d3d3d3"/><rect x="240.1" y="510.9" width="3.6" height="3.1" fill="#9b9b9b"/><rect x="244.5" y="510.0" width="3.6" height="4.0" fill="#d3d3d3"/><rect x="248.9" y="509.9" width="3.6" height="4.1" fill="#9b9b9b"/><rect x="253.2" y="510.0" width="3.6" height="4.0" fill="#9b9b9b"/><rect x="257.6" y="510.0" width="3.6" height="4.0" fill="#9b9b9b"/><rect x="262.0" y="510.8" width="3.6" height="3.2" fill="#9b9b9b"/><rect x="266.3" y="510.1" width="3.6" height="3.9" fill="#9b9b9b"/><rect x="270.7" y="510.9" width="3.6" height="3.1" fill="#d3d3d3"/><rect x="275.1" y="510.3" width="3.6" height="3.7" fill="#9b9b9b"/><rect x="279.4" y="511.0" width="3.6" height="3.0" fill="#9b9b9b"/><rect x="283.8" y="510.6" width="3.6" height="3.4" fill="#9b9b9b"/><rect x="288.2" y="511.6" width="3.6" height="2.4" fill="#9b9b9b"/><rect x="292.6" y="511.2" width="3.6" height="2.8" fill="#9b9b9b"/><rect x="296.9" y="509.3" width="3.6" height="4.7" fill="#9b9b9b"/><rect x="301.3" y="511.2" width="3.6" height="2.8" fill="#d3d3d3"/><rect x="305.7" y="510.0" width="3.6" height="4.0" fill="#d3d3d3"/><rect x="310.0" y="510.1" width="3.6" height="3.9" fill="#d3d3d3"/><rect x="314.4" y="509.9" width="3.6" height="4.1" fill="#9b9b9b"/><rect x="318.8" y="510.6" width="3.6" height="3.4" fill="#d3d3d3"/><rect x="323.1" y="510.2" width="3.6" height="3.8" fill="#9b9b9b"/><rect x="327.5" y="511.6" width="3.6" height="2.4" fill="#9b9b9b"/><rect x="331.9" y="511.6" width="3.6" height="2.4" fill="#9b9b9b"/><rect x="336.3" y="511.3" width="3.6" height="2.7" fill="#d3d3d3"/><rect x="340.6" y="511.4" width="3.6" height="2.6" fill="#9b9b9b"/><rect x="345.0" y="511.5" width="3.6" height="2.5" fill="#9b9b9b"/><rect x="349.4" y="511.5" width="3.6" height="2.5" fill="#9b9b9b"/><rect x="353.7" y="510.4" width="3.6" height="3.6" fill="#9b9b9b"/><rect x="358.1" y="511.3" width="3.6" height="2.7" fill="#d3d3d3"/><rect x="362.5" y="509.3" width="3.6" height="4.7" fill="#9b9b9b"/><rect x="366.8" y="510.0" width="3.6" height="4.0" fill="#d3d3d3"/><rect x="371.2" y="510.4" width="3.6" height="3.6" fill="#d3d3d3"/><rect x="375.6" y="510.0" width="3.6" height="4.0" fill="#d3d3d3"/><rect x="379.9" y="511.1" width="3.6" height="2.9" fill="#d3d3d3"/><rect x="384.3" y="509.4" width="3.6" height="4.6" fill="#d3d3d3"/><rect x="388.7" y="509.6" width="3.6" height="4.4" fill="#9b9b9b"/><rect x="393.1" y="509.9" width="3.6" height="4.1" fill="#9b9b9b"/><rect x="397.4" y="510.6" width="3.6" height="3.4" fill="#d3d3d3"/><rect x="401.8" y="509.6" width="3.6" height="4.4" fill="#9b9b9b"/><rect x="406.2" y="509.9" width="3.6" height="4.1" fill="#d3d3d3"/><rect x="410.5" y="510.1" width="3.6" height="3.9" fill="#9b9b9b"/><rect x="414.9" y="509.4" width="3.6" height="4.6" fill="#d3d3d3"/><rect x="419.3" y="510.2" width="3.6" height="3.8" fill="#d3d3d3"/><rect x="423.6" y="510.8" width="3.6" height="3.2" fill="#9b9b9b"/><rect x="428.0" y="510.4" width="3.6" height="3.6" fill="#d3d3d3"/><rect x="432.4" y="511.3" width="3.6" height="2.7" fill="#9b9b9b"/><rect x="436.8" y="511.3" width="3.6" height="2.7" fill="#d3d3d3"/><rect x="441.1" y="509.9" width="3.6" height="4.1" fill="#9b9b9b"/><rect x="445.5" y="509.8" width="3.6" height="4.2" fill="#d3d3d3"/><rect x="449.9" y="509.3" width="3.6" height="4.7" fill="#d3d3d3"/><rect x="454.2" y="509.6" width="3.6" height="4.4" fill="#9b9b9b"/><rect x="458.6" y="510.4" width="3.6" height="3.6" fill="#d3d3d3"/><rect x="463.0" y="511.6" width="3.6" height="2.4" fill="#9b9b9b"/><rect x="467.3" y="510.5" width="3.6" height="3.5" fill="#9b9b9b"/><rect x="471.7" y="509.4" width="3.6" height="4.6" fill="#9b9b9b"/><rect x="476.1" y="509.8" width="3.6" height="4.2" fill="#9b9b9b"/><rect x="480.4" y="510.5" width="3.6" height="3.5" fill="#d3d3d3"/><rect x="484.8" y="510.6" width="3.6" height="3.4" fill="#9b9b9b"/><rect x="489.2" y="511.2" width="3.6" height="2.8" fill="#d3d3d3"/><rect x="493.6" y="511.3" width="3.6" height="2.7" fill="#9b9b9b"/><rect x="497.9" y="511.6" width="3.6" height="2.4" fill="#d3d3d3"/><rect x="502.3" y="509.5" width="3.6" height="4.5" fill="#d3d3d3"/><rect x="506.7" y="510.1" width="3.6" height="3.9" fill="#9b9b9b"/><rect x="511.0" y="511.4" width="3.6" height="2.6" fill="#9b9b9b"/><rect x="515.4" y="510.7" width="3.6" height="3.3" fill="#9b9b9b"/><rect x="519.8" y="511.7" width="3.6" height="2.3" fill="#9b9b9b"/><rect x="524.1" y="511.3" width="3.6" height="2.7" fill="#9b9b9b"/><rect x="528.5" y="509.9" width="3.6" height="4.1" fill="#d3d3d3"/><rect x="532.9" y="510.1" width="3.6" height="3.9" fill="#9b9b9b"/><rect x="537.2" y="510.6" width="3.6" height="3.4" fill="#d3d3d3"/><rect x="541.6" y="511.1" width="3.6" height="2.9" fill="#9b9b9b"/><rect x="546.0" y="510.1" width="3.6" height="3.9" fill="#9b9b9b"/><rect x="550.4" y="509.3" width="3.6" height="4.7" fill="#9b9b9b"/><rect x="554.7" y="510.7" width="3.6" height="3.3" fill="#9b9b9b"/><rect x="559.1" y="511.6" width="3.6" height="2.4" fill="#9b9b9b"/><rect x="563.5" y="511.6" width="3.6" height="2.4" fill="#d3d3d3"/><rect x="567.8" y="511.6" width="3.6" height="2.4" fill="#d3d3d3"/><rect x="572.2" y="509.3" width="3.6" height="4.7" fill="#9b9b9b"/><rect x="576.6" y="510.4" width="3.6" height="3.6" fill="#d3d3d3"/><rect x="580.9" y="509.6" width="3.6" height="4.4" fill="#d3d3d3"/><rect x="585.3" y="511.4" width="3.6" height="2.6" fill="#9b9b9b"/><rect x="589.7" y="511.1" width="3.6" height="2.9" fill="#d3d3d3"/><rect x="594.1" y="510.0" width="3.6" height="4.0" fill="#9b9b9b"/><rect x="598.4" y="509.5" width="3.6" height="4.5" fill="#d3d3d3"/><rect x="602.8" y="510.9" width="3.6" height="3.1" fill="#d3d3d3"/><rect x="607.2" y="511.6" width="3.6" height="2.4" fill="#d3d3d3"/><rect x="611.5" y="509.6" width="3.6" height="4.4" fill="#9b9b9b"/><rect x="615.9" y="511.0" width="3.6" height="3.0" fill="#9b9b9b"/><rect x="620.3" y="509.9" width="3.6" height="4.1" fill="#d3d3d3"/><rect x="624.6" y="511.4" width="3.6" height="2.6" fill="#d3d3d3"/><rect x="629.0" y="510.0" width="3.6" height="4.0" fill="#9b9b9b"/><rect x="633.4" y="509.6" width="3.6" height="4.4" fill="#d3d3d3"/><rect x="637.7" y="509.9" width="3.6" height="4.1" fill="#d3d3d3"/><rect x="642.1" y="510.9" width="3.6" height="3.1" fill="#d3d3d3"/><rect x="646.5" y="509.9" width="3.6" height="4.1" fill="#d3d3d3"/><rect x="650.9" y="511.4" width="3.6" height="2.6" fill="#9b9b9b"/><rect x="655.2" y="511.0" width="3.6" height="3.0" fill="#9b9b9b"/><rect x="659.6" y="510.7" width="3.6" height="3.3" fill="#d3d3d3"/><rect x="664.0" y="509.5" width="3.6" height="4.5" fill="#9b9b9b"/><rect x="668.3" y="511.4" width="3.6" height="2.6" fill="#9b9b9b"/><rect x="672.7" y="509.5" width="3.6" height="4.5" fill="#9b9b9b"/><rect x="677.1" y="509.7" width="3.6" height="4.3" fill="#9b9b9b"/><rect x="681.4" y="509.3" width="3.6" height="4.7" fill="#9b9b9b"/><rect x="685.8" y="510.8" width="3.6" height="3.2" fill="#9b9b9b"/><rect x="690.2" y="511.3" width="3.6" height="2.7" fill="#9b9b9b"/><rect x="694.6" y="511.2" width="3.6" height="2.8" fill="#9b9b9b"/><rect x="698.9" y="509.6" width="3.6" height="4.4" fill="#9b9b9b"/><rect x="703.3" y="509.3" width="3.6" height="4.7" fill="#d3d3d3"/><rect x="707.7" y="510.0" width="3.6" height="4.0" fill="#9b9b9b"/><rect x="712.0" y="510.5" width="3.6" height="3.5" fill="#d3d3d3"/><rect x="716.4" y="511.1" width="3.6" height="2.9" fill="#9b9b9b"/><rect x="720.8" y="509.6" width="3.6" height="4.4" fill="#9b9b9b"/><rect x="725.1" y="509.5" width="3.6" height="4.5" fill="#9b9b9b"/><rect x="729.5" y="511.6" width="3.6" height="2.4" fill="#9b9b9b"/><rect x="733.9" y="511.2" width="3.6" height="2.8" fill="#9b9b9b"/><rect x="738.2" y="509.6" width="3.6" height="4.4" fill="#d3d3d3"/><rect x="742.6" y="509.6" width="3.6" height="4.4" fill="#9b9b9b"/><rect x="747.0" y="511.0" width="3.6" height="3.0" fill="#9b9b9b"/><rect x="751.4" y="511.1" width="3.6" height="2.9" fill="#9b9b9b"/><rect x="755.7" y="510.7" width="3.6" height="3.3" fill="#d3d3d3"/><rect x="760.1" y="510.4" width="3.6" height="3.6" fill="#9b9b9b"/><rect x="764.5" y="511.6" width="3.6" height="2.4" fill="#9b9b9b"/><rect x="768.8" y="509.6" width="3.6" height="4.4" fill="#9b9b9b"/><rect x="773.2" y="510.4" width="3.6" height="3.6" fill="#9b9b9b"/><rect x="777.6" y="509.8" width="3.6" height="4.2" fill="#9b9b9b"/><rect x="781.9" y="511.2" width="3.6" height="2.8" fill="#9b9b9b"/><rect x="786.3" y="509.3" width="3.6" height="4.7" fill="#9b9b9b"/><rect x="790.7" y="509.8" width="3.6" height="4.2" fill="#9b9b9b"/><rect x="795.0" y="510.9" width="3.6" height="3.1" fill="#d3d3d3"/><rect x="799.4" y="509.3" width="3.6" height="4.7" fill="#9b9b9b"/><rect x="803.8" y="510.0" width="3.6" height="4.0" fill="#9b9b9b"/><rect x="808.2" y="509.6" width="3.6" height="4.4" fill="#d3d3d3"/><rect x="812.5" y="511.7" width="3.6" height="2.3" fill="#9b9b9b"/><rect x="816.9" y="503.9" width="3.6" height="10.1" fill="#9b9b9b"/><rect x="821.3" y="508.0" width="3.6" height="6.0" fill="#9b9b9b"/><rect x="825.6" y="510.0" width="3.6" height="4.0" fill="#9b9b9b"/><rect x="830.0" y="510.5" width="3.6" height="3.5" fill="#d3d3d3"/><rect x="834.4" y="511.4" width="3.6" height="2.6" fill="#d3d3d3"/><rect x="838.7" y="509.3" width="3.6" height="4.7" fill="#d3d3d3"/><rect x="843.1" y="510.5" width="3.6" height="3.5" fill="#9b9b9b"/><rect x="847.5" y="509.6" width="3.6" height="4.4" fill="#9b9b9b"/><rect x="851.9" y="511.6" width="3.6" height="2.4" fill="#d3d3d3"/><rect x="856.2" y="510.6" width="3.6" height="3.4" fill="#d3d3d3"/><rect x="860.6" y="511.6" width="3.6" height="2.4" fill="#9b9b9b"/><rect x="865.0" y="509.5" width="3.6" height="4.5" fill="#d3d3d3"/><rect x="869.3" y="510.6" width="3.6" height="3.4" fill="#9b9b9b"/><rect x="873.7" y="511.6" width="3.6" height="2.4" fill="#9b9b9b"/><rect x="878.1" y="511.6" width="3.6" height="2.4" fill="#d3d3d3"/><rect x="882.4" y="510.4" width="3.6" height="3.6" fill="#d3d3d3"/><rect x="886.8" y="511.6" width="3.6" height="2.4" fill="#9b9b9b"/><rect x="891.2" y="511.3" width="3.6" height="2.7" fill="#9b9b9b"/><rect x="895.5" y="510.7" width="3.6" height="3.3" fill="#9b9b9b"/><rect x="899.9" y="510.5" width="3.6" height="3.5" fill="#9b9b9b"/><rect x="904.3" y="510.3" width="3.6" height="3.7" fill="#d3d3d3"/><rect x="908.7" y="510.2" width="3.6" height="3.8" fill="#9b9b9b"/><rect x="913.0" y="510.8" width="3.6" height="3.2" fill="#d3d3d3"/><rect x="917.4" y="510.2" width="3.6" height="3.8" fill="#d3d3d3"/><rect x="921.8" y="511.4" width="3.6" height="2.6" fill="#d3d3d3"/><rect x="926.1" y="511.1" width="3.6" height="2.9" fill="#d3d3d3"/><rect x="930.5" y="509.7" width="3.6" height="4.3" fill="#9b9b9b"/><rect x="934.9" y="511.4" width="3.6" height="2.6" fill="#d3d3d3"/><rect x="939.2" y="511.2" width="3.6" height="2.8" fill="#9b9b9b"/><rect x="943.6" y="511.2" width="3.6" height="2.8" fill="#9b9b9b"/><rect x="948.0" y="510.6" width="3.6" height="3.4" fill="#9b9b9b"/><rect x="952.4" y="511.8" width="3.6" height="2.2" fill="#9b9b9b"/><rect x="956.7" y="511.7" width="3.6" height="2.3" fill="#9b9b9b"/><rect x="961.1" y="510.6" width="3.6" height="3.4" fill="#d3d3d3"/><rect x="965.5" y="511.4" width="3.6" height="2.6" fill="#9b9b9b"/><rect x="969.8" y="510.0" width="3.6" height="4.0" fill="#9b9b9b"/><rect x="974.2" y="509.7" width="3.6" height="4.3" fill="#9b9b9b"/><rect x="978.6" y="510.3" width="3.6" height="3.7" fill="#9b9b9b"/><rect x="982.9" y="510.0" width="3.6" height="4.0" fill="#d3d3d3"/><rect x="987.3" y="510.8" width="3.6" height="3.2" fill="#d3d3d3"/><rect x="991.7" y="511.7" width="3.6" height="2.3" fill="#9b9b9b"/><rect x="996.0" y="510.7" width="3.6" height="3.3" fill="#d3d3d3"/><rect x="1000.4" y="510.8" width="3.6" height="3.2" fill="#9b9b9b"/><rect x="1004.8" y="510.2" width="3.6" height="3.8" fill="#9b9b9b"/><rect x="1009.2" y="511.5" width="3.6" height="2.5" fill="#9b9b9b"/><rect x="1013.5" y="511.2" width="3.6" height="2.8" fill="#9b9b9b"/><rect x="1017.9" y="509.7" width="3.6" height="4.3" fill="#9b9b9b"/><rect x="1022.3" y="511.1" width="3.6" height="2.9" fill="#d3d3d3"/><rect x="1026.6" y="510.7" width="3.6" height="3.3" fill="#9b9b9b"/><rect x="1031.0" y="509.4" width="3.6" height="4.6" fill="#9b9b9b"/><rect x="1035.4" y="511.1" width="3.6" height="2.9" fill="#9b9b9b"/><rect x="1039.7" y="511.4" width="3.6" height="2.6" fill="#d3d3d3"/><rect x="1044.1" y="510.0" width="3.6" height="4.0" fill="#9b9b9b"/><rect x="1048.5" y="510.3" width="3.6" height="3.7" fill="#9b9b9b"/><rect x="1052.8" y="510.2" width="3.6" height="3.8" fill="#9b9b9b"/><rect x="1057.2" y="511.7" width="3.6" height="2.3" fill="#9b9b9b"/><rect x="1061.6" y="510.7" width="3.6" height="3.3" fill="#9b9b9b"/><rect x="1066.0" y="511.8" width="3.6" height="2.2" fill="#d3d3d3"/><rect x="1070.3" y="511.2" width="3.6" height="2.8" fill="#9b9b9b"/><rect x="1074.7" y="510.0" width="3.6" height="4.0" fill="#d3d3d3"/><rect x="1079.1" y="511.6" width="3.6" height="2.4" fill="#9b9b9b"/><rect x="1083.4" y="511.0" width="3.6" height="3.0" fill="#d3d3d3"/><rect x="1087.8" y="509.2" width="3.6" height="4.8" fill="#9b9b9b"/><rect x="1092.2" y="509.3" width="3.6" height="4.7" fill="#d3d3d3"/><rect x="1096.5" y="510.5" width="3.6" height="3.5" fill="#d3d3d3"/><rect x="1100.9" y="509.9" width="3.6" height="4.1" fill="#9b9b9b"/><rect x="1105.3" y="510.2" width="3.6" height="3.8" fill="#9b9b9b"/><rect x="1109.7" y="510.6" width="3.6" height="3.4" fill="#9b9b9b"/><rect x="1114.0" y="509.6" width="3.6" height="4.4" fill="#9b9b9b"/><rect x="1118.4" y="511.4" width="3.6" height="2.6" fill="#9b9b9b"/><rect x="1122.8" y="509.6" width="3.6" height="4.4" fill="#9b9b9b"/><rect x="1127.1" y="511.7" width="3.6" height="2.3" fill="#9b9b9b"/><rect x="1131.5" y="509.5" width="3.6" height="4.5" fill="#9b9b9b"/><rect x="1135.9" y="510.0" width="3.6" height="4.0" fill="#9b9b9b"/><rect x="1140.2" y="510.6" width="3.6" height="3.4" fill="#9b9b9b"/><rect x="1144.6" y="510.1" width="3.6" height="3.9" fill="#d3d3d3"/><rect x="1149.0" y="510.6" width="3.6" height="3.4" fill="#d3d3d3"/><rect x="1153.3" y="509.8" width="3.6" height="4.2" fill="#d3d3d3"/><rect x="1157.7" y="511.5" width="3.6" height="2.5" fill="#d3d3d3"/><rect x="1162.1" y="510.5" width="3.6" height="3.5" fill="#9b9b9b"/><rect x="1166.5" y="509.5" width="3.6" height="4.5" fill="#9b9b9b"/><rect x="1170.8" y="509.4" width="3.6" height="4.6" fill="#9b9b9b"/><rect x="1175.2" y="511.2" width="3.6" height="2.8" fill="#9b9b9b"/><rect x="1179.6" y="511.1" width="3.6" height="2.9" fill="#9b9b9b"/><rect x="1183.9" y="509.4" width="3.6" height="4.6" fill="#9b9b9b"/><rect x="1188.3" y="510.9" width="3.6" height="3.1" fill="#d3d3d3"/><rect x="1192.7" y="511.7" width="3.6" height="2.3" fill="#d3d3d3"/><rect x="1197.0" y="509.9" width="3.6" height="4.1" fill="#d3d3d3"/><rect x="1201.4" y="510.7" width="3.6" height="3.3" fill="#d3d3d3"/><rect x="1205.8" y="509.9" width="3.6" height="4.1" fill="#d3d3d3"/><rect x="1210.2" y="510.6" width="3.6" height="3.4" fill="#d3d3d3"/><rect x="1214.5" y="510.5" width="3.6" height="3.5" fill="#d3d3d3"/><rect x="1218.9" y="510.7" width="3.6" height="3.3" fill="#d3d3d3"/><rect x="1223.3" y="511.0" width="3.6" height="3.0" fill="#9b9b9b"/><rect x="1227.6" y="509.5" width="3.6" height="4.5" fill="#d3d3d3"/><rect x="1232.0" y="510.1" width="3.6" height="3.9" fill="#d3d3d3"/><rect x="1236.4" y="509.7" width="3.6" height="4.3" fill="#9b9b9b"/><rect x="1240.7" y="509.5" width="3.6" height="4.5" fill="#9b9b9b"/><rect x="1245.1" y="511.1" width="3.6" height="2.9" fill="#9b9b9b"/><rect x="1249.5" y="509.4" width="3.6" height="4.6" fill="#9b9b9b"/><rect x="1253.8" y="509.6" width="3.6" height="4.4" fill="#d3d3d3"/><rect x="1258.2" y="510.5" width="3.6" height="3.5" fill="#9b9b9b"/><rect x="1262.6" y="510.3" width="3.6" height="3.7" fill="#9b9b9b"/><rect x="1267.0" y="511.5" width="3.6" height="2.5" fill="#9b9b9b"/><rect x="1271.3" y="509.8" width="3.6" height="4.2" fill="#9b9b9b"/><rect x="1275.7" y="511.3" width="3.6" height="2.7" fill="#9b9b9b"/><rect x="1280.1" y="510.4" width="3.6" height="3.6" fill="#9b9b9b"/><rect x="1284.4" y="511.5" width="3.6" height="2.5" fill="#9b9b9b"/><rect x="1288.8" y="511.6" width="3.6" height="2.4" fill="#d3d3d3"/><rect x="1293.2" y="510.2" width="3.6" height="3.8" fill="#d3d3d3"/><rect x="1297.5" y="510.5" width="3.6" height="3.5" fill="#d3d3d3"/><rect x="1301.9" y="510.0" width="3.6" height="4.0" fill="#d3d3d3"/><rect x="1306.3" y="509.7" width="3.6" height="4.3" fill="#9b9b9b"/><rect x="1310.7" y="509.2" width="3.6" height="4.8" fill="#d3d3d3"/><rect x="1315.0" y="511.6" width="3.6" height="2.4" fill="#d3d3d3"/><rect x="1319.4" y="510.2" width="3.6" height="3.8" fill="#9b9b9b"/><rect x="1323.8" y="510.3" width="3.6" height="3.7" fill="#9b9b9b"/><rect x="1328.1" y="510.1" width="3.6" height="3.9" fill="#d3d3d3"/><rect x="1332.5" y="510.4" width="3.6" height="3.6" fill="#9b9b9b"/><rect x="1336.9" y="510.4" width="3.6" height="3.6" fill="#d3d3d3"/><rect x="1341.2" y="509.5" width="3.6" height="4.5" fill="#d3d3d3"/><rect x="1345.6" y="510.6" width="3.6" height="3.4" fill="#9b9b9b"/><rect x="1350.0" y="510.4" width="3.6" height="3.6" fill="#9b9b9b"/><rect x="1354.3" y="510.0" width="3.6" height="4.0" fill="#d3d3d3"/><rect x="1358.7" y="511.6" width="3.6" height="2.4" fill="#d3d3d3"/><rect x="1363.1" y="510.7" width="3.6" height="3.3" fill="#9b9b9b"/><rect x="1367.5" y="511.5" width="3.6" height="2.5" fill="#9b9b9b"/><rect x="1371.8" y="511.4" width="3.6" height="2.6" fill="#d3d3d3"/><rect x="1376.2" y="511.8" width="3.6" height="2.2" fill="#d3d3d3"/><rect x="1380.6" y="511.3" width="3.6" height="2.7" fill="#9b9b9b"/><rect x="1384.9" y="511.2" width="3.6" height="2.8" fill="#9b9b9b"/><rect x="1389.3" y="510.5" width="3.6" height="3.5" fill="#d3d3d3"/><rect x="1393.7" y="510.3" width="3.6" height="3.7" fill="#d3d3d3"/><rect x="1398.0" y="509.7" width="3.6" height="4.3" fill="#d3d3d3"/><rect x="1402.4" y="510.5" width="3.6" height="3.5" fill="#9b9b9b"/><rect x="1406.8" y="509.5" width="3.6" height="4.5" fill="#d3d3d3"/><rect x="1411.1" y="510.8" width="3.6" height="3.2" fill="#d3d3d3"/><rect x="1415.5" y="509.9" width="3.6" height="4.1" fill="#9b9b9b"/><rect x="1419.9" y="510.4" width="3.6" height="3.6" fill="#9b9b9b"/><rect x="1424.3" y="510.2" width="3.6" height="3.8" fill="#9b9b9b"/><rect x="1428.6" y="511.1" width="3.6" height="2.9" fill="#9b9b9b"/><rect x="1433.0" y="509.4" width="3.6" height="4.6" fill="#d3d3d3"/><rect x="1437.4" y="509.8" width="3.6" height="4.2" fill="#9b9b9b"/><rect x="1441.7" y="511.4" width="3.6" height="2.6" fill="#d3d3d3"/><rect x="1446.1" y="510.4" width="3.6" height="3.6" fill="#d3d3d3"/><rect x="1450.5" y="509.2" width="3.6" height="4.8" fill="#d3d3d3"/><rect x="1454.8" y="511.7" width="3.6" height="2.3" fill="#9b9b9b"/><rect x="1459.2" y="511.0" width="3.6" height="3.0" fill="#d3d3d3"/><rect x="1463.6" y="509.9" width="3.6" height="4.1" fill="#9b9b9b"/><rect x="1468.0" y="511.7" width="3.6" height="2.3" fill="#d3d3d3"/><rect x="1472.3" y="509.9" width="3.6" height="4.1" fill="#9b9b9b"/><rect x="1476.7" y="510.3" width="3.6" height="3.7" fill="#9b9b9b"/><rect x="1481.1" y="509.9" width="3.6" height="4.1" fill="#9b9b9b"/><rect x="1485.4" y="510.4" width="3.6" height="3.6" fill="#d3d3d3"/><rect x="1489.8" y="509.4" width="3.6" height="4.6" fill="#9b9b9b"/><rect x="1494.2" y="510.9" width="3.6" height="3.1" fill="#d3d3d3"/><rect x="1498.5" y="510.3" width="3.6" height="3.7" fill="#d3d3d3"/><rect x="1502.9" y="511.7" width="3.6" height="2.3" fill="#d3d3d3"/><rect x="1507.3" y="510.4" width="3.6" height="3.6" fill="#d3d3d3"/><rect x="1511.6" y="510.7" width="3.6" height="3.3" fill="#d3d3d3"/><rect x="1516.0" y="509.2" width="3.6" height="4.8" fill="#d3d3d3"/><rect x="1520.4" y="509.3" width="3.6" height="4.7" fill="#d3d3d3"/><rect x="1524.8" y="511.4" width="3.6" height="2.6" fill="#9b9b9b"/><rect x="1529.1" y="511.7" width="3.6" height="2.3" fill="#9b9b9b"/><rect x="1533.5" y="511.5" width="3.6" height="2.5" fill="#9b9b9b"/><rect x="1537.9" y="511.3" width="3.6" height="2.7" fill="#d3d3d3"/><rect x="1542.2" y="509.9" width="3.6" height="4.1" fill="#9b9b9b"/><rect x="1546.6" y="510.4" width="3.6" height="3.6" fill="#9b9b9b"/><rect x="1551.0" y="510.4" width="3.6" height="3.6" fill="#d3d3d3"/><rect x="1555.3" y="510.6" width="3.6" height="3.4" fill="#d3d3d3"/><rect x="1559.7" y="511.8" width="3.6" height="2.2" fill="#d3d3d3"/><rect x="1564.1" y="510.8" width="3.6" height="3.2" fill="#9b9b9b"/><rect x="1568.5" y="509.2" width="3.6" height="4.8" fill="#9b9b9b"/><rect x="1572.8" y="509.7" width="3.6" height="4.3" fill="#9b9b9b"/><rect x="1577.2" y="510.3" width="3.6" height="3.7" fill="#d3d3d3"/><rect x="1581.6" y="511.3" width="3.6" height="2.7" fill="#d3d3d3"/><rect x="1585.9" y="509.4" width="3.6" height="4.6" fill="#9b9b9b"/><rect x="1590.3" y="510.7" width="3.6" height="3.3" fill="#d3d3d3"/><rect x="1594.7" y="510.2" width="3.6" height="3.8" fill="#d3d3d3"/><rect x="1599.0" y="511.3" width="3.6" height="2.7" fill="#9b9b9b"/><rect x="1603.4" y="510.9" width="3.6" height="3.1" fill="#d3d3d3"/><rect x="1607.8" y="510.9" width="3.6" height="3.1" fill="#9b9b9b"/><rect x="1612.1" y="510.8" width="3.6" height="3.2" fill="#d3d3d3"/><rect x="1616.5" y="511.7" width="3.6" height="2.3" fill="#9b9b9b"/><rect x="1620.9" y="510.1" width="3.6" height="3.9" fill="#9b9b9b"/><rect x="1625.3" y="511.4" width="3.6" height="2.6" fill="#9b9b9b"/><rect x="1629.6" y="510.2" width="3.6" height="3.8" fill="#d3d3d3"/><rect x="1634.0" y="510.2" width="3.6" height="3.8" fill="#d3d3d3"/><rect x="1638.4" y="510.0" width="3.6" height="4.0" fill="#d3d3d3"/><rect x="1642.7" y="511.0" width="3.6" height="3.0" fill="#d3d3d3"/><rect x="1647.1" y="511.0" width="3.6" height="3.0" fill="#9b9b9b"/><rect x="1651.5" y="509.8" width="3.6" height="4.2" fill="#9b9b9b"/><rect x="1655.8" y="510.8" width="3.6" height="3.2" fill="#d3d3d3"/><rect x="1660.2" y="511.4" width="3.6" height="2.6" fill="#9b9b9b"/><rect x="1664.6" y="509.4" width="3.6" height="4.6" fill="#9b9b9b"/><rect x="1668.9" y="511.8" width="3.6" height="2.2" fill="#9b9b9b"/><rect x="1673.3" y="509.5" width="3.6" height="4.5" fill="#d3d3d3"/><rect x="1677.7" y="511.0" width="3.6" height="3.0" fill="#d3d3d3"/><rect x="1682.1" y="510.8" width="3.6" height="3.2" fill="#d3d3d3"/><rect x="1686.4" y="509.3" width="3.6" height="4.7" fill="#d3d3d3"/><rect x="1690.8" y="507.2" width="3.6" height="6.8" fill="#9b9b9b"/><rect x="1695.2" y="507.8" width="3.6" height="6.2" fill="#d3d3d3"/><rect x="1699.5" y="509.0" width="3.6" height="5.0" fill="#9b9b9b"/><rect x="1703.9" y="507.8" width="3.6" height="6.2" fill="#d3d3d3"/><rect x="1708.3" y="507.2" width="3.6" height="6.8" fill="#d3d3d3"/><rect x="1712.6" y="504.0" width="3.6" height="10.0" fill="#9b9b9b"/><rect x="1717.0" y="505.4" width="3.6" height="8.6" fill="#d3d3d3"/><rect x="1721.4" y="503.0" width="3.6" height="11.0" fill="#9b9b9b"/><rect x="1725.8" y="500.4" width="3.6" height="13.6" fill="#9b9b9b"/><rect x="1730.1" y="490.2" width="3.6" height="23.8" fill="#d3d3d3"/><rect x="1734.5" y="385.2" width="3.6" height="128.8" fill="#9b9b9b"/><rect x="1738.9" y="508.0" width="3.6" height="6.0" fill="#d3d3d3"/><rect x="1743.2" y="502.0" width="3.6" height="12.0" fill="#9b9b9b"/><rect x="1747.6" y="511.8" width="3.6" height="2.2" fill="#9b9b9b"/><rect x="1752.0" y="510.0" width="3.6" height="4.0" fill="#9b9b9b"/><line x1="1.6" y1="50.0" x2="1.6" y2="61.0" stroke="#50535e" stroke-width="1"/><rect x="-0.2" y="50.5" width="3.6" height="9.7" fill="#4a4e5a"/><line x1="6.0" y1="59.0" x2="6.0" y2="66.0" stroke="#50535e" stroke-width="1"/><rect x="4.2" y="59.6" width="3.6" height="3.1" fill="#4a4e5a"/><line x1="10.3" y1="62.0" x2="10.3" y2="66.3" stroke="#50535e" stroke-width="1"/><rect x="8.5" y="62.0" width="3.6" height="4.3" fill="#4a4e5a"/><line x1="14.7" y1="66.0" x2="14.7" y2="77.0" stroke="#50535e" stroke-width="1"/><rect x="12.9" y="66.3" width="3.6" height="10.2" fill="#4a4e5a"/><line x1="19.1" y1="73.3" x2="19.1" y2="101.0" stroke="#50535e" stroke-width="1"/><rect x="17.3" y="74.3" width="3.6" height="26.7" fill="#4a4e5a"/><line x1="23.4" y1="98.0" x2="23.4" y2="101.5" stroke="#50535e" stroke-width="1"/><rect x="22.0" y="99.1" width="2.8" height="1.5" fill="#fff" stroke="#50535e" stroke-width="1"/><line x1="27.8" y1="98.0" x2="27.8" y2="98.5" stroke="#50535e" stroke-width="1"/><rect x="26.4" y="98.4" width="2.8" height="0.4" fill="#fff" stroke="#50535e" stroke-width="1"/><line x1="32.2" y1="68.8" x2="32.2" y2="110.2" stroke="#50535e" stroke-width="1"/><rect x="30.4" y="70.0" width="3.6" height="40.2" fill="#4a4e5a"/><line x1="36.6" y1="104.0" x2="36.6" y2="114.0" stroke="#50535e" stroke-width="1"/><rect x="34.8" y="107.8" width="3.6" height="1.2" fill="#4a4e5a"/><line x1="40.9" y1="105.0" x2="40.9" y2="116.0" stroke="#50535e" stroke-width="1"/><rect x="39.1" y="110.0" width="3.6" height="1.5" fill="#4a4e5a"/><line x1="45.3" y1="104.8" x2="45.3" y2="126.5" stroke="#50535e" stroke-width="1"/><rect x="43.5" y="108.4" width="3.6" height="18.1" fill="#4a4e5a"/><line x1="49.7" y1="119.0" x2="49.7" y2="129.0" stroke="#50535e" stroke-width="1"/><rect x="47.9" y="125.0" width="3.6" height="1.0" fill="#4a4e5a"/><line x1="54.0" y1="120.6" x2="54.0" y2="134.0" stroke="#50535e" stroke-width="1"/><rect x="52.6" y="125.4" width="2.8" height="0.4" fill="#fff" stroke="#50535e" stroke-width="1"/><line x1="58.4" y1="114.0" x2="58.4" y2="136.5" stroke="#50535e" stroke-width="1"/><rect x="56.6" y="123.0" width="3.6" height="13.5" fill="#4a4e5a"/><line x1="62.8" y1="116.0" x2="62.8" y2="137.0" stroke="#50535e" stroke-width="1"/><rect x="61.4" y="122.8" width="2.8" height="11.4" fill="#fff" stroke="#50535e" stroke-width="1"/><line x1="67.1" y1="107.0" x2="67.1" y2="125.5" stroke="#50535e" stroke-width="1"/><rect x="65.7" y="109.4" width="2.8" height="15.7" fill="#fff" stroke="#50535e" stroke-width="1"/><line x1="71.5" y1="92.0" x2="71.5" y2="109.6" stroke="#50535e" stroke-width="1"/><rect x="70.1" y="92.4" width="2.8" height="16.8" fill="#fff" stroke="#50535e" stroke-width="1"/><line x1="75.9" y1="87.0" x2="75.9" y2="101.7" stroke="#50535e" stroke-width="1"/><rect x="74.1" y="92.0" width="3.6" height="9.0" fill="#4a4e5a"/><line x1="80.3" y1="88.0" x2="80.3" y2="101.7" stroke="#50535e" stroke-width="1"/><rect x="78.9" y="88.7" width="2.8" height="12.6" fill="#fff" stroke="#50535e" stroke-width="1"/><line x1="84.6" y1="87.0" x2="84.6" y2="103.5" stroke="#50535e" stroke-width="1"/><rect x="82.8" y="87.0" width="3.6" height="11.0" fill="#4a4e5a"/><line x1="89.0" y1="83.0" x2="89.0" y2="97.4" stroke="#50535e" stroke-width="1"/><rect x="87.6" y="83.8" width="2.8" height="13.2" fill="#fff" stroke="#50535e" stroke-width="1"/><line x1="93.4" y1="72.4" x2="93.4" y2="85.0" stroke="#50535e" stroke-width="1"/><rect x="92.0" y="75.4" width="2.8" height="7.0" fill="#fff" stroke="#50535e" stroke-width="1"/><line x1="97.7" y1="73.3" x2="97.7" y2="84.0" stroke="#50535e" stroke-width="1"/><rect x="95.9" y="74.3" width="3.6" height="9.7" fill="#4a4e5a"/><line x1="102.1" y1="83.0" x2="102.1" y2="92.6" stroke="#50535e" stroke-width="1"/><rect x="100.3" y="83.4" width="3.6" height="9.2" fill="#4a4e5a"/><line x1="106.5" y1="91.0" x2="106.5" y2="105.0" stroke="#50535e" stroke-width="1"/><rect x="104.7" y="91.3" width="3.6" height="8.0" fill="#4a4e5a"/><line x1="110.8" y1="99.0" x2="110.8" y2="110.5" stroke="#50535e" stroke-width="1"/><rect x="109.0" y="99.3" width="3.6" height="10.9" fill="#4a4e5a"/><line x1="115.2" y1="97.0" x2="115.2" y2="111.7" stroke="#50535e" stroke-width="1"/><rect x="113.8" y="98.7" width="2.8" height="9.6" fill="#fff" stroke="#50535e" stroke-width="1"/><line x1="119.6" y1="96.5" x2="119.6" y2="105.6" stroke="#50535e" stroke-width="1"/><rect x="118.2" y="96.9" width="2.8" height="1.0" fill="#fff" stroke="#50535e" stroke-width="1"/><line x1="123.9" y1="90.0" x2="123.9" y2="104.4" stroke="#50535e" stroke-width="1"/><rect x="122.5" y="90.8" width="2.8" height="9.2" fill="#fff" stroke="#50535e" stroke-width="1"/><line x1="128.3" y1="85.2" x2="128.3" y2="92.0" stroke="#50535e" stroke-width="1"/><rect x="126.5" y="90.0" width="3.6" height="1.8" fill="#4a4e5a"/><line x1="132.7" y1="86.5" x2="132.7" y2="92.0" stroke="#50535e" stroke-width="1"/><rect x="131.3" y="88.4" width="2.8" height="2.2" fill="#fff" stroke="#50535e" stroke-width="1"/><line x1="137.1" y1="77.3" x2="137.1" y2="90.0" stroke="#50535e" stroke-width="1"/><rect x="135.7" y="84.7" width="2.8" height="4.7" fill="#fff" stroke="#50535e" stroke-width="1"/><line x1="141.4" y1="83.5" x2="141.4" y2="98.3" stroke="#50535e" stroke-width="1"/><rect x="139.6" y="83.9" width="3.6" height="12.8" fill="#4a4e5a"/><line x1="145.8" y1="92.2" x2="145.8" y2="101.6" stroke="#50535e" stroke-width="1"/><rect x="144.0" y="95.0" width="3.6" height="6.6" fill="#4a4e5a"/><line x1="150.2" y1="94.6" x2="150.2" y2="105.0" stroke="#50535e" stroke-width="1"/><rect x="148.8" y="98.7" width="2.8" height="1.9" fill="#fff" stroke="#50535e" stroke-width="1"/><line x1="154.5" y1="97.0" x2="154.5" y2="106.8" stroke="#50535e" stroke-width="1"/><rect x="152.7" y="98.3" width="3.6" height="5.5" fill="#4a4e5a"/><line x1="158.9" y1="104.5" x2="158.9" y2="111.7" stroke="#50535e" stroke-width="1"/><rect x="157.1" y="104.5" width="3.6" height="1.0" fill="#4a4e5a"/><line x1="163.3" y1="94.3" x2="163.3" y2="107.4" stroke="#50535e" stroke-width="1"/><rect x="161.9" y="98.7" width="2.8" height="8.3" fill="#fff" stroke="#50535e" stroke-width="1"/><line x1="167.6" y1="88.2" x2="167.6" y2="99.5" stroke="#50535e" stroke-width="1"/><rect x="166.2" y="96.2" width="2.8" height="2.9" fill="#fff" stroke="#50535e" stroke-width="1"/><line x1="172.0" y1="89.8" x2="172.0" y2="107.7" stroke="#50535e" stroke-width="1"/><rect x="170.2" y="96.5" width="3.6" height="11.2" fill="#4a4e5a"/><line x1="176.4" y1="92.6" x2="176.4" y2="105.2" stroke="#50535e" stroke-width="1"/><rect x="175.0" y="93.0" width="2.8" height="11.8" fill="#fff" stroke="#50535e" stroke-width="1"/><line x1="180.7" y1="89.0" x2="180.7" y2="100.7" stroke="#50535e" stroke-width="1"/><rect x="178.9" y="92.2" width="3.6" height="8.5" fill="#4a4e5a"/><line x1="185.1" y1="98.0" x2="185.1" y2="104.0" stroke="#50535e" stroke-width="1"/><rect x="183.3" y="98.9" width="3.6" height="1.5" fill="#4a4e5a"/><line x1="189.5" y1="95.2" x2="189.5" y2="106.2" stroke="#50535e" stroke-width="1"/><rect x="187.7" y="99.0" width="3.6" height="1.0" fill="#4a4e5a"/><line x1="193.9" y1="89.8" x2="193.9" y2="98.3" stroke="#50535e" stroke-width="1"/><rect x="192.5" y="90.2" width="2.8" height="7.7" fill="#fff" stroke="#50535e" stroke-width="1"/><line x1="198.2" y1="85.2" x2="198.2" y2="94.0" stroke="#50535e" stroke-width="1"/><rect x="196.8" y="89.9" width="2.8" height="0.4" fill="#fff" stroke="#50535e" stroke-width="1"/><line x1="202.6" y1="90.0" x2="202.6" y2="103.5" stroke="#50535e" stroke-width="1"/><rect x="200.8" y="90.0" width="3.6" height="13.5" fill="#4a4e5a"/><line x1="207.0" y1="101.6" x2="207.0" y2="115.4" stroke="#50535e" stroke-width="1"/><rect x="205.2" y="103.2" width="3.6" height="12.2" fill="#4a4e5a"/><line x1="211.3" y1="107.0" x2="211.3" y2="113.3" stroke="#50535e" stroke-width="1"/><rect x="209.9" y="111.2" width="2.8" height="1.7" fill="#fff" stroke="#50535e" stroke-width="1"/><line x1="215.7" y1="108.7" x2="215.7" y2="118.4" stroke="#50535e" stroke-width="1"/><rect x="214.3" y="109.1" width="2.8" height="1.0" fill="#fff" stroke="#50535e" stroke-width="1"/><line x1="220.1" y1="107.4" x2="220.1" y2="121.5" stroke="#50535e" stroke-width="1"/><rect x="218.3" y="109.3" width="3.6" height="9.1" fill="#4a4e5a"/><line x1="224.4" y1="119.0" x2="224.4" y2="127.6" stroke="#50535e" stroke-width="1"/><rect x="222.6" y="119.3" width="3.6" height="7.3" fill="#4a4e5a"/><line x1="228.8" y1="121.5" x2="228.8" y2="139.4" stroke="#50535e" stroke-width="1"/><rect x="227.4" y="122.1" width="2.8" height="4.1" fill="#fff" stroke="#50535e" stroke-width="1"/><line x1="233.2" y1="110.7" x2="233.2" y2="121.5" stroke="#50535e" stroke-width="1"/><rect x="231.8" y="111.1" width="2.8" height="10.0" fill="#fff" stroke="#50535e" stroke-width="1"/><line x1="237.6" y1="104.4" x2="237.6" y2="109.3" stroke="#50535e" stroke-width="1"/><rect x="236.2" y="107.4" width="2.8" height="1.5" fill="#fff" stroke="#50535e" stroke-width="1"/><line x1="241.9" y1="101.0" x2="241.9" y2="112.6" stroke="#50535e" stroke-width="1"/><rect x="240.1" y="107.0" width="3.6" height="3.0" fill="#4a4e5a"/><line x1="246.3" y1="100.0" x2="246.3" y2="110.0" stroke="#50535e" stroke-width="1"/><rect x="244.9" y="107.4" width="2.8" height="2.2" fill="#fff" stroke="#50535e" stroke-width="1"/><line x1="250.7" y1="106.0" x2="250.7" y2="117.4" stroke="#50535e" stroke-width="1"/><rect x="248.9" y="106.5" width="3.6" height="10.9" fill="#4a4e5a"/><line x1="255.0" y1="117.4" x2="255.0" y2="124.8" stroke="#50535e" stroke-width="1"/><rect x="253.2" y="119.3" width="3.6" height="5.5" fill="#4a4e5a"/><line x1="259.4" y1="121.0" x2="259.4" y2="130.9" stroke="#50535e" stroke-width="1"/><rect x="257.6" y="124.1" width="3.6" height="6.8" fill="#4a4e5a"/><line x1="263.8" y1="126.6" x2="263.8" y2="144.3" stroke="#50535e" stroke-width="1"/><rect x="262.0" y="129.0" width="3.6" height="15.3" fill="#4a4e5a"/><line x1="268.1" y1="141.2" x2="268.1" y2="149.8" stroke="#50535e" stroke-width="1"/><rect x="266.3" y="144.0" width="3.6" height="1.0" fill="#4a4e5a"/><line x1="272.5" y1="130.0" x2="272.5" y2="143.7" stroke="#50535e" stroke-width="1"/><rect x="271.1" y="132.4" width="2.8" height="10.9" fill="#fff" stroke="#50535e" stroke-width="1"/><line x1="276.9" y1="132.0" x2="276.9" y2="151.6" stroke="#50535e" stroke-width="1"/><rect x="275.1" y="132.0" width="3.6" height="19.6" fill="#4a4e5a"/><line x1="281.2" y1="152.0" x2="281.2" y2="173.8" stroke="#50535e" stroke-width="1"/><rect x="279.4" y="152.2" width="3.6" height="17.7" fill="#4a4e5a"/><line x1="285.6" y1="169.5" x2="285.6" y2="180.0" stroke="#50535e" stroke-width="1"/><rect x="283.8" y="169.5" width="3.6" height="6.7" fill="#4a4e5a"/><line x1="290.0" y1="175.6" x2="290.0" y2="193.3" stroke="#50535e" stroke-width="1"/><rect x="288.2" y="175.6" width="3.6" height="15.9" fill="#4a4e5a"/><line x1="294.4" y1="175.0" x2="294.4" y2="199.4" stroke="#50535e" stroke-width="1"/><rect x="292.6" y="190.2" width="3.6" height="8.0" fill="#4a4e5a"/><line x1="298.7" y1="197.6" x2="298.7" y2="212.2" stroke="#50535e" stroke-width="1"/><rect x="296.9" y="197.6" width="3.6" height="14.6" fill="#4a4e5a"/><line x1="303.1" y1="206.7" x2="303.1" y2="218.3" stroke="#50535e" stroke-width="1"/><rect x="301.7" y="207.1" width="2.8" height="4.7" fill="#fff" stroke="#50535e" stroke-width="1"/><line x1="307.5" y1="188.4" x2="307.5" y2="212.2" stroke="#50535e" stroke-width="1"/><rect x="306.1" y="197.4" width="2.8" height="9.5" fill="#fff" stroke="#50535e" stroke-width="1"/><line x1="311.8" y1="190.2" x2="311.8" y2="198.2" stroke="#50535e" stroke-width="1"/><rect x="310.4" y="194.9" width="2.8" height="2.9" fill="#fff" stroke="#50535e" stroke-width="1"/><line x1="316.2" y1="193.0" x2="316.2" y2="215.2" stroke="#50535e" stroke-width="1"/><rect x="314.4" y="193.3" width="3.6" height="15.8" fill="#4a4e5a"/><line x1="320.6" y1="178.3" x2="320.6" y2="209.8" stroke="#50535e" stroke-width="1"/><rect x="319.2" y="182.7" width="2.8" height="26.7" fill="#fff" stroke="#50535e" stroke-width="1"/><line x1="324.9" y1="181.7" x2="324.9" y2="190.0" stroke="#50535e" stroke-width="1"/><rect x="323.1" y="181.7" width="3.6" height="6.1" fill="#4a4e5a"/><line x1="329.3" y1="188.0" x2="329.3" y2="203.7" stroke="#50535e" stroke-width="1"/><rect x="327.5" y="188.0" width="3.6" height="13.8" fill="#4a4e5a"/><line x1="333.7" y1="193.3" x2="333.7" y2="209.8" stroke="#50535e" stroke-width="1"/><rect x="331.9" y="200.0" width="3.6" height="9.8" fill="#4a4e5a"/><line x1="338.1" y1="188.4" x2="338.1" y2="212.2" stroke="#50535e" stroke-width="1"/><rect x="336.7" y="190.6" width="2.8" height="18.8" fill="#fff" stroke="#50535e" stroke-width="1"/><line x1="342.4" y1="191.5" x2="342.4" y2="203.7" stroke="#50535e" stroke-width="1"/><rect x="340.6" y="191.5" width="3.6" height="12.2" fill="#4a4e5a"/><line x1="346.8" y1="203.7" x2="346.8" y2="219.5" stroke="#50535e" stroke-width="1"/><rect x="345.0" y="203.7" width="3.6" height="12.8" fill="#4a4e5a"/><line x1="351.2" y1="215.2" x2="351.2" y2="227.4" stroke="#50535e" stroke-width="1"/><rect x="349.4" y="218.3" width="3.6" height="5.5" fill="#4a4e5a"/><line x1="355.5" y1="221.0" x2="355.5" y2="230.5" stroke="#50535e" stroke-width="1"/><rect x="353.7" y="221.3" width="3.6" height="9.2" fill="#4a4e5a"/><line x1="359.9" y1="215.2" x2="359.9" y2="236.0" stroke="#50535e" stroke-width="1"/><rect x="358.5" y="228.2" width="2.8" height="1.6" fill="#fff" stroke="#50535e" stroke-width="1"/><line x1="364.3" y1="226.8" x2="364.3" y2="248.2" stroke="#50535e" stroke-width="1"/><rect x="362.5" y="226.8" width="3.6" height="21.4" fill="#4a4e5a"/><line x1="368.6" y1="230.5" x2="368.6" y2="249.4" stroke="#50535e" stroke-width="1"/><rect x="367.2" y="241.6" width="2.8" height="7.4" fill="#fff" stroke="#50535e" stroke-width="1"/><line x1="373.0" y1="228.0" x2="373.0" y2="248.8" stroke="#50535e" stroke-width="1"/><rect x="371.6" y="228.4" width="2.8" height="13.9" fill="#fff" stroke="#50535e" stroke-width="1"/><line x1="377.4" y1="215.9" x2="377.4" y2="233.0" stroke="#50535e" stroke-width="1"/><rect x="376.0" y="218.7" width="2.8" height="8.3" fill="#fff" stroke="#50535e" stroke-width="1"/><line x1="381.7" y1="205.5" x2="381.7" y2="218.3" stroke="#50535e" stroke-width="1"/><rect x="380.3" y="210.2" width="2.8" height="7.7" fill="#fff" stroke="#50535e" stroke-width="1"/><line x1="386.1" y1="200.0" x2="386.1" y2="217.0" stroke="#50535e" stroke-width="1"/><rect x="384.7" y="203.4" width="2.8" height="6.0" fill="#fff" stroke="#50535e" stroke-width="1"/><line x1="390.5" y1="202.0" x2="390.5" y2="204.5" stroke="#50535e" stroke-width="1"/><rect x="388.7" y="202.8" width="3.6" height="1.0" fill="#4a4e5a"/><line x1="394.9" y1="197.6" x2="394.9" y2="214.6" stroke="#50535e" stroke-width="1"/><rect x="393.1" y="203.0" width="3.6" height="1.0" fill="#4a4e5a"/><line x1="399.2" y1="199.0" x2="399.2" y2="205.7" stroke="#50535e" stroke-width="1"/><rect x="397.8" y="199.8" width="2.8" height="2.3" fill="#fff" stroke="#50535e" stroke-width="1"/><line x1="403.6" y1="197.2" x2="403.6" y2="209.4" stroke="#50535e" stroke-width="1"/><rect x="401.8" y="199.0" width="3.6" height="7.3" fill="#4a4e5a"/><line x1="408.0" y1="180.0" x2="408.0" y2="206.7" stroke="#50535e" stroke-width="1"/><rect x="406.6" y="183.6" width="2.8" height="22.7" fill="#fff" stroke="#50535e" stroke-width="1"/><line x1="412.3" y1="175.2" x2="412.3" y2="183.5" stroke="#50535e" stroke-width="1"/><rect x="410.5" y="182.8" width="3.6" height="1.0" fill="#4a4e5a"/><line x1="416.7" y1="164.9" x2="416.7" y2="182.6" stroke="#50535e" stroke-width="1"/><rect x="415.3" y="165.3" width="2.8" height="16.9" fill="#fff" stroke="#50535e" stroke-width="1"/><line x1="421.1" y1="155.0" x2="421.1" y2="165.2" stroke="#50535e" stroke-width="1"/><rect x="419.7" y="156.7" width="2.8" height="8.1" fill="#fff" stroke="#50535e" stroke-width="1"/><line x1="425.4" y1="155.7" x2="425.4" y2="167.3" stroke="#50535e" stroke-width="1"/><rect x="423.6" y="155.7" width="3.6" height="3.7" fill="#4a4e5a"/><line x1="429.8" y1="142.3" x2="429.8" y2="158.2" stroke="#50535e" stroke-width="1"/><rect x="428.4" y="147.0" width="2.8" height="10.8" fill="#fff" stroke="#50535e" stroke-width="1"/><line x1="434.2" y1="143.3" x2="434.2" y2="155.5" stroke="#50535e" stroke-width="1"/><rect x="432.4" y="146.2" width="3.6" height="9.3" fill="#4a4e5a"/><line x1="438.6" y1="145.4" x2="438.6" y2="157.0" stroke="#50535e" stroke-width="1"/><rect x="437.2" y="150.6" width="2.8" height="4.7" fill="#fff" stroke="#50535e" stroke-width="1"/><line x1="442.9" y1="144.0" x2="442.9" y2="151.5" stroke="#50535e" stroke-width="1"/><rect x="441.1" y="149.4" width="3.6" height="1.0" fill="#4a4e5a"/><line x1="447.3" y1="144.0" x2="447.3" y2="152.0" stroke="#50535e" stroke-width="1"/><rect x="445.9" y="147.6" width="2.8" height="0.4" fill="#fff" stroke="#50535e" stroke-width="1"/><line x1="451.7" y1="142.3" x2="451.7" y2="152.0" stroke="#50535e" stroke-width="1"/><rect x="450.3" y="146.1" width="2.8" height="1.9" fill="#fff" stroke="#50535e" stroke-width="1"/><line x1="456.0" y1="143.3" x2="456.0" y2="164.5" stroke="#50535e" stroke-width="1"/><rect x="454.2" y="146.2" width="3.6" height="18.3" fill="#4a4e5a"/><line x1="460.4" y1="156.3" x2="460.4" y2="170.4" stroke="#50535e" stroke-width="1"/><rect x="459.0" y="159.2" width="2.8" height="6.5" fill="#fff" stroke="#50535e" stroke-width="1"/><line x1="464.8" y1="158.2" x2="464.8" y2="164.3" stroke="#50535e" stroke-width="1"/><rect x="463.0" y="158.2" width="3.6" height="6.1" fill="#4a4e5a"/><line x1="469.1" y1="164.9" x2="469.1" y2="174.6" stroke="#50535e" stroke-width="1"/><rect x="467.3" y="164.9" width="3.6" height="8.5" fill="#4a4e5a"/><line x1="473.5" y1="173.0" x2="473.5" y2="179.5" stroke="#50535e" stroke-width="1"/><rect x="471.7" y="173.0" width="3.6" height="3.5" fill="#4a4e5a"/><line x1="477.9" y1="175.9" x2="477.9" y2="194.8" stroke="#50535e" stroke-width="1"/><rect x="476.1" y="175.9" width="3.6" height="16.4" fill="#4a4e5a"/><line x1="482.2" y1="176.5" x2="482.2" y2="196.6" stroke="#50535e" stroke-width="1"/><rect x="480.8" y="176.9" width="2.8" height="14.0" fill="#fff" stroke="#50535e" stroke-width="1"/><line x1="486.6" y1="172.2" x2="486.6" y2="185.0" stroke="#50535e" stroke-width="1"/><rect x="484.8" y="177.0" width="3.6" height="5.0" fill="#4a4e5a"/><line x1="491.0" y1="171.3" x2="491.0" y2="180.4" stroke="#50535e" stroke-width="1"/><rect x="489.6" y="176.9" width="2.8" height="3.1" fill="#fff" stroke="#50535e" stroke-width="1"/><line x1="495.4" y1="172.2" x2="495.4" y2="191.3" stroke="#50535e" stroke-width="1"/><rect x="493.6" y="177.0" width="3.6" height="14.3" fill="#4a4e5a"/><line x1="499.7" y1="182.0" x2="499.7" y2="196.6" stroke="#50535e" stroke-width="1"/><rect x="498.3" y="185.4" width="2.8" height="5.5" fill="#fff" stroke="#50535e" stroke-width="1"/><line x1="504.1" y1="179.5" x2="504.1" y2="185.0" stroke="#50535e" stroke-width="1"/><rect x="502.7" y="183.6" width="2.8" height="1.0" fill="#fff" stroke="#50535e" stroke-width="1"/><line x1="508.5" y1="182.0" x2="508.5" y2="187.2" stroke="#50535e" stroke-width="1"/><rect x="506.7" y="183.5" width="3.6" height="3.7" fill="#4a4e5a"/><line x1="512.8" y1="185.7" x2="512.8" y2="197.2" stroke="#50535e" stroke-width="1"/><rect x="511.0" y="187.5" width="3.6" height="9.3" fill="#4a4e5a"/><line x1="517.2" y1="195.1" x2="517.2" y2="224.0" stroke="#50535e" stroke-width="1"/><rect x="515.4" y="195.1" width="3.6" height="28.9" fill="#4a4e5a"/><line x1="521.6" y1="224.0" x2="521.6" y2="248.7" stroke="#50535e" stroke-width="1"/><rect x="519.8" y="224.0" width="3.6" height="24.7" fill="#4a4e5a"/><line x1="525.9" y1="248.0" x2="525.9" y2="273.5" stroke="#50535e" stroke-width="1"/><rect x="524.1" y="248.0" width="3.6" height="13.5" fill="#4a4e5a"/><line x1="530.3" y1="243.4" x2="530.3" y2="270.9" stroke="#50535e" stroke-width="1"/><rect x="528.9" y="243.8" width="2.8" height="17.3" fill="#fff" stroke="#50535e" stroke-width="1"/><line x1="534.7" y1="239.0" x2="534.7" y2="256.0" stroke="#50535e" stroke-width="1"/><rect x="532.9" y="243.4" width="3.6" height="7.4" fill="#4a4e5a"/><line x1="539.0" y1="234.0" x2="539.0" y2="254.0" stroke="#50535e" stroke-width="1"/><rect x="537.6" y="244.9" width="2.8" height="5.5" fill="#fff" stroke="#50535e" stroke-width="1"/><line x1="543.4" y1="243.0" x2="543.4" y2="248.0" stroke="#50535e" stroke-width="1"/><rect x="541.6" y="243.0" width="3.6" height="1.7" fill="#4a4e5a"/><line x1="547.8" y1="236.7" x2="547.8" y2="247.4" stroke="#50535e" stroke-width="1"/><rect x="546.0" y="245.2" width="3.6" height="1.0" fill="#4a4e5a"/><line x1="552.2" y1="245.8" x2="552.2" y2="263.0" stroke="#50535e" stroke-width="1"/><rect x="550.4" y="245.8" width="3.6" height="15.0" fill="#4a4e5a"/><line x1="556.5" y1="256.0" x2="556.5" y2="279.6" stroke="#50535e" stroke-width="1"/><rect x="554.7" y="260.8" width="3.6" height="14.1" fill="#4a4e5a"/><line x1="560.9" y1="270.9" x2="560.9" y2="281.6" stroke="#50535e" stroke-width="1"/><rect x="559.1" y="272.4" width="3.6" height="1.0" fill="#4a4e5a"/><line x1="565.3" y1="253.4" x2="565.3" y2="271.5" stroke="#50535e" stroke-width="1"/><rect x="563.9" y="253.8" width="2.8" height="17.3" fill="#fff" stroke="#50535e" stroke-width="1"/><line x1="569.6" y1="241.4" x2="569.6" y2="252.1" stroke="#50535e" stroke-width="1"/><rect x="568.2" y="245.8" width="2.8" height="5.9" fill="#fff" stroke="#50535e" stroke-width="1"/><line x1="574.0" y1="236.0" x2="574.0" y2="258.4" stroke="#50535e" stroke-width="1"/><rect x="572.2" y="243.0" width="3.6" height="15.4" fill="#4a4e5a"/><line x1="578.4" y1="254.8" x2="578.4" y2="268.9" stroke="#50535e" stroke-width="1"/><rect x="577.0" y="255.2" width="2.8" height="1.9" fill="#fff" stroke="#50535e" stroke-width="1"/><line x1="582.7" y1="243.4" x2="582.7" y2="264.6" stroke="#50535e" stroke-width="1"/><rect x="581.3" y="246.4" width="2.8" height="9.3" fill="#fff" stroke="#50535e" stroke-width="1"/><line x1="587.1" y1="246.0" x2="587.1" y2="264.2" stroke="#50535e" stroke-width="1"/><rect x="585.3" y="246.0" width="3.6" height="13.7" fill="#4a4e5a"/><line x1="591.5" y1="242.0" x2="591.5" y2="258.1" stroke="#50535e" stroke-width="1"/><rect x="590.1" y="244.4" width="2.8" height="13.3" fill="#fff" stroke="#50535e" stroke-width="1"/><line x1="595.9" y1="240.0" x2="595.9" y2="250.8" stroke="#50535e" stroke-width="1"/><rect x="594.1" y="243.8" width="3.6" height="1.0" fill="#4a4e5a"/><line x1="600.2" y1="224.0" x2="600.2" y2="249.4" stroke="#50535e" stroke-width="1"/><rect x="598.8" y="233.3" width="2.8" height="9.7" fill="#fff" stroke="#50535e" stroke-width="1"/><line x1="604.6" y1="220.6" x2="604.6" y2="234.0" stroke="#50535e" stroke-width="1"/><rect x="603.2" y="231.4" width="2.8" height="2.2" fill="#fff" stroke="#50535e" stroke-width="1"/><line x1="609.0" y1="222.6" x2="609.0" y2="235.3" stroke="#50535e" stroke-width="1"/><rect x="607.6" y="225.7" width="2.8" height="4.5" fill="#fff" stroke="#50535e" stroke-width="1"/><line x1="613.3" y1="222.2" x2="613.3" y2="234.7" stroke="#50535e" stroke-width="1"/><rect x="611.5" y="222.2" width="3.6" height="4.0" fill="#4a4e5a"/><line x1="617.7" y1="216.6" x2="617.7" y2="226.2" stroke="#50535e" stroke-width="1"/><rect x="615.9" y="225.8" width="3.6" height="1.0" fill="#4a4e5a"/><line x1="622.1" y1="203.4" x2="622.1" y2="226.2" stroke="#50535e" stroke-width="1"/><rect x="620.7" y="203.8" width="2.8" height="22.0" fill="#fff" stroke="#50535e" stroke-width="1"/><line x1="626.4" y1="197.0" x2="626.4" y2="203.8" stroke="#50535e" stroke-width="1"/><rect x="625.0" y="197.4" width="2.8" height="6.0" fill="#fff" stroke="#50535e" stroke-width="1"/><line x1="630.8" y1="194.5" x2="630.8" y2="202.2" stroke="#50535e" stroke-width="1"/><rect x="629.0" y="197.3" width="3.6" height="1.6" fill="#4a4e5a"/><line x1="635.2" y1="191.2" x2="635.2" y2="199.8" stroke="#50535e" stroke-width="1"/><rect x="633.8" y="194.7" width="2.8" height="4.7" fill="#fff" stroke="#50535e" stroke-width="1"/><line x1="639.5" y1="192.4" x2="639.5" y2="194.3" stroke="#50535e" stroke-width="1"/><rect x="638.1" y="192.8" width="2.8" height="1.1" fill="#fff" stroke="#50535e" stroke-width="1"/><line x1="643.9" y1="185.0" x2="643.9" y2="194.9" stroke="#50535e" stroke-width="1"/><rect x="642.5" y="187.6" width="2.8" height="4.4" fill="#fff" stroke="#50535e" stroke-width="1"/><line x1="648.3" y1="175.0" x2="648.3" y2="188.2" stroke="#50535e" stroke-width="1"/><rect x="646.9" y="178.6" width="2.8" height="9.2" fill="#fff" stroke="#50535e" stroke-width="1"/><line x1="652.7" y1="175.0" x2="652.7" y2="181.5" stroke="#50535e" stroke-width="1"/><rect x="650.9" y="178.2" width="3.6" height="3.3" fill="#4a4e5a"/><line x1="657.0" y1="176.0" x2="657.0" y2="193.7" stroke="#50535e" stroke-width="1"/><rect x="655.2" y="180.9" width="3.6" height="9.7" fill="#4a4e5a"/><line x1="661.4" y1="180.8" x2="661.4" y2="189.4" stroke="#50535e" stroke-width="1"/><rect x="660.0" y="182.4" width="2.8" height="6.6" fill="#fff" stroke="#50535e" stroke-width="1"/><line x1="665.8" y1="170.9" x2="665.8" y2="182.2" stroke="#50535e" stroke-width="1"/><rect x="664.0" y="181.8" width="3.6" height="1.0" fill="#4a4e5a"/><line x1="670.1" y1="177.8" x2="670.1" y2="187.6" stroke="#50535e" stroke-width="1"/><rect x="668.3" y="180.9" width="3.6" height="6.7" fill="#4a4e5a"/><line x1="674.5" y1="186.3" x2="674.5" y2="204.6" stroke="#50535e" stroke-width="1"/><rect x="672.7" y="186.3" width="3.6" height="11.4" fill="#4a4e5a"/><line x1="678.9" y1="194.9" x2="678.9" y2="200.4" stroke="#50535e" stroke-width="1"/><rect x="677.1" y="197.9" width="3.6" height="2.5" fill="#4a4e5a"/><line x1="683.2" y1="200.4" x2="683.2" y2="206.7" stroke="#50535e" stroke-width="1"/><rect x="681.4" y="200.4" width="3.6" height="6.3" fill="#4a4e5a"/><line x1="687.6" y1="200.4" x2="687.6" y2="215.6" stroke="#50535e" stroke-width="1"/><rect x="685.8" y="206.2" width="3.6" height="9.4" fill="#4a4e5a"/><line x1="692.0" y1="212.0" x2="692.0" y2="222.3" stroke="#50535e" stroke-width="1"/><rect x="690.2" y="216.2" width="3.6" height="2.5" fill="#4a4e5a"/><line x1="696.4" y1="219.3" x2="696.4" y2="233.9" stroke="#50535e" stroke-width="1"/><rect x="694.6" y="219.3" width="3.6" height="14.6" fill="#4a4e5a"/><line x1="700.7" y1="233.7" x2="700.7" y2="245.5" stroke="#50535e" stroke-width="1"/><rect x="698.9" y="233.7" width="3.6" height="1.0" fill="#4a4e5a"/><line x1="705.1" y1="229.0" x2="705.1" y2="234.3" stroke="#50535e" stroke-width="1"/><rect x="703.7" y="232.4" width="2.8" height="1.5" fill="#fff" stroke="#50535e" stroke-width="1"/><line x1="709.5" y1="230.9" x2="709.5" y2="238.0" stroke="#50535e" stroke-width="1"/><rect x="707.7" y="230.9" width="3.6" height="1.8" fill="#4a4e5a"/><line x1="713.8" y1="215.6" x2="713.8" y2="236.3" stroke="#50535e" stroke-width="1"/><rect x="712.4" y="221.7" width="2.8" height="11.4" fill="#fff" stroke="#50535e" stroke-width="1"/><line x1="718.2" y1="220.5" x2="718.2" y2="231.5" stroke="#50535e" stroke-width="1"/><rect x="716.4" y="222.3" width="3.6" height="1.8" fill="#4a4e5a"/><line x1="722.6" y1="224.8" x2="722.6" y2="231.5" stroke="#50535e" stroke-width="1"/><rect x="720.8" y="226.0" width="3.6" height="5.5" fill="#4a4e5a"/><line x1="726.9" y1="229.0" x2="726.9" y2="236.0" stroke="#50535e" stroke-width="1"/><rect x="725.1" y="230.9" width="3.6" height="2.4" fill="#4a4e5a"/><line x1="731.3" y1="233.9" x2="731.3" y2="245.5" stroke="#50535e" stroke-width="1"/><rect x="729.5" y="233.9" width="3.6" height="11.6" fill="#4a4e5a"/><line x1="735.7" y1="243.0" x2="735.7" y2="257.7" stroke="#50535e" stroke-width="1"/><rect x="733.9" y="245.2" width="3.6" height="1.0" fill="#4a4e5a"/><line x1="740.0" y1="237.4" x2="740.0" y2="244.4" stroke="#50535e" stroke-width="1"/><rect x="738.6" y="242.1" width="2.8" height="1.9" fill="#fff" stroke="#50535e" stroke-width="1"/><line x1="744.4" y1="238.3" x2="744.4" y2="243.5" stroke="#50535e" stroke-width="1"/><rect x="742.6" y="241.8" width="3.6" height="1.0" fill="#4a4e5a"/><line x1="748.8" y1="236.6" x2="748.8" y2="244.4" stroke="#50535e" stroke-width="1"/><rect x="747.0" y="242.1" width="3.6" height="1.0" fill="#4a4e5a"/><line x1="753.2" y1="239.3" x2="753.2" y2="244.4" stroke="#50535e" stroke-width="1"/><rect x="751.4" y="243.0" width="3.6" height="1.4" fill="#4a4e5a"/><line x1="757.5" y1="224.4" x2="757.5" y2="243.2" stroke="#50535e" stroke-width="1"/><rect x="756.1" y="224.8" width="2.8" height="18.0" fill="#fff" stroke="#50535e" stroke-width="1"/><line x1="761.9" y1="220.4" x2="761.9" y2="230.7" stroke="#50535e" stroke-width="1"/><rect x="760.1" y="223.4" width="3.6" height="7.3" fill="#4a4e5a"/><line x1="766.3" y1="230.1" x2="766.3" y2="240.5" stroke="#50535e" stroke-width="1"/><rect x="764.5" y="230.1" width="3.6" height="8.6" fill="#4a4e5a"/><line x1="770.6" y1="235.0" x2="770.6" y2="241.7" stroke="#50535e" stroke-width="1"/><rect x="768.8" y="238.5" width="3.6" height="1.0" fill="#4a4e5a"/><line x1="775.0" y1="240.5" x2="775.0" y2="260.6" stroke="#50535e" stroke-width="1"/><rect x="773.2" y="240.5" width="3.6" height="20.1" fill="#4a4e5a"/><line x1="779.4" y1="262.7" x2="779.4" y2="269.5" stroke="#50535e" stroke-width="1"/><rect x="777.6" y="262.7" width="3.6" height="6.8" fill="#4a4e5a"/><line x1="783.7" y1="263.0" x2="783.7" y2="270.4" stroke="#50535e" stroke-width="1"/><rect x="781.9" y="266.8" width="3.6" height="1.0" fill="#4a4e5a"/><line x1="788.1" y1="266.1" x2="788.1" y2="276.5" stroke="#50535e" stroke-width="1"/><rect x="786.3" y="266.1" width="3.6" height="10.4" fill="#4a4e5a"/><line x1="792.5" y1="275.9" x2="792.5" y2="288.0" stroke="#50535e" stroke-width="1"/><rect x="790.7" y="276.6" width="3.6" height="1.0" fill="#4a4e5a"/><line x1="796.8" y1="254.5" x2="796.8" y2="278.3" stroke="#50535e" stroke-width="1"/><rect x="795.4" y="254.9" width="2.8" height="23.0" fill="#fff" stroke="#50535e" stroke-width="1"/><line x1="801.2" y1="254.9" x2="801.2" y2="259.4" stroke="#50535e" stroke-width="1"/><rect x="799.4" y="254.9" width="3.6" height="4.5" fill="#4a4e5a"/><line x1="805.6" y1="255.0" x2="805.6" y2="269.8" stroke="#50535e" stroke-width="1"/><rect x="803.8" y="258.8" width="3.6" height="11.0" fill="#4a4e5a"/><line x1="810.0" y1="267.3" x2="810.0" y2="272.4" stroke="#50535e" stroke-width="1"/><rect x="808.6" y="267.7" width="2.8" height="1.4" fill="#fff" stroke="#50535e" stroke-width="1"/><line x1="814.3" y1="266.1" x2="814.3" y2="270.4" stroke="#50535e" stroke-width="1"/><rect x="812.5" y="266.1" width="3.6" height="4.3" fill="#4a4e5a"/><line x1="818.7" y1="251.5" x2="818.7" y2="389.7" stroke="#50535e" stroke-width="1"/><rect x="816.9" y="270.0" width="3.6" height="119.7" fill="#4a4e5a"/><line x1="823.1" y1="362.0" x2="823.1" y2="410.7" stroke="#50535e" stroke-width="1"/><rect x="821.3" y="390.2" width="3.6" height="1.0" fill="#4a4e5a"/><line x1="827.4" y1="393.1" x2="827.4" y2="434.0" stroke="#50535e" stroke-width="1"/><rect x="825.6" y="393.1" width="3.6" height="35.2" fill="#4a4e5a"/><line x1="831.8" y1="351.3" x2="831.8" y2="438.6" stroke="#50535e" stroke-width="1"/><rect x="830.4" y="360.2" width="2.8" height="71.6" fill="#fff" stroke="#50535e" stroke-width="1"/><line x1="836.2" y1="315.4" x2="836.2" y2="363.7" stroke="#50535e" stroke-width="1"/><rect x="834.8" y="315.8" width="2.8" height="40.2" fill="#fff" stroke="#50535e" stroke-width="1"/><line x1="840.5" y1="300.0" x2="840.5" y2="315.4" stroke="#50535e" stroke-width="1"/><rect x="839.1" y="306.0" width="2.8" height="5.3" fill="#fff" stroke="#50535e" stroke-width="1"/><line x1="844.9" y1="303.4" x2="844.9" y2="322.0" stroke="#50535e" stroke-width="1"/><rect x="843.1" y="303.4" width="3.6" height="1.6" fill="#4a4e5a"/><line x1="849.3" y1="291.3" x2="849.3" y2="320.2" stroke="#50535e" stroke-width="1"/><rect x="847.5" y="300.4" width="3.6" height="10.7" fill="#4a4e5a"/><line x1="853.7" y1="296.2" x2="853.7" y2="313.3" stroke="#50535e" stroke-width="1"/><rect x="852.3" y="306.4" width="2.8" height="4.9" fill="#fff" stroke="#50535e" stroke-width="1"/><line x1="858.0" y1="280.9" x2="858.0" y2="305.6" stroke="#50535e" stroke-width="1"/><rect x="856.6" y="293.8" width="2.8" height="11.4" fill="#fff" stroke="#50535e" stroke-width="1"/><line x1="862.4" y1="289.2" x2="862.4" y2="300.7" stroke="#50535e" stroke-width="1"/><rect x="860.6" y="292.2" width="3.6" height="5.5" fill="#4a4e5a"/><line x1="866.8" y1="267.8" x2="866.8" y2="297.7" stroke="#50535e" stroke-width="1"/><rect x="865.4" y="271.3" width="2.8" height="26.0" fill="#fff" stroke="#50535e" stroke-width="1"/><line x1="871.1" y1="269.6" x2="871.1" y2="300.4" stroke="#50535e" stroke-width="1"/><rect x="869.3" y="270.9" width="3.6" height="29.5" fill="#4a4e5a"/><line x1="875.5" y1="302.0" x2="875.5" y2="309.3" stroke="#50535e" stroke-width="1"/><rect x="873.7" y="302.0" width="3.6" height="5.4" fill="#4a4e5a"/><line x1="879.9" y1="290.4" x2="879.9" y2="307.4" stroke="#50535e" stroke-width="1"/><rect x="878.5" y="297.8" width="2.8" height="9.2" fill="#fff" stroke="#50535e" stroke-width="1"/><line x1="884.2" y1="269.0" x2="884.2" y2="297.7" stroke="#50535e" stroke-width="1"/><rect x="882.8" y="275.5" width="2.8" height="21.8" fill="#fff" stroke="#50535e" stroke-width="1"/><line x1="888.6" y1="275.1" x2="888.6" y2="290.6" stroke="#50535e" stroke-width="1"/><rect x="886.8" y="275.1" width="3.6" height="15.5" fill="#4a4e5a"/><line x1="893.0" y1="281.2" x2="893.0" y2="294.0" stroke="#50535e" stroke-width="1"/><rect x="891.2" y="290.4" width="3.6" height="1.8" fill="#4a4e5a"/><line x1="897.3" y1="291.3" x2="897.3" y2="308.0" stroke="#50535e" stroke-width="1"/><rect x="895.5" y="292.8" width="3.6" height="15.2" fill="#4a4e5a"/><line x1="901.7" y1="303.2" x2="901.7" y2="318.4" stroke="#50535e" stroke-width="1"/><rect x="899.9" y="308.7" width="3.6" height="6.1" fill="#4a4e5a"/><line x1="906.1" y1="302.0" x2="906.1" y2="324.5" stroke="#50535e" stroke-width="1"/><rect x="904.7" y="302.4" width="2.8" height="11.3" fill="#fff" stroke="#50535e" stroke-width="1"/><line x1="910.5" y1="299.1" x2="910.5" y2="320.9" stroke="#50535e" stroke-width="1"/><rect x="908.7" y="299.1" width="3.6" height="21.8" fill="#4a4e5a"/><line x1="914.8" y1="289.4" x2="914.8" y2="320.9" stroke="#50535e" stroke-width="1"/><rect x="913.4" y="289.8" width="2.8" height="30.7" fill="#fff" stroke="#50535e" stroke-width="1"/><line x1="919.2" y1="285.0" x2="919.2" y2="290.0" stroke="#50535e" stroke-width="1"/><rect x="917.8" y="286.6" width="2.8" height="1.3" fill="#fff" stroke="#50535e" stroke-width="1"/><line x1="923.6" y1="271.3" x2="923.6" y2="284.8" stroke="#50535e" stroke-width="1"/><rect x="922.2" y="273.6" width="2.8" height="10.8" fill="#fff" stroke="#50535e" stroke-width="1"/><line x1="927.9" y1="250.0" x2="927.9" y2="275.6" stroke="#50535e" stroke-width="1"/><rect x="926.5" y="269.3" width="2.8" height="2.9" fill="#fff" stroke="#50535e" stroke-width="1"/><line x1="932.3" y1="262.8" x2="932.3" y2="278.7" stroke="#50535e" stroke-width="1"/><rect x="930.5" y="268.9" width="3.6" height="5.0" fill="#4a4e5a"/><line x1="936.7" y1="259.2" x2="936.7" y2="273.2" stroke="#50535e" stroke-width="1"/><rect x="935.3" y="260.8" width="2.8" height="12.0" fill="#fff" stroke="#50535e" stroke-width="1"/><line x1="941.0" y1="255.5" x2="941.0" y2="262.8" stroke="#50535e" stroke-width="1"/><rect x="939.2" y="258.0" width="3.6" height="1.5" fill="#4a4e5a"/><line x1="945.4" y1="258.0" x2="945.4" y2="290.2" stroke="#50535e" stroke-width="1"/><rect x="943.6" y="258.0" width="3.6" height="28.6" fill="#4a4e5a"/><line x1="949.8" y1="282.3" x2="949.8" y2="292.7" stroke="#50535e" stroke-width="1"/><rect x="948.0" y="285.2" width="3.6" height="1.0" fill="#4a4e5a"/><line x1="954.2" y1="276.2" x2="954.2" y2="296.1" stroke="#50535e" stroke-width="1"/><rect x="952.4" y="285.4" width="3.6" height="10.7" fill="#4a4e5a"/><line x1="958.5" y1="297.0" x2="958.5" y2="307.3" stroke="#50535e" stroke-width="1"/><rect x="956.7" y="297.0" width="3.6" height="6.7" fill="#4a4e5a"/><line x1="962.9" y1="296.4" x2="962.9" y2="306.1" stroke="#50535e" stroke-width="1"/><rect x="961.5" y="302.2" width="2.8" height="1.7" fill="#fff" stroke="#50535e" stroke-width="1"/><line x1="967.3" y1="305.5" x2="967.3" y2="314.4" stroke="#50535e" stroke-width="1"/><rect x="965.5" y="305.5" width="3.6" height="6.9" fill="#4a4e5a"/><line x1="971.6" y1="312.4" x2="971.6" y2="320.7" stroke="#50535e" stroke-width="1"/><rect x="969.8" y="312.4" width="3.6" height="3.2" fill="#4a4e5a"/><line x1="976.0" y1="315.2" x2="976.0" y2="323.2" stroke="#50535e" stroke-width="1"/><rect x="974.2" y="315.2" width="3.6" height="8.0" fill="#4a4e5a"/><line x1="980.4" y1="320.1" x2="980.4" y2="325.6" stroke="#50535e" stroke-width="1"/><rect x="978.6" y="322.4" width="3.6" height="1.0" fill="#4a4e5a"/><line x1="984.7" y1="304.3" x2="984.7" y2="323.2" stroke="#50535e" stroke-width="1"/><rect x="983.3" y="316.0" width="2.8" height="6.8" fill="#fff" stroke="#50535e" stroke-width="1"/><line x1="989.1" y1="294.5" x2="989.1" y2="323.8" stroke="#50535e" stroke-width="1"/><rect x="987.7" y="294.9" width="2.8" height="21.2" fill="#fff" stroke="#50535e" stroke-width="1"/><line x1="993.5" y1="291.5" x2="993.5" y2="310.4" stroke="#50535e" stroke-width="1"/><rect x="991.7" y="293.9" width="3.6" height="2.7" fill="#4a4e5a"/><line x1="997.8" y1="289.3" x2="997.8" y2="297.3" stroke="#50535e" stroke-width="1"/><rect x="996.4" y="293.7" width="2.8" height="3.2" fill="#fff" stroke="#50535e" stroke-width="1"/><line x1="1002.2" y1="288.4" x2="1002.2" y2="313.4" stroke="#50535e" stroke-width="1"/><rect x="1000.4" y="292.9" width="3.6" height="20.5" fill="#4a4e5a"/><line x1="1006.6" y1="312.4" x2="1006.6" y2="325.6" stroke="#50535e" stroke-width="1"/><rect x="1004.8" y="312.4" width="3.6" height="13.2" fill="#4a4e5a"/><line x1="1011.0" y1="322.6" x2="1011.0" y2="339.6" stroke="#50535e" stroke-width="1"/><rect x="1009.2" y="325.4" width="3.6" height="14.2" fill="#4a4e5a"/><line x1="1015.3" y1="333.5" x2="1015.3" y2="344.5" stroke="#50535e" stroke-width="1"/><rect x="1013.5" y="341.2" width="3.6" height="3.3" fill="#4a4e5a"/><line x1="1019.7" y1="345.2" x2="1019.7" y2="356.2" stroke="#50535e" stroke-width="1"/><rect x="1017.9" y="345.2" width="3.6" height="7.4" fill="#4a4e5a"/><line x1="1024.1" y1="336.6" x2="1024.1" y2="352.6" stroke="#50535e" stroke-width="1"/><rect x="1022.7" y="339.9" width="2.8" height="12.3" fill="#fff" stroke="#50535e" stroke-width="1"/><line x1="1028.4" y1="339.1" x2="1028.4" y2="355.9" stroke="#50535e" stroke-width="1"/><rect x="1026.6" y="339.1" width="3.6" height="16.8" fill="#4a4e5a"/><line x1="1032.8" y1="351.3" x2="1032.8" y2="358.7" stroke="#50535e" stroke-width="1"/><rect x="1031.0" y="354.8" width="3.6" height="1.0" fill="#4a4e5a"/><line x1="1037.2" y1="356.2" x2="1037.2" y2="372.1" stroke="#50535e" stroke-width="1"/><rect x="1035.4" y="356.2" width="3.6" height="15.9" fill="#4a4e5a"/><line x1="1041.5" y1="362.0" x2="1041.5" y2="371.2" stroke="#50535e" stroke-width="1"/><rect x="1040.1" y="369.2" width="2.8" height="1.6" fill="#fff" stroke="#50535e" stroke-width="1"/><line x1="1045.9" y1="368.4" x2="1045.9" y2="375.7" stroke="#50535e" stroke-width="1"/><rect x="1044.1" y="370.7" width="3.6" height="1.0" fill="#4a4e5a"/><line x1="1050.3" y1="371.2" x2="1050.3" y2="382.4" stroke="#50535e" stroke-width="1"/><rect x="1048.5" y="371.2" width="3.6" height="9.0" fill="#4a4e5a"/><line x1="1054.6" y1="381.0" x2="1054.6" y2="396.5" stroke="#50535e" stroke-width="1"/><rect x="1052.8" y="381.0" width="3.6" height="12.4" fill="#4a4e5a"/><line x1="1059.0" y1="390.4" x2="1059.0" y2="406.8" stroke="#50535e" stroke-width="1"/><rect x="1057.2" y="393.4" width="3.6" height="7.3" fill="#4a4e5a"/><line x1="1063.4" y1="395.9" x2="1063.4" y2="407.4" stroke="#50535e" stroke-width="1"/><rect x="1061.6" y="401.3" width="3.6" height="3.3" fill="#4a4e5a"/><line x1="1067.8" y1="380.6" x2="1067.8" y2="407.1" stroke="#50535e" stroke-width="1"/><rect x="1066.4" y="381.0" width="2.8" height="25.7" fill="#fff" stroke="#50535e" stroke-width="1"/><line x1="1072.1" y1="381.0" x2="1072.1" y2="402.6" stroke="#50535e" stroke-width="1"/><rect x="1070.3" y="381.0" width="3.6" height="21.6" fill="#4a4e5a"/><line x1="1076.5" y1="375.4" x2="1076.5" y2="402.6" stroke="#50535e" stroke-width="1"/><rect x="1075.1" y="377.4" width="2.8" height="24.8" fill="#fff" stroke="#50535e" stroke-width="1"/><line x1="1080.9" y1="378.5" x2="1080.9" y2="400.7" stroke="#50535e" stroke-width="1"/><rect x="1079.1" y="378.5" width="3.6" height="22.2" fill="#4a4e5a"/><line x1="1085.2" y1="391.6" x2="1085.2" y2="399.5" stroke="#50535e" stroke-width="1"/><rect x="1083.8" y="393.8" width="2.8" height="5.3" fill="#fff" stroke="#50535e" stroke-width="1"/><line x1="1089.6" y1="392.2" x2="1089.6" y2="397.7" stroke="#50535e" stroke-width="1"/><rect x="1087.8" y="393.7" width="3.6" height="2.4" fill="#4a4e5a"/><line x1="1094.0" y1="371.5" x2="1094.0" y2="393.4" stroke="#50535e" stroke-width="1"/><rect x="1092.6" y="375.8" width="2.8" height="17.2" fill="#fff" stroke="#50535e" stroke-width="1"/><line x1="1098.3" y1="367.2" x2="1098.3" y2="377.6" stroke="#50535e" stroke-width="1"/><rect x="1096.9" y="369.7" width="2.8" height="6.0" fill="#fff" stroke="#50535e" stroke-width="1"/><line x1="1102.7" y1="361.5" x2="1102.7" y2="370.9" stroke="#50535e" stroke-width="1"/><rect x="1100.9" y="367.0" width="3.6" height="1.0" fill="#4a4e5a"/><line x1="1107.1" y1="367.2" x2="1107.1" y2="377.6" stroke="#50535e" stroke-width="1"/><rect x="1105.3" y="367.2" width="3.6" height="10.4" fill="#4a4e5a"/><line x1="1111.5" y1="378.2" x2="1111.5" y2="400.7" stroke="#50535e" stroke-width="1"/><rect x="1109.7" y="378.2" width="3.6" height="22.5" fill="#4a4e5a"/><line x1="1115.8" y1="397.0" x2="1115.8" y2="405.4" stroke="#50535e" stroke-width="1"/><rect x="1114.0" y="401.5" width="3.6" height="3.9" fill="#4a4e5a"/><line x1="1120.2" y1="405.2" x2="1120.2" y2="426.5" stroke="#50535e" stroke-width="1"/><rect x="1118.4" y="405.2" width="3.6" height="21.3" fill="#4a4e5a"/><line x1="1124.6" y1="423.7" x2="1124.6" y2="432.2" stroke="#50535e" stroke-width="1"/><rect x="1122.8" y="426.3" width="3.6" height="1.3" fill="#4a4e5a"/><line x1="1128.9" y1="427.0" x2="1128.9" y2="455.4" stroke="#50535e" stroke-width="1"/><rect x="1127.1" y="427.0" width="3.6" height="23.5" fill="#4a4e5a"/><line x1="1133.3" y1="450.0" x2="1133.3" y2="459.6" stroke="#50535e" stroke-width="1"/><rect x="1131.5" y="452.0" width="3.6" height="7.6" fill="#4a4e5a"/><line x1="1137.7" y1="450.5" x2="1137.7" y2="460.9" stroke="#50535e" stroke-width="1"/><rect x="1135.9" y="457.4" width="3.6" height="1.0" fill="#4a4e5a"/><line x1="1142.0" y1="457.2" x2="1142.0" y2="466.3" stroke="#50535e" stroke-width="1"/><rect x="1140.2" y="457.2" width="3.6" height="5.5" fill="#4a4e5a"/><line x1="1146.4" y1="440.5" x2="1146.4" y2="462.0" stroke="#50535e" stroke-width="1"/><rect x="1145.0" y="444.8" width="2.8" height="16.8" fill="#fff" stroke="#50535e" stroke-width="1"/><line x1="1150.8" y1="427.0" x2="1150.8" y2="448.7" stroke="#50535e" stroke-width="1"/><rect x="1149.4" y="442.6" width="2.8" height="0.8" fill="#fff" stroke="#50535e" stroke-width="1"/><line x1="1155.1" y1="422.4" x2="1155.1" y2="443.2" stroke="#50535e" stroke-width="1"/><rect x="1153.7" y="422.8" width="2.8" height="20.0" fill="#fff" stroke="#50535e" stroke-width="1"/><line x1="1159.5" y1="411.7" x2="1159.5" y2="424.3" stroke="#50535e" stroke-width="1"/><rect x="1158.1" y="413.7" width="2.8" height="8.9" fill="#fff" stroke="#50535e" stroke-width="1"/><line x1="1163.9" y1="413.3" x2="1163.9" y2="421.2" stroke="#50535e" stroke-width="1"/><rect x="1162.1" y="413.3" width="3.6" height="2.1" fill="#4a4e5a"/><line x1="1168.3" y1="412.4" x2="1168.3" y2="433.4" stroke="#50535e" stroke-width="1"/><rect x="1166.5" y="414.1" width="3.6" height="19.3" fill="#4a4e5a"/><line x1="1172.6" y1="433.4" x2="1172.6" y2="445.6" stroke="#50535e" stroke-width="1"/><rect x="1170.8" y="433.4" width="3.6" height="12.2" fill="#4a4e5a"/><line x1="1177.0" y1="446.6" x2="1177.0" y2="449.3" stroke="#50535e" stroke-width="1"/><rect x="1175.2" y="446.6" width="3.6" height="2.7" fill="#4a4e5a"/><line x1="1181.4" y1="449.9" x2="1181.4" y2="463.3" stroke="#50535e" stroke-width="1"/><rect x="1179.6" y="449.9" width="3.6" height="2.1" fill="#4a4e5a"/><line x1="1185.7" y1="452.0" x2="1185.7" y2="470.0" stroke="#50535e" stroke-width="1"/><rect x="1183.9" y="452.0" width="3.6" height="16.5" fill="#4a4e5a"/><line x1="1190.1" y1="456.0" x2="1190.1" y2="471.0" stroke="#50535e" stroke-width="1"/><rect x="1188.7" y="463.7" width="2.8" height="4.9" fill="#fff" stroke="#50535e" stroke-width="1"/><line x1="1194.5" y1="454.0" x2="1194.5" y2="465.0" stroke="#50535e" stroke-width="1"/><rect x="1193.1" y="461.6" width="2.8" height="1.0" fill="#fff" stroke="#50535e" stroke-width="1"/><line x1="1198.8" y1="432.2" x2="1198.8" y2="461.2" stroke="#50535e" stroke-width="1"/><rect x="1197.4" y="435.0" width="2.8" height="25.8" fill="#fff" stroke="#50535e" stroke-width="1"/><line x1="1203.2" y1="424.3" x2="1203.2" y2="438.3" stroke="#50535e" stroke-width="1"/><rect x="1201.8" y="430.8" width="2.8" height="3.2" fill="#fff" stroke="#50535e" stroke-width="1"/><line x1="1207.6" y1="413.3" x2="1207.6" y2="430.4" stroke="#50535e" stroke-width="1"/><rect x="1206.2" y="413.7" width="2.8" height="16.3" fill="#fff" stroke="#50535e" stroke-width="1"/><line x1="1212.0" y1="387.0" x2="1212.0" y2="412.4" stroke="#50535e" stroke-width="1"/><rect x="1210.6" y="390.9" width="2.8" height="21.1" fill="#fff" stroke="#50535e" stroke-width="1"/><line x1="1216.3" y1="381.6" x2="1216.3" y2="389.5" stroke="#50535e" stroke-width="1"/><rect x="1214.9" y="383.8" width="2.8" height="5.3" fill="#fff" stroke="#50535e" stroke-width="1"/><line x1="1220.7" y1="379.5" x2="1220.7" y2="385.2" stroke="#50535e" stroke-width="1"/><rect x="1219.3" y="382.0" width="2.8" height="1.3" fill="#fff" stroke="#50535e" stroke-width="1"/><line x1="1225.1" y1="377.6" x2="1225.1" y2="400.7" stroke="#50535e" stroke-width="1"/><rect x="1223.3" y="382.2" width="3.6" height="18.5" fill="#4a4e5a"/><line x1="1229.4" y1="400.4" x2="1229.4" y2="405.6" stroke="#50535e" stroke-width="1"/><rect x="1228.0" y="400.8" width="2.8" height="1.3" fill="#fff" stroke="#50535e" stroke-width="1"/><line x1="1233.8" y1="384.3" x2="1233.8" y2="400.4" stroke="#50535e" stroke-width="1"/><rect x="1232.4" y="384.7" width="2.8" height="15.3" fill="#fff" stroke="#50535e" stroke-width="1"/><line x1="1238.2" y1="383.6" x2="1238.2" y2="391.0" stroke="#50535e" stroke-width="1"/><rect x="1236.4" y="383.6" width="3.6" height="2.0" fill="#4a4e5a"/><line x1="1242.5" y1="378.2" x2="1242.5" y2="393.0" stroke="#50535e" stroke-width="1"/><rect x="1240.7" y="384.2" width="3.6" height="8.8" fill="#4a4e5a"/><line x1="1246.9" y1="386.3" x2="1246.9" y2="396.3" stroke="#50535e" stroke-width="1"/><rect x="1245.1" y="392.0" width="3.6" height="1.6" fill="#4a4e5a"/><line x1="1251.3" y1="393.6" x2="1251.3" y2="401.0" stroke="#50535e" stroke-width="1"/><rect x="1249.5" y="393.6" width="3.6" height="6.7" fill="#4a4e5a"/><line x1="1255.6" y1="385.4" x2="1255.6" y2="400.3" stroke="#50535e" stroke-width="1"/><rect x="1254.2" y="387.4" width="2.8" height="12.5" fill="#fff" stroke="#50535e" stroke-width="1"/><line x1="1260.0" y1="386.8" x2="1260.0" y2="395.6" stroke="#50535e" stroke-width="1"/><rect x="1258.2" y="387.0" width="3.6" height="1.0" fill="#4a4e5a"/><line x1="1264.4" y1="382.9" x2="1264.4" y2="397.7" stroke="#50535e" stroke-width="1"/><rect x="1262.6" y="387.2" width="3.6" height="10.5" fill="#4a4e5a"/><line x1="1268.8" y1="392.3" x2="1268.8" y2="403.0" stroke="#50535e" stroke-width="1"/><rect x="1267.0" y="395.6" width="3.6" height="2.1" fill="#4a4e5a"/><line x1="1273.1" y1="394.3" x2="1273.1" y2="417.7" stroke="#50535e" stroke-width="1"/><rect x="1271.3" y="397.9" width="3.6" height="18.5" fill="#4a4e5a"/><line x1="1277.5" y1="417.1" x2="1277.5" y2="427.8" stroke="#50535e" stroke-width="1"/><rect x="1275.7" y="417.1" width="3.6" height="6.7" fill="#4a4e5a"/><line x1="1281.9" y1="422.0" x2="1281.9" y2="436.5" stroke="#50535e" stroke-width="1"/><rect x="1280.1" y="422.0" width="3.6" height="9.2" fill="#4a4e5a"/><line x1="1286.2" y1="428.5" x2="1286.2" y2="442.6" stroke="#50535e" stroke-width="1"/><rect x="1284.4" y="431.2" width="3.6" height="11.4" fill="#4a4e5a"/><line x1="1290.6" y1="440.3" x2="1290.6" y2="450.0" stroke="#50535e" stroke-width="1"/><rect x="1289.2" y="440.7" width="2.8" height="1.1" fill="#fff" stroke="#50535e" stroke-width="1"/><line x1="1295.0" y1="423.1" x2="1295.0" y2="441.6" stroke="#50535e" stroke-width="1"/><rect x="1293.6" y="425.1" width="2.8" height="16.1" fill="#fff" stroke="#50535e" stroke-width="1"/><line x1="1299.3" y1="389.0" x2="1299.3" y2="425.1" stroke="#50535e" stroke-width="1"/><rect x="1297.9" y="390.7" width="2.8" height="34.0" fill="#fff" stroke="#50535e" stroke-width="1"/><line x1="1303.7" y1="356.8" x2="1303.7" y2="390.7" stroke="#50535e" stroke-width="1"/><rect x="1302.3" y="357.2" width="2.8" height="33.1" fill="#fff" stroke="#50535e" stroke-width="1"/><line x1="1308.1" y1="352.0" x2="1308.1" y2="365.5" stroke="#50535e" stroke-width="1"/><rect x="1306.3" y="357.2" width="3.6" height="7.6" fill="#4a4e5a"/><line x1="1312.5" y1="355.4" x2="1312.5" y2="363.9" stroke="#50535e" stroke-width="1"/><rect x="1311.0" y="355.8" width="2.8" height="7.7" fill="#fff" stroke="#50535e" stroke-width="1"/><line x1="1316.8" y1="345.4" x2="1316.8" y2="357.4" stroke="#50535e" stroke-width="1"/><rect x="1315.4" y="347.4" width="2.8" height="6.7" fill="#fff" stroke="#50535e" stroke-width="1"/><line x1="1321.2" y1="342.4" x2="1321.2" y2="347.4" stroke="#50535e" stroke-width="1"/><rect x="1319.4" y="346.0" width="3.6" height="1.4" fill="#4a4e5a"/><line x1="1325.6" y1="347.8" x2="1325.6" y2="369.5" stroke="#50535e" stroke-width="1"/><rect x="1323.8" y="347.8" width="3.6" height="21.7" fill="#4a4e5a"/><line x1="1329.9" y1="362.5" x2="1329.9" y2="371.5" stroke="#50535e" stroke-width="1"/><rect x="1328.5" y="366.5" width="2.8" height="1.9" fill="#fff" stroke="#50535e" stroke-width="1"/><line x1="1334.3" y1="361.2" x2="1334.3" y2="374.2" stroke="#50535e" stroke-width="1"/><rect x="1332.5" y="366.1" width="3.6" height="2.1" fill="#4a4e5a"/><line x1="1338.7" y1="362.1" x2="1338.7" y2="368.2" stroke="#50535e" stroke-width="1"/><rect x="1337.3" y="365.9" width="2.8" height="1.9" fill="#fff" stroke="#50535e" stroke-width="1"/><line x1="1343.0" y1="358.3" x2="1343.0" y2="364.8" stroke="#50535e" stroke-width="1"/><rect x="1341.6" y="362.5" width="2.8" height="1.9" fill="#fff" stroke="#50535e" stroke-width="1"/><line x1="1347.4" y1="359.4" x2="1347.4" y2="380.2" stroke="#50535e" stroke-width="1"/><rect x="1345.6" y="360.0" width="3.6" height="14.0" fill="#4a4e5a"/><line x1="1351.8" y1="374.1" x2="1351.8" y2="387.0" stroke="#50535e" stroke-width="1"/><rect x="1350.0" y="374.1" width="3.6" height="2.5" fill="#4a4e5a"/><line x1="1356.1" y1="361.1" x2="1356.1" y2="374.8" stroke="#50535e" stroke-width="1"/><rect x="1354.7" y="368.4" width="2.8" height="6.0" fill="#fff" stroke="#50535e" stroke-width="1"/><line x1="1360.5" y1="362.0" x2="1360.5" y2="368.0" stroke="#50535e" stroke-width="1"/><rect x="1359.1" y="365.4" width="2.8" height="1.4" fill="#fff" stroke="#50535e" stroke-width="1"/><line x1="1364.9" y1="361.1" x2="1364.9" y2="368.7" stroke="#50535e" stroke-width="1"/><rect x="1363.1" y="364.8" width="3.6" height="1.0" fill="#4a4e5a"/><line x1="1369.3" y1="362.0" x2="1369.3" y2="374.8" stroke="#50535e" stroke-width="1"/><rect x="1367.5" y="364.2" width="3.6" height="1.0" fill="#4a4e5a"/><line x1="1373.6" y1="355.2" x2="1373.6" y2="363.5" stroke="#50535e" stroke-width="1"/><rect x="1372.2" y="355.6" width="2.8" height="7.5" fill="#fff" stroke="#50535e" stroke-width="1"/><line x1="1378.0" y1="346.0" x2="1378.0" y2="363.8" stroke="#50535e" stroke-width="1"/><rect x="1376.6" y="348.6" width="2.8" height="6.0" fill="#fff" stroke="#50535e" stroke-width="1"/><line x1="1382.4" y1="348.2" x2="1382.4" y2="354.6" stroke="#50535e" stroke-width="1"/><rect x="1380.6" y="348.2" width="3.6" height="2.4" fill="#4a4e5a"/><line x1="1386.7" y1="350.6" x2="1386.7" y2="371.7" stroke="#50535e" stroke-width="1"/><rect x="1384.9" y="350.6" width="3.6" height="21.1" fill="#4a4e5a"/><line x1="1391.1" y1="358.3" x2="1391.1" y2="380.9" stroke="#50535e" stroke-width="1"/><rect x="1389.7" y="358.7" width="2.8" height="12.6" fill="#fff" stroke="#50535e" stroke-width="1"/><line x1="1395.5" y1="344.3" x2="1395.5" y2="358.3" stroke="#50535e" stroke-width="1"/><rect x="1394.1" y="344.7" width="2.8" height="13.2" fill="#fff" stroke="#50535e" stroke-width="1"/><line x1="1399.8" y1="335.5" x2="1399.8" y2="344.3" stroke="#50535e" stroke-width="1"/><rect x="1398.4" y="339.2" width="2.8" height="4.7" fill="#fff" stroke="#50535e" stroke-width="1"/><line x1="1404.2" y1="336.0" x2="1404.2" y2="353.4" stroke="#50535e" stroke-width="1"/><rect x="1402.4" y="338.8" width="3.6" height="12.2" fill="#4a4e5a"/><line x1="1408.6" y1="342.4" x2="1408.6" y2="351.0" stroke="#50535e" stroke-width="1"/><rect x="1407.2" y="342.8" width="2.8" height="7.8" fill="#fff" stroke="#50535e" stroke-width="1"/><line x1="1412.9" y1="335.1" x2="1412.9" y2="341.6" stroke="#50535e" stroke-width="1"/><rect x="1411.5" y="338.6" width="2.8" height="2.6" fill="#fff" stroke="#50535e" stroke-width="1"/><line x1="1417.3" y1="335.1" x2="1417.3" y2="352.2" stroke="#50535e" stroke-width="1"/><rect x="1415.5" y="338.2" width="3.6" height="5.5" fill="#4a4e5a"/><line x1="1421.7" y1="341.2" x2="1421.7" y2="344.3" stroke="#50535e" stroke-width="1"/><rect x="1419.9" y="343.5" width="3.6" height="1.0" fill="#4a4e5a"/><line x1="1426.1" y1="338.8" x2="1426.1" y2="348.5" stroke="#50535e" stroke-width="1"/><rect x="1424.3" y="343.5" width="3.6" height="1.0" fill="#4a4e5a"/><line x1="1430.4" y1="342.4" x2="1430.4" y2="368.7" stroke="#50535e" stroke-width="1"/><rect x="1428.6" y="342.4" width="3.6" height="26.3" fill="#4a4e5a"/><line x1="1434.8" y1="366.8" x2="1434.8" y2="372.3" stroke="#50535e" stroke-width="1"/><rect x="1433.4" y="367.2" width="2.8" height="1.7" fill="#fff" stroke="#50535e" stroke-width="1"/><line x1="1439.2" y1="353.8" x2="1439.2" y2="370.5" stroke="#50535e" stroke-width="1"/><rect x="1437.4" y="366.2" width="3.6" height="4.3" fill="#4a4e5a"/><line x1="1443.5" y1="360.1" x2="1443.5" y2="369.3" stroke="#50535e" stroke-width="1"/><rect x="1442.1" y="364.8" width="2.8" height="4.1" fill="#fff" stroke="#50535e" stroke-width="1"/><line x1="1447.9" y1="357.1" x2="1447.9" y2="363.8" stroke="#50535e" stroke-width="1"/><rect x="1446.5" y="357.5" width="2.8" height="5.9" fill="#fff" stroke="#50535e" stroke-width="1"/><line x1="1452.3" y1="340.0" x2="1452.3" y2="356.0" stroke="#50535e" stroke-width="1"/><rect x="1450.9" y="340.7" width="2.8" height="14.9" fill="#fff" stroke="#50535e" stroke-width="1"/><line x1="1456.6" y1="340.6" x2="1456.6" y2="350.4" stroke="#50535e" stroke-width="1"/><rect x="1454.8" y="340.6" width="3.6" height="3.1" fill="#4a4e5a"/><line x1="1461.0" y1="331.5" x2="1461.0" y2="343.0" stroke="#50535e" stroke-width="1"/><rect x="1459.6" y="331.9" width="2.8" height="10.7" fill="#fff" stroke="#50535e" stroke-width="1"/><line x1="1465.4" y1="326.6" x2="1465.4" y2="334.5" stroke="#50535e" stroke-width="1"/><rect x="1463.6" y="330.0" width="3.6" height="1.0" fill="#4a4e5a"/><line x1="1469.8" y1="321.7" x2="1469.8" y2="331.5" stroke="#50535e" stroke-width="1"/><rect x="1468.4" y="325.2" width="2.8" height="5.9" fill="#fff" stroke="#50535e" stroke-width="1"/><line x1="1474.1" y1="317.2" x2="1474.1" y2="326.0" stroke="#50535e" stroke-width="1"/><rect x="1472.3" y="324.6" width="3.6" height="1.0" fill="#4a4e5a"/><line x1="1478.5" y1="323.5" x2="1478.5" y2="358.9" stroke="#50535e" stroke-width="1"/><rect x="1476.7" y="323.5" width="3.6" height="15.3" fill="#4a4e5a"/><line x1="1482.9" y1="338.2" x2="1482.9" y2="363.8" stroke="#50535e" stroke-width="1"/><rect x="1481.1" y="338.2" width="3.6" height="14.6" fill="#4a4e5a"/><line x1="1487.2" y1="333.3" x2="1487.2" y2="352.6" stroke="#50535e" stroke-width="1"/><rect x="1485.8" y="333.7" width="2.8" height="18.5" fill="#fff" stroke="#50535e" stroke-width="1"/><line x1="1491.6" y1="331.5" x2="1491.6" y2="338.0" stroke="#50535e" stroke-width="1"/><rect x="1489.8" y="333.3" width="3.6" height="2.4" fill="#4a4e5a"/><line x1="1496.0" y1="322.3" x2="1496.0" y2="340.6" stroke="#50535e" stroke-width="1"/><rect x="1494.6" y="322.7" width="2.8" height="12.4" fill="#fff" stroke="#50535e" stroke-width="1"/><line x1="1500.3" y1="308.0" x2="1500.3" y2="322.3" stroke="#50535e" stroke-width="1"/><rect x="1498.9" y="311.7" width="2.8" height="10.2" fill="#fff" stroke="#50535e" stroke-width="1"/><line x1="1504.7" y1="303.2" x2="1504.7" y2="311.3" stroke="#50535e" stroke-width="1"/><rect x="1503.3" y="305.6" width="2.8" height="5.3" fill="#fff" stroke="#50535e" stroke-width="1"/><line x1="1509.1" y1="293.0" x2="1509.1" y2="305.2" stroke="#50535e" stroke-width="1"/><rect x="1507.7" y="296.5" width="2.8" height="8.3" fill="#fff" stroke="#50535e" stroke-width="1"/><line x1="1513.4" y1="285.1" x2="1513.4" y2="297.9" stroke="#50535e" stroke-width="1"/><rect x="1512.0" y="290.8" width="2.8" height="4.9" fill="#fff" stroke="#50535e" stroke-width="1"/><line x1="1517.8" y1="287.6" x2="1517.8" y2="298.5" stroke="#50535e" stroke-width="1"/><rect x="1516.4" y="288.0" width="2.8" height="1.6" fill="#fff" stroke="#50535e" stroke-width="1"/><line x1="1522.2" y1="277.2" x2="1522.2" y2="288.2" stroke="#50535e" stroke-width="1"/><rect x="1520.8" y="278.8" width="2.8" height="9.0" fill="#fff" stroke="#50535e" stroke-width="1"/><line x1="1526.6" y1="279.0" x2="1526.6" y2="298.5" stroke="#50535e" stroke-width="1"/><rect x="1524.8" y="279.0" width="3.6" height="15.9" fill="#4a4e5a"/><line x1="1530.9" y1="293.6" x2="1530.9" y2="302.6" stroke="#50535e" stroke-width="1"/><rect x="1529.1" y="296.1" width="3.6" height="6.5" fill="#4a4e5a"/><line x1="1535.3" y1="295.0" x2="1535.3" y2="307.7" stroke="#50535e" stroke-width="1"/><rect x="1533.5" y="302.2" width="3.6" height="5.5" fill="#4a4e5a"/><line x1="1539.7" y1="286.6" x2="1539.7" y2="306.5" stroke="#50535e" stroke-width="1"/><rect x="1538.3" y="291.0" width="2.8" height="15.1" fill="#fff" stroke="#50535e" stroke-width="1"/><line x1="1544.0" y1="286.3" x2="1544.0" y2="300.4" stroke="#50535e" stroke-width="1"/><rect x="1542.2" y="290.6" width="3.6" height="9.8" fill="#4a4e5a"/><line x1="1548.4" y1="296.1" x2="1548.4" y2="302.2" stroke="#50535e" stroke-width="1"/><rect x="1546.6" y="300.6" width="3.6" height="1.2" fill="#4a4e5a"/><line x1="1552.8" y1="299.8" x2="1552.8" y2="307.7" stroke="#50535e" stroke-width="1"/><rect x="1551.4" y="300.2" width="2.8" height="1.6" fill="#fff" stroke="#50535e" stroke-width="1"/><line x1="1557.1" y1="290.6" x2="1557.1" y2="299.1" stroke="#50535e" stroke-width="1"/><rect x="1555.7" y="291.0" width="2.8" height="7.7" fill="#fff" stroke="#50535e" stroke-width="1"/><line x1="1561.5" y1="283.9" x2="1561.5" y2="297.9" stroke="#50535e" stroke-width="1"/><rect x="1560.1" y="288.0" width="2.8" height="2.2" fill="#fff" stroke="#50535e" stroke-width="1"/><line x1="1565.9" y1="279.4" x2="1565.9" y2="293.0" stroke="#50535e" stroke-width="1"/><rect x="1564.1" y="285.2" width="3.6" height="1.5" fill="#4a4e5a"/><line x1="1570.3" y1="284.0" x2="1570.3" y2="296.5" stroke="#50535e" stroke-width="1"/><rect x="1568.5" y="286.2" width="3.6" height="8.5" fill="#4a4e5a"/><line x1="1574.6" y1="294.0" x2="1574.6" y2="304.6" stroke="#50535e" stroke-width="1"/><rect x="1572.8" y="294.0" width="3.6" height="10.6" fill="#4a4e5a"/><line x1="1579.0" y1="298.3" x2="1579.0" y2="305.6" stroke="#50535e" stroke-width="1"/><rect x="1577.6" y="298.7" width="2.8" height="3.5" fill="#fff" stroke="#50535e" stroke-width="1"/><line x1="1583.4" y1="293.4" x2="1583.4" y2="297.3" stroke="#50535e" stroke-width="1"/><rect x="1582.0" y="295.6" width="2.8" height="1.3" fill="#fff" stroke="#50535e" stroke-width="1"/><line x1="1587.7" y1="289.1" x2="1587.7" y2="298.3" stroke="#50535e" stroke-width="1"/><rect x="1585.9" y="294.0" width="3.6" height="4.3" fill="#4a4e5a"/><line x1="1592.1" y1="292.2" x2="1592.1" y2="297.3" stroke="#50535e" stroke-width="1"/><rect x="1590.7" y="292.6" width="2.8" height="4.3" fill="#fff" stroke="#50535e" stroke-width="1"/><line x1="1596.5" y1="276.1" x2="1596.5" y2="290.4" stroke="#50535e" stroke-width="1"/><rect x="1595.1" y="276.5" width="2.8" height="13.5" fill="#fff" stroke="#50535e" stroke-width="1"/><line x1="1600.8" y1="275.1" x2="1600.8" y2="281.8" stroke="#50535e" stroke-width="1"/><rect x="1599.0" y="275.1" width="3.6" height="5.5" fill="#4a4e5a"/><line x1="1605.2" y1="274.5" x2="1605.2" y2="280.2" stroke="#50535e" stroke-width="1"/><rect x="1603.8" y="275.8" width="2.8" height="4.0" fill="#fff" stroke="#50535e" stroke-width="1"/><line x1="1609.6" y1="269.0" x2="1609.6" y2="276.3" stroke="#50535e" stroke-width="1"/><rect x="1607.8" y="275.1" width="3.6" height="1.2" fill="#4a4e5a"/><line x1="1613.9" y1="259.0" x2="1613.9" y2="277.3" stroke="#50535e" stroke-width="1"/><rect x="1612.5" y="259.4" width="2.8" height="17.5" fill="#fff" stroke="#50535e" stroke-width="1"/><line x1="1618.3" y1="259.6" x2="1618.3" y2="269.0" stroke="#50535e" stroke-width="1"/><rect x="1616.5" y="259.6" width="3.6" height="6.7" fill="#4a4e5a"/><line x1="1622.7" y1="263.0" x2="1622.7" y2="268.8" stroke="#50535e" stroke-width="1"/><rect x="1620.9" y="266.3" width="3.6" height="2.5" fill="#4a4e5a"/><line x1="1627.1" y1="266.6" x2="1627.1" y2="277.6" stroke="#50535e" stroke-width="1"/><rect x="1625.3" y="268.8" width="3.6" height="2.9" fill="#4a4e5a"/><line x1="1631.4" y1="262.3" x2="1631.4" y2="271.5" stroke="#50535e" stroke-width="1"/><rect x="1630.0" y="262.7" width="2.8" height="8.4" fill="#fff" stroke="#50535e" stroke-width="1"/><line x1="1635.8" y1="255.6" x2="1635.8" y2="264.8" stroke="#50535e" stroke-width="1"/><rect x="1634.4" y="256.0" width="2.8" height="5.3" fill="#fff" stroke="#50535e" stroke-width="1"/><line x1="1640.2" y1="244.4" x2="1640.2" y2="256.2" stroke="#50535e" stroke-width="1"/><rect x="1638.8" y="244.8" width="2.8" height="11.0" fill="#fff" stroke="#50535e" stroke-width="1"/><line x1="1644.5" y1="239.5" x2="1644.5" y2="244.4" stroke="#50535e" stroke-width="1"/><rect x="1643.1" y="242.6" width="2.8" height="1.4" fill="#fff" stroke="#50535e" stroke-width="1"/><line x1="1648.9" y1="239.1" x2="1648.9" y2="255.0" stroke="#50535e" stroke-width="1"/><rect x="1647.1" y="242.2" width="3.6" height="12.8" fill="#4a4e5a"/><line x1="1653.3" y1="243.4" x2="1653.3" y2="254.6" stroke="#50535e" stroke-width="1"/><rect x="1651.5" y="254.2" width="3.6" height="1.0" fill="#4a4e5a"/><line x1="1657.6" y1="252.6" x2="1657.6" y2="254.6" stroke="#50535e" stroke-width="1"/><rect x="1656.2" y="253.0" width="2.8" height="1.2" fill="#fff" stroke="#50535e" stroke-width="1"/><line x1="1662.0" y1="250.1" x2="1662.0" y2="257.4" stroke="#50535e" stroke-width="1"/><rect x="1660.2" y="252.5" width="3.6" height="1.9" fill="#4a4e5a"/><line x1="1666.4" y1="253.2" x2="1666.4" y2="268.5" stroke="#50535e" stroke-width="1"/><rect x="1664.6" y="254.4" width="3.6" height="14.1" fill="#4a4e5a"/><line x1="1670.7" y1="268.4" x2="1670.7" y2="275.7" stroke="#50535e" stroke-width="1"/><rect x="1668.9" y="268.4" width="3.6" height="7.3" fill="#4a4e5a"/><line x1="1675.1" y1="272.3" x2="1675.1" y2="278.6" stroke="#50535e" stroke-width="1"/><rect x="1673.7" y="272.7" width="2.8" height="2.2" fill="#fff" stroke="#50535e" stroke-width="1"/><line x1="1679.5" y1="263.4" x2="1679.5" y2="271.4" stroke="#50535e" stroke-width="1"/><rect x="1678.1" y="268.0" width="2.8" height="3.0" fill="#fff" stroke="#50535e" stroke-width="1"/><line x1="1683.9" y1="262.3" x2="1683.9" y2="273.8" stroke="#50535e" stroke-width="1"/><rect x="1682.5" y="262.7" width="2.8" height="4.7" fill="#fff" stroke="#50535e" stroke-width="1"/><line x1="1688.2" y1="252.1" x2="1688.2" y2="263.0" stroke="#50535e" stroke-width="1"/><rect x="1686.8" y="257.7" width="2.8" height="4.9" fill="#fff" stroke="#50535e" stroke-width="1"/><line x1="1692.6" y1="246.2" x2="1692.6" y2="267.6" stroke="#50535e" stroke-width="1"/><rect x="1690.8" y="257.5" width="3.6" height="10.1" fill="#4a4e5a"/><line x1="1697.0" y1="256.2" x2="1697.0" y2="267.3" stroke="#50535e" stroke-width="1"/><rect x="1695.6" y="256.6" width="2.8" height="10.3" fill="#fff" stroke="#50535e" stroke-width="1"/><line x1="1701.3" y1="254.5" x2="1701.3" y2="272.0" stroke="#50535e" stroke-width="1"/><rect x="1699.5" y="256.2" width="3.6" height="15.8" fill="#4a4e5a"/><line x1="1705.7" y1="265.3" x2="1705.7" y2="274.4" stroke="#50535e" stroke-width="1"/><rect x="1704.3" y="265.7" width="2.8" height="6.1" fill="#fff" stroke="#50535e" stroke-width="1"/><line x1="1710.1" y1="254.0" x2="1710.1" y2="265.2" stroke="#50535e" stroke-width="1"/><rect x="1708.7" y="262.9" width="2.8" height="1.9" fill="#fff" stroke="#50535e" stroke-width="1"/><line x1="1714.4" y1="250.0" x2="1714.4" y2="268.3" stroke="#50535e" stroke-width="1"/><rect x="1712.6" y="260.9" width="3.6" height="7.4" fill="#4a4e5a"/><line x1="1718.8" y1="252.0" x2="1718.8" y2="268.0" stroke="#50535e" stroke-width="1"/><rect x="1717.4" y="258.0" width="2.8" height="9.6" fill="#fff" stroke="#50535e" stroke-width="1"/><line x1="1723.2" y1="257.8" x2="1723.2" y2="276.5" stroke="#50535e" stroke-width="1"/><rect x="1721.4" y="257.8" width="3.6" height="18.7" fill="#4a4e5a"/><line x1="1727.6" y1="272.7" x2="1727.6" y2="281.0" stroke="#50535e" stroke-width="1"/><rect x="1725.8" y="274.8" width="3.6" height="3.3" fill="#4a4e5a"/><line x1="1731.9" y1="264.4" x2="1731.9" y2="285.0" stroke="#50535e" stroke-width="1"/><rect x="1730.5" y="264.8" width="2.8" height="13.0" fill="#fff" stroke="#50535e" stroke-width="1"/><line x1="1734.5" y1="266.4" x2="1756" y2="266.4" stroke="#6f5b64" stroke-width="1.3" stroke-dasharray="7,1.2,4,1.2,3,0.8,4"/></g><line x1="0" y1="514.5" x2="1827" y2="514.5" stroke="#e0e3eb" stroke-width="1"/><line x1="0" y1="611.5" x2="1827" y2="611.5" stroke="#e0e3eb" stroke-width="1"/><line x1="0" y1="707.5" x2="1827" y2="707.5" stroke="#e0e3eb" stroke-width="1"/><g clip-path="url(#c2)"><rect x="-0.2" y="548.6" width="3.6" height="4.9" fill="#a3dbd3"/><rect x="4.2" y="550.6" width="3.6" height="2.9" fill="#e0f4f1"/><rect x="8.5" y="552.3" width="3.6" height="1.2" fill="#e0f4f1"/><rect x="12.9" y="553.5" width="3.6" height="1.1" fill="#ffb3ba"/><rect x="17.3" y="553.5" width="3.6" height="5.1" fill="#ffb3ba"/><rect x="21.6" y="553.5" width="3.6" height="6.9" fill="#ffb3ba"/><rect x="26.0" y="553.5" width="3.6" height="7.5" fill="#ffb3ba"/><rect x="30.4" y="553.5" width="3.6" height="8.6" fill="#ffb3ba"/><rect x="34.8" y="553.5" width="3.6" height="8.6" fill="#ffe0e3"/><rect x="39.1" y="553.5" width="3.6" height="8.3" fill="#ffe0e3"/><rect x="43.5" y="553.5" width="3.6" height="9.1" fill="#ffb3ba"/><rect x="47.9" y="553.5" width="3.6" height="8.9" fill="#ffe0e3"/><rect x="52.2" y="553.5" width="3.6" height="7.9" fill="#ffe0e3"/><rect x="56.6" y="553.5" width="3.6" height="8.0" fill="#ffb3ba"/><rect x="61.0" y="553.5" width="3.6" height="5.7" fill="#ffe0e3"/><rect x="65.3" y="553.5" width="3.6" height="2.4" fill="#ffe0e3"/><rect x="69.7" y="551.7" width="3.6" height="1.8" fill="#a3dbd3"/><rect x="74.1" y="550.1" width="3.6" height="3.4" fill="#a3dbd3"/><rect x="78.5" y="547.8" width="3.6" height="5.7" fill="#a3dbd3"/><rect x="82.8" y="547.7" width="3.6" height="5.8" fill="#a3dbd3"/><rect x="87.2" y="546.2" width="3.6" height="7.3" fill="#a3dbd3"/><rect x="91.6" y="544.7" width="3.6" height="8.8" fill="#a3dbd3"/><rect x="95.9" y="545.3" width="3.6" height="8.2" fill="#e0f4f1"/><rect x="100.3" y="547.0" width="3.6" height="6.5" fill="#e0f4f1"/><rect x="104.7" y="549.0" width="3.6" height="4.5" fill="#e0f4f1"/><rect x="109.0" y="551.7" width="3.6" height="1.8" fill="#e0f4f1"/><rect x="113.4" y="552.0" width="3.6" height="1.5" fill="#e0f4f1"/><rect x="117.8" y="552.0" width="3.6" height="1.5" fill="#e0f4f1"/><rect x="122.1" y="551.4" width="3.6" height="2.1" fill="#a3dbd3"/><rect x="126.5" y="551.2" width="3.6" height="2.3" fill="#a3dbd3"/><rect x="130.9" y="550.9" width="3.6" height="2.6" fill="#a3dbd3"/><rect x="135.3" y="550.4" width="3.6" height="3.1" fill="#a3dbd3"/><rect x="139.6" y="551.6" width="3.6" height="1.9" fill="#e0f4f1"/><rect x="144.0" y="553.0" width="3.6" height="0.5" fill="#e0f4f1"/><rect x="148.4" y="553.4" width="3.6" height="0.5" fill="#e0f4f1"/><rect x="152.7" y="553.5" width="3.6" height="0.8" fill="#ffb3ba"/><rect x="157.1" y="553.5" width="3.6" height="1.4" fill="#ffb3ba"/><rect x="161.5" y="553.5" width="3.6" height="0.9" fill="#ffe0e3"/><rect x="165.8" y="553.5" width="3.6" height="0.5" fill="#ffe0e3"/><rect x="170.2" y="553.5" width="3.6" height="1.1" fill="#ffb3ba"/><rect x="174.6" y="553.4" width="3.6" height="0.5" fill="#a3dbd3"/><rect x="178.9" y="553.5" width="3.6" height="0.5" fill="#ffb3ba"/><rect x="183.3" y="553.5" width="3.6" height="0.5" fill="#ffb3ba"/><rect x="187.7" y="553.4" width="3.6" height="0.5" fill="#a3dbd3"/><rect x="192.1" y="552.3" width="3.6" height="1.2" fill="#a3dbd3"/><rect x="196.4" y="551.6" width="3.6" height="1.9" fill="#a3dbd3"/><rect x="200.8" y="552.9" width="3.6" height="0.6" fill="#e0f4f1"/><rect x="205.2" y="553.5" width="3.6" height="1.5" fill="#ffb3ba"/><rect x="209.5" y="553.5" width="3.6" height="2.1" fill="#ffb3ba"/><rect x="213.9" y="553.5" width="3.6" height="2.0" fill="#ffe0e3"/><rect x="218.3" y="553.5" width="3.6" height="2.9" fill="#ffb3ba"/><rect x="222.6" y="553.5" width="3.6" height="4.1" fill="#ffb3ba"/><rect x="227.0" y="553.5" width="3.6" height="4.0" fill="#ffe0e3"/><rect x="231.4" y="553.5" width="3.6" height="2.4" fill="#ffe0e3"/><rect x="235.8" y="553.5" width="3.6" height="0.8" fill="#ffe0e3"/><rect x="240.1" y="553.5" width="3.6" height="0.5" fill="#ffe0e3"/><rect x="244.5" y="552.8" width="3.6" height="0.7" fill="#a3dbd3"/><rect x="248.9" y="553.4" width="3.6" height="0.5" fill="#e0f4f1"/><rect x="253.2" y="553.5" width="3.6" height="1.0" fill="#ffb3ba"/><rect x="257.6" y="553.5" width="3.6" height="2.2" fill="#ffb3ba"/><rect x="262.0" y="553.5" width="3.6" height="4.2" fill="#ffb3ba"/><rect x="266.3" y="553.5" width="3.6" height="5.0" fill="#ffb3ba"/><rect x="270.7" y="553.5" width="3.6" height="3.7" fill="#ffe0e3"/><rect x="275.1" y="553.5" width="3.6" height="4.7" fill="#ffb3ba"/><rect x="279.4" y="553.5" width="3.6" height="7.0" fill="#ffb3ba"/><rect x="283.8" y="553.5" width="3.6" height="8.4" fill="#ffb3ba"/><rect x="288.2" y="553.5" width="3.6" height="10.2" fill="#ffb3ba"/><rect x="292.6" y="553.5" width="3.6" height="11.2" fill="#ffb3ba"/><rect x="296.9" y="553.5" width="3.6" height="12.3" fill="#ffb3ba"/><rect x="301.3" y="553.5" width="3.6" height="11.4" fill="#ffe0e3"/><rect x="305.7" y="553.5" width="3.6" height="8.7" fill="#ffe0e3"/><rect x="310.0" y="553.5" width="3.6" height="6.0" fill="#ffe0e3"/><rect x="314.4" y="553.5" width="3.6" height="5.3" fill="#ffe0e3"/><rect x="318.8" y="553.5" width="3.6" height="1.3" fill="#ffe0e3"/><rect x="323.1" y="552.5" width="3.6" height="1.0" fill="#a3dbd3"/><rect x="327.5" y="552.5" width="3.6" height="1.0" fill="#a3dbd3"/><rect x="331.9" y="553.0" width="3.6" height="0.5" fill="#e0f4f1"/><rect x="336.3" y="550.9" width="3.6" height="2.6" fill="#a3dbd3"/><rect x="340.6" y="550.9" width="3.6" height="2.6" fill="#e0f4f1"/><rect x="345.0" y="552.2" width="3.6" height="1.3" fill="#e0f4f1"/><rect x="349.4" y="553.5" width="3.6" height="0.5" fill="#e0f4f1"/><rect x="353.7" y="553.5" width="3.6" height="1.1" fill="#ffb3ba"/><rect x="358.1" y="553.5" width="3.6" height="1.1" fill="#ffe0e3"/><rect x="362.5" y="553.5" width="3.6" height="2.9" fill="#ffb3ba"/><rect x="366.8" y="553.5" width="3.6" height="2.7" fill="#ffe0e3"/><rect x="371.2" y="553.5" width="3.6" height="0.6" fill="#ffe0e3"/><rect x="375.6" y="551.4" width="3.6" height="2.1" fill="#a3dbd3"/><rect x="379.9" y="548.6" width="3.6" height="4.9" fill="#a3dbd3"/><rect x="384.3" y="546.2" width="3.6" height="7.3" fill="#a3dbd3"/><rect x="388.7" y="545.0" width="3.6" height="8.5" fill="#a3dbd3"/><rect x="393.1" y="544.5" width="3.6" height="9.0" fill="#a3dbd3"/><rect x="397.4" y="544.1" width="3.6" height="9.4" fill="#a3dbd3"/><rect x="401.8" y="544.9" width="3.6" height="8.6" fill="#e0f4f1"/><rect x="406.2" y="543.2" width="3.6" height="10.3" fill="#a3dbd3"/><rect x="410.5" y="542.6" width="3.6" height="10.9" fill="#a3dbd3"/><rect x="414.9" y="540.8" width="3.6" height="12.7" fill="#a3dbd3"/><rect x="419.3" y="539.4" width="3.6" height="14.1" fill="#a3dbd3"/><rect x="423.6" y="539.8" width="3.6" height="13.7" fill="#e0f4f1"/><rect x="428.0" y="539.4" width="3.6" height="14.1" fill="#a3dbd3"/><rect x="432.4" y="541.0" width="3.6" height="12.5" fill="#e0f4f1"/><rect x="436.8" y="542.2" width="3.6" height="11.3" fill="#e0f4f1"/><rect x="441.1" y="543.6" width="3.6" height="9.9" fill="#e0f4f1"/><rect x="445.5" y="544.9" width="3.6" height="8.6" fill="#e0f4f1"/><rect x="449.9" y="546.1" width="3.6" height="7.4" fill="#e0f4f1"/><rect x="454.2" y="549.5" width="3.6" height="4.0" fill="#e0f4f1"/><rect x="458.6" y="551.3" width="3.6" height="2.2" fill="#e0f4f1"/><rect x="463.0" y="553.2" width="3.6" height="0.5" fill="#e0f4f1"/><rect x="467.3" y="553.5" width="3.6" height="2.1" fill="#ffb3ba"/><rect x="471.7" y="553.5" width="3.6" height="3.8" fill="#ffb3ba"/><rect x="476.1" y="553.5" width="3.6" height="6.4" fill="#ffb3ba"/><rect x="480.4" y="553.5" width="3.6" height="6.0" fill="#ffe0e3"/><rect x="484.8" y="553.5" width="3.6" height="6.1" fill="#ffb3ba"/><rect x="489.2" y="553.5" width="3.6" height="5.2" fill="#ffe0e3"/><rect x="493.6" y="553.5" width="3.6" height="6.1" fill="#ffb3ba"/><rect x="497.9" y="553.5" width="3.6" height="5.6" fill="#ffe0e3"/><rect x="502.3" y="553.5" width="3.6" height="4.8" fill="#ffe0e3"/><rect x="506.7" y="553.5" width="3.6" height="4.5" fill="#ffe0e3"/><rect x="511.0" y="553.5" width="3.6" height="5.1" fill="#ffb3ba"/><rect x="515.4" y="553.5" width="3.6" height="8.1" fill="#ffb3ba"/><rect x="519.8" y="553.5" width="3.6" height="12.1" fill="#ffb3ba"/><rect x="524.1" y="553.5" width="3.6" height="15.1" fill="#ffb3ba"/><rect x="528.5" y="553.5" width="3.6" height="13.7" fill="#ffe0e3"/><rect x="532.9" y="553.5" width="3.6" height="12.8" fill="#ffe0e3"/><rect x="537.2" y="553.5" width="3.6" height="10.5" fill="#ffe0e3"/><rect x="541.6" y="553.5" width="3.6" height="8.4" fill="#ffe0e3"/><rect x="546.0" y="553.5" width="3.6" height="6.5" fill="#ffe0e3"/><rect x="550.4" y="553.5" width="3.6" height="6.3" fill="#ffe0e3"/><rect x="554.7" y="553.5" width="3.6" height="7.2" fill="#ffb3ba"/><rect x="559.1" y="553.5" width="3.6" height="6.7" fill="#ffe0e3"/><rect x="563.5" y="553.5" width="3.6" height="3.5" fill="#ffe0e3"/><rect x="567.8" y="553.5" width="3.6" height="0.5" fill="#ffe0e3"/><rect x="572.2" y="552.9" width="3.6" height="0.6" fill="#a3dbd3"/><rect x="576.6" y="551.8" width="3.6" height="1.7" fill="#a3dbd3"/><rect x="580.9" y="549.9" width="3.6" height="3.6" fill="#a3dbd3"/><rect x="585.3" y="550.3" width="3.6" height="3.2" fill="#e0f4f1"/><rect x="589.7" y="548.6" width="3.6" height="4.9" fill="#a3dbd3"/><rect x="594.1" y="547.7" width="3.6" height="5.8" fill="#a3dbd3"/><rect x="598.4" y="546.1" width="3.6" height="7.4" fill="#a3dbd3"/><rect x="602.8" y="545.1" width="3.6" height="8.4" fill="#a3dbd3"/><rect x="607.2" y="544.2" width="3.6" height="9.3" fill="#a3dbd3"/><rect x="611.5" y="544.2" width="3.6" height="9.3" fill="#a3dbd3"/><rect x="615.9" y="544.6" width="3.6" height="8.9" fill="#e0f4f1"/><rect x="620.3" y="542.7" width="3.6" height="10.8" fill="#a3dbd3"/><rect x="624.6" y="541.5" width="3.6" height="12.0" fill="#a3dbd3"/><rect x="629.0" y="541.6" width="3.6" height="11.9" fill="#e0f4f1"/><rect x="633.4" y="541.9" width="3.6" height="11.6" fill="#e0f4f1"/><rect x="637.7" y="542.6" width="3.6" height="10.9" fill="#e0f4f1"/><rect x="642.1" y="543.1" width="3.6" height="10.4" fill="#e0f4f1"/><rect x="646.5" y="543.2" width="3.6" height="10.3" fill="#e0f4f1"/><rect x="650.9" y="544.3" width="3.6" height="9.2" fill="#e0f4f1"/><rect x="655.2" y="546.6" width="3.6" height="6.9" fill="#e0f4f1"/><rect x="659.6" y="547.6" width="3.6" height="5.9" fill="#e0f4f1"/><rect x="664.0" y="548.7" width="3.6" height="4.8" fill="#e0f4f1"/><rect x="668.3" y="550.4" width="3.6" height="3.1" fill="#e0f4f1"/><rect x="672.7" y="552.9" width="3.6" height="0.6" fill="#e0f4f1"/><rect x="677.1" y="553.5" width="3.6" height="1.4" fill="#ffb3ba"/><rect x="681.4" y="553.5" width="3.6" height="3.3" fill="#ffb3ba"/><rect x="685.8" y="553.5" width="3.6" height="5.4" fill="#ffb3ba"/><rect x="690.2" y="553.5" width="3.6" height="6.7" fill="#ffb3ba"/><rect x="694.6" y="553.5" width="3.6" height="8.9" fill="#ffb3ba"/><rect x="698.9" y="553.5" width="3.6" height="9.8" fill="#ffb3ba"/><rect x="703.3" y="553.5" width="3.6" height="9.5" fill="#ffe0e3"/><rect x="707.7" y="553.5" width="3.6" height="8.8" fill="#ffe0e3"/><rect x="712.0" y="553.5" width="3.6" height="6.7" fill="#ffe0e3"/><rect x="716.4" y="553.5" width="3.6" height="5.3" fill="#ffe0e3"/><rect x="720.8" y="553.5" width="3.6" height="4.9" fill="#ffe0e3"/><rect x="725.1" y="553.5" width="3.6" height="4.6" fill="#ffe0e3"/><rect x="729.5" y="553.5" width="3.6" height="5.4" fill="#ffb3ba"/><rect x="733.9" y="553.5" width="3.6" height="5.5" fill="#ffb3ba"/><rect x="738.2" y="553.5" width="3.6" height="4.7" fill="#ffe0e3"/><rect x="742.6" y="553.5" width="3.6" height="3.9" fill="#ffe0e3"/><rect x="747.0" y="553.5" width="3.6" height="3.1" fill="#ffe0e3"/><rect x="751.4" y="553.5" width="3.6" height="2.6" fill="#ffe0e3"/><rect x="755.7" y="553.3" width="3.6" height="0.5" fill="#a3dbd3"/><rect x="760.1" y="552.2" width="3.6" height="1.3" fill="#a3dbd3"/><rect x="764.5" y="552.4" width="3.6" height="1.1" fill="#e0f4f1"/><rect x="768.8" y="552.6" width="3.6" height="0.9" fill="#e0f4f1"/><rect x="773.2" y="553.5" width="3.6" height="1.5" fill="#ffb3ba"/><rect x="777.6" y="553.5" width="3.6" height="3.7" fill="#ffb3ba"/><rect x="781.9" y="553.5" width="3.6" height="4.4" fill="#ffb3ba"/><rect x="786.3" y="553.5" width="3.6" height="5.4" fill="#ffb3ba"/><rect x="790.7" y="553.5" width="3.6" height="5.6" fill="#ffb3ba"/><rect x="795.0" y="553.5" width="3.6" height="2.7" fill="#ffe0e3"/><rect x="799.4" y="553.5" width="3.6" height="1.2" fill="#ffe0e3"/><rect x="803.8" y="553.5" width="3.6" height="1.2" fill="#ffb3ba"/><rect x="808.2" y="553.5" width="3.6" height="0.7" fill="#ffe0e3"/><rect x="812.5" y="553.5" width="3.6" height="0.5" fill="#ffe0e3"/><rect x="816.9" y="553.5" width="3.6" height="13.3" fill="#ffb3ba"/><rect x="821.3" y="553.5" width="3.6" height="20.0" fill="#ffb3ba"/><rect x="825.6" y="553.5" width="3.6" height="26.5" fill="#ffb3ba"/><rect x="830.0" y="553.5" width="3.6" height="20.7" fill="#ffe0e3"/><rect x="834.4" y="553.5" width="3.6" height="10.7" fill="#ffe0e3"/><rect x="838.7" y="553.5" width="3.6" height="2.6" fill="#ffe0e3"/><rect x="843.1" y="550.7" width="3.6" height="2.8" fill="#a3dbd3"/><rect x="847.5" y="547.9" width="3.6" height="5.6" fill="#a3dbd3"/><rect x="851.9" y="545.7" width="3.6" height="7.8" fill="#a3dbd3"/><rect x="856.2" y="543.0" width="3.6" height="10.5" fill="#a3dbd3"/><rect x="860.6" y="542.2" width="3.6" height="11.3" fill="#a3dbd3"/><rect x="865.0" y="539.2" width="3.6" height="14.3" fill="#a3dbd3"/><rect x="869.3" y="541.2" width="3.6" height="12.3" fill="#e0f4f1"/><rect x="873.7" y="543.7" width="3.6" height="9.8" fill="#e0f4f1"/><rect x="878.1" y="544.4" width="3.6" height="9.1" fill="#e0f4f1"/><rect x="882.4" y="542.8" width="3.6" height="10.7" fill="#a3dbd3"/><rect x="886.8" y="544.0" width="3.6" height="9.5" fill="#e0f4f1"/><rect x="891.2" y="545.3" width="3.6" height="8.2" fill="#e0f4f1"/><rect x="895.5" y="548.2" width="3.6" height="5.3" fill="#e0f4f1"/><rect x="899.9" y="550.9" width="3.6" height="2.6" fill="#e0f4f1"/><rect x="904.3" y="551.1" width="3.6" height="2.4" fill="#e0f4f1"/><rect x="908.7" y="553.4" width="3.6" height="0.5" fill="#e0f4f1"/><rect x="913.0" y="551.1" width="3.6" height="2.4" fill="#a3dbd3"/><rect x="917.4" y="549.5" width="3.6" height="4.0" fill="#a3dbd3"/><rect x="921.8" y="547.3" width="3.6" height="6.2" fill="#a3dbd3"/><rect x="926.1" y="545.8" width="3.6" height="7.7" fill="#a3dbd3"/><rect x="930.5" y="546.0" width="3.6" height="7.5" fill="#e0f4f1"/><rect x="934.9" y="545.0" width="3.6" height="8.5" fill="#a3dbd3"/><rect x="939.2" y="544.9" width="3.6" height="8.6" fill="#a3dbd3"/><rect x="943.6" y="548.4" width="3.6" height="5.1" fill="#e0f4f1"/><rect x="948.0" y="550.7" width="3.6" height="2.8" fill="#e0f4f1"/><rect x="952.4" y="553.4" width="3.6" height="0.5" fill="#e0f4f1"/><rect x="956.7" y="553.5" width="3.6" height="2.4" fill="#ffb3ba"/><rect x="961.1" y="553.5" width="3.6" height="3.6" fill="#ffb3ba"/><rect x="965.5" y="553.5" width="3.6" height="5.2" fill="#ffb3ba"/><rect x="969.8" y="553.5" width="3.6" height="6.2" fill="#ffb3ba"/><rect x="974.2" y="553.5" width="3.6" height="7.3" fill="#ffb3ba"/><rect x="978.6" y="553.5" width="3.6" height="7.4" fill="#ffb3ba"/><rect x="982.9" y="553.5" width="3.6" height="6.1" fill="#ffe0e3"/><rect x="987.3" y="553.5" width="3.6" height="2.6" fill="#ffe0e3"/><rect x="991.7" y="553.5" width="3.6" height="0.6" fill="#ffe0e3"/><rect x="996.0" y="552.4" width="3.6" height="1.1" fill="#a3dbd3"/><rect x="1000.4" y="553.5" width="3.6" height="0.5" fill="#ffb3ba"/><rect x="1004.8" y="553.5" width="3.6" height="2.1" fill="#ffb3ba"/><rect x="1009.2" y="553.5" width="3.6" height="4.6" fill="#ffb3ba"/><rect x="1013.5" y="553.5" width="3.6" height="6.3" fill="#ffb3ba"/><rect x="1017.9" y="553.5" width="3.6" height="7.7" fill="#ffb3ba"/><rect x="1022.3" y="553.5" width="3.6" height="6.4" fill="#ffe0e3"/><rect x="1026.6" y="553.5" width="3.6" height="6.9" fill="#ffb3ba"/><rect x="1031.0" y="553.5" width="3.6" height="6.6" fill="#ffe0e3"/><rect x="1035.4" y="553.5" width="3.6" height="7.6" fill="#ffb3ba"/><rect x="1039.7" y="553.5" width="3.6" height="7.2" fill="#ffe0e3"/><rect x="1044.1" y="553.5" width="3.6" height="6.5" fill="#ffe0e3"/><rect x="1048.5" y="553.5" width="3.6" height="6.5" fill="#ffe0e3"/><rect x="1052.8" y="553.5" width="3.6" height="7.3" fill="#ffb3ba"/><rect x="1057.2" y="553.5" width="3.6" height="7.8" fill="#ffb3ba"/><rect x="1061.6" y="553.5" width="3.6" height="7.7" fill="#ffe0e3"/><rect x="1066.0" y="553.5" width="3.6" height="4.2" fill="#ffe0e3"/><rect x="1070.3" y="553.5" width="3.6" height="4.0" fill="#ffe0e3"/><rect x="1074.7" y="553.5" width="3.6" height="0.5" fill="#ffe0e3"/><rect x="1079.1" y="553.5" width="3.6" height="0.6" fill="#ffb3ba"/><rect x="1083.4" y="553.0" width="3.6" height="0.5" fill="#a3dbd3"/><rect x="1087.8" y="552.3" width="3.6" height="1.2" fill="#a3dbd3"/><rect x="1092.2" y="549.4" width="3.6" height="4.1" fill="#a3dbd3"/><rect x="1096.5" y="546.9" width="3.6" height="6.6" fill="#a3dbd3"/><rect x="1100.9" y="545.3" width="3.6" height="8.2" fill="#a3dbd3"/><rect x="1105.3" y="545.7" width="3.6" height="7.8" fill="#e0f4f1"/><rect x="1109.7" y="548.7" width="3.6" height="4.8" fill="#e0f4f1"/><rect x="1114.0" y="551.1" width="3.6" height="2.4" fill="#e0f4f1"/><rect x="1118.4" y="553.5" width="3.6" height="1.2" fill="#ffb3ba"/><rect x="1122.8" y="553.5" width="3.6" height="3.1" fill="#ffb3ba"/><rect x="1127.1" y="553.5" width="3.6" height="6.3" fill="#ffb3ba"/><rect x="1131.5" y="553.5" width="3.6" height="8.5" fill="#ffb3ba"/><rect x="1135.9" y="553.5" width="3.6" height="8.8" fill="#ffb3ba"/><rect x="1140.2" y="553.5" width="3.6" height="8.6" fill="#ffe0e3"/><rect x="1144.6" y="553.5" width="3.6" height="5.6" fill="#ffe0e3"/><rect x="1149.0" y="553.5" width="3.6" height="2.8" fill="#ffe0e3"/><rect x="1153.3" y="552.0" width="3.6" height="1.5" fill="#a3dbd3"/><rect x="1157.7" y="548.1" width="3.6" height="5.4" fill="#a3dbd3"/><rect x="1162.1" y="546.1" width="3.6" height="7.4" fill="#a3dbd3"/><rect x="1166.5" y="547.0" width="3.6" height="6.5" fill="#e0f4f1"/><rect x="1170.8" y="549.0" width="3.6" height="4.5" fill="#e0f4f1"/><rect x="1175.2" y="550.5" width="3.6" height="3.0" fill="#e0f4f1"/><rect x="1179.6" y="551.6" width="3.6" height="1.9" fill="#e0f4f1"/><rect x="1183.9" y="553.5" width="3.6" height="0.5" fill="#ffb3ba"/><rect x="1188.3" y="553.5" width="3.6" height="0.9" fill="#ffb3ba"/><rect x="1192.7" y="553.5" width="3.6" height="0.5" fill="#ffe0e3"/><rect x="1197.0" y="550.6" width="3.6" height="2.9" fill="#a3dbd3"/><rect x="1201.4" y="548.0" width="3.6" height="5.5" fill="#a3dbd3"/><rect x="1205.8" y="544.6" width="3.6" height="8.9" fill="#a3dbd3"/><rect x="1210.2" y="540.5" width="3.6" height="13.0" fill="#a3dbd3"/><rect x="1214.5" y="537.8" width="3.6" height="15.7" fill="#a3dbd3"/><rect x="1218.9" y="536.9" width="3.6" height="16.6" fill="#a3dbd3"/><rect x="1223.3" y="539.4" width="3.6" height="14.1" fill="#e0f4f1"/><rect x="1227.6" y="541.6" width="3.6" height="11.9" fill="#e0f4f1"/><rect x="1232.0" y="541.8" width="3.6" height="11.7" fill="#e0f4f1"/><rect x="1236.4" y="542.8" width="3.6" height="10.7" fill="#e0f4f1"/><rect x="1240.7" y="544.9" width="3.6" height="8.6" fill="#e0f4f1"/><rect x="1245.1" y="546.8" width="3.6" height="6.7" fill="#e0f4f1"/><rect x="1249.5" y="549.1" width="3.6" height="4.4" fill="#e0f4f1"/><rect x="1253.8" y="549.4" width="3.6" height="4.1" fill="#e0f4f1"/><rect x="1258.2" y="549.9" width="3.6" height="3.6" fill="#e0f4f1"/><rect x="1262.6" y="551.7" width="3.6" height="1.8" fill="#e0f4f1"/><rect x="1267.0" y="552.9" width="3.6" height="0.6" fill="#e0f4f1"/><rect x="1271.3" y="553.5" width="3.6" height="2.4" fill="#ffb3ba"/><rect x="1275.7" y="553.5" width="3.6" height="4.9" fill="#ffb3ba"/><rect x="1280.1" y="553.5" width="3.6" height="6.9" fill="#ffb3ba"/><rect x="1284.4" y="553.5" width="3.6" height="9.0" fill="#ffb3ba"/><rect x="1288.8" y="553.5" width="3.6" height="9.5" fill="#ffb3ba"/><rect x="1293.2" y="553.5" width="3.6" height="7.4" fill="#ffe0e3"/><rect x="1297.5" y="553.5" width="3.6" height="2.0" fill="#ffe0e3"/><rect x="1301.9" y="548.4" width="3.6" height="5.1" fill="#a3dbd3"/><rect x="1306.3" y="545.4" width="3.6" height="8.1" fill="#a3dbd3"/><rect x="1310.7" y="543.2" width="3.6" height="10.3" fill="#a3dbd3"/><rect x="1315.0" y="541.6" width="3.6" height="11.9" fill="#a3dbd3"/><rect x="1319.4" y="541.6" width="3.6" height="11.9" fill="#a3dbd3"/><rect x="1323.8" y="544.9" width="3.6" height="8.6" fill="#e0f4f1"/><rect x="1328.1" y="547.1" width="3.6" height="6.4" fill="#e0f4f1"/><rect x="1332.5" y="549.2" width="3.6" height="4.3" fill="#e0f4f1"/><rect x="1336.9" y="550.6" width="3.6" height="2.9" fill="#e0f4f1"/><rect x="1341.2" y="551.4" width="3.6" height="2.1" fill="#e0f4f1"/><rect x="1345.6" y="553.5" width="3.6" height="0.5" fill="#ffb3ba"/><rect x="1350.0" y="553.5" width="3.6" height="1.7" fill="#ffb3ba"/><rect x="1354.3" y="553.5" width="3.6" height="1.8" fill="#ffb3ba"/><rect x="1358.7" y="553.5" width="3.6" height="1.6" fill="#ffe0e3"/><rect x="1363.1" y="553.5" width="3.6" height="1.6" fill="#ffe0e3"/><rect x="1367.5" y="553.5" width="3.6" height="1.6" fill="#ffe0e3"/><rect x="1371.8" y="553.5" width="3.6" height="0.6" fill="#ffe0e3"/><rect x="1376.2" y="552.9" width="3.6" height="0.6" fill="#a3dbd3"/><rect x="1380.6" y="552.6" width="3.6" height="0.9" fill="#a3dbd3"/><rect x="1384.9" y="553.5" width="3.6" height="1.5" fill="#ffb3ba"/><rect x="1389.3" y="553.5" width="3.6" height="1.5" fill="#ffe0e3"/><rect x="1393.7" y="553.5" width="3.6" height="0.5" fill="#ffe0e3"/><rect x="1398.0" y="552.2" width="3.6" height="1.3" fill="#a3dbd3"/><rect x="1402.4" y="553.0" width="3.6" height="0.5" fill="#e0f4f1"/><rect x="1406.8" y="552.7" width="3.6" height="0.8" fill="#a3dbd3"/><rect x="1411.1" y="552.3" width="3.6" height="1.2" fill="#a3dbd3"/><rect x="1415.5" y="552.9" width="3.6" height="0.6" fill="#e0f4f1"/><rect x="1419.9" y="553.5" width="3.6" height="0.5" fill="#e0f4f1"/><rect x="1424.3" y="553.5" width="3.6" height="0.5" fill="#ffb3ba"/><rect x="1428.6" y="553.5" width="3.6" height="3.7" fill="#ffb3ba"/><rect x="1433.0" y="553.5" width="3.6" height="5.3" fill="#ffb3ba"/><rect x="1437.4" y="553.5" width="3.6" height="6.4" fill="#ffb3ba"/><rect x="1441.7" y="553.5" width="3.6" height="6.1" fill="#ffe0e3"/><rect x="1446.1" y="553.5" width="3.6" height="4.9" fill="#ffe0e3"/><rect x="1450.5" y="553.5" width="3.6" height="2.1" fill="#ffe0e3"/><rect x="1454.8" y="553.5" width="3.6" height="0.8" fill="#ffe0e3"/><rect x="1459.2" y="552.2" width="3.6" height="1.3" fill="#a3dbd3"/><rect x="1463.6" y="551.0" width="3.6" height="2.5" fill="#a3dbd3"/><rect x="1468.0" y="549.9" width="3.6" height="3.6" fill="#a3dbd3"/><rect x="1472.3" y="549.7" width="3.6" height="3.8" fill="#a3dbd3"/><rect x="1476.7" y="551.4" width="3.6" height="2.1" fill="#e0f4f1"/><rect x="1481.1" y="553.5" width="3.6" height="0.7" fill="#ffb3ba"/><rect x="1485.4" y="553.5" width="3.6" height="0.5" fill="#ffe0e3"/><rect x="1489.8" y="553.5" width="3.6" height="0.5" fill="#ffb3ba"/><rect x="1494.2" y="552.6" width="3.6" height="0.9" fill="#a3dbd3"/><rect x="1498.5" y="550.8" width="3.6" height="2.7" fill="#a3dbd3"/><rect x="1502.9" y="549.3" width="3.6" height="4.2" fill="#a3dbd3"/><rect x="1507.3" y="547.9" width="3.6" height="5.6" fill="#a3dbd3"/><rect x="1511.6" y="546.9" width="3.6" height="6.6" fill="#a3dbd3"/><rect x="1516.0" y="546.6" width="3.6" height="6.9" fill="#a3dbd3"/><rect x="1520.4" y="546.0" width="3.6" height="7.5" fill="#a3dbd3"/><rect x="1524.8" y="548.2" width="3.6" height="5.3" fill="#e0f4f1"/><rect x="1529.1" y="550.9" width="3.6" height="2.6" fill="#e0f4f1"/><rect x="1533.5" y="553.5" width="3.6" height="0.5" fill="#e0f4f1"/><rect x="1537.9" y="553.3" width="3.6" height="0.5" fill="#a3dbd3"/><rect x="1542.2" y="553.5" width="3.6" height="1.1" fill="#ffb3ba"/><rect x="1546.6" y="553.5" width="3.6" height="2.1" fill="#ffb3ba"/><rect x="1551.0" y="553.5" width="3.6" height="2.6" fill="#ffb3ba"/><rect x="1555.3" y="553.5" width="3.6" height="1.9" fill="#ffe0e3"/><rect x="1559.7" y="553.5" width="3.6" height="1.3" fill="#ffe0e3"/><rect x="1564.1" y="553.5" width="3.6" height="1.0" fill="#ffe0e3"/><rect x="1568.5" y="553.5" width="3.6" height="1.8" fill="#ffb3ba"/><rect x="1572.8" y="553.5" width="3.6" height="3.5" fill="#ffb3ba"/><rect x="1577.2" y="553.5" width="3.6" height="3.8" fill="#ffb3ba"/><rect x="1581.6" y="553.5" width="3.6" height="3.5" fill="#ffe0e3"/><rect x="1585.9" y="553.5" width="3.6" height="3.7" fill="#ffb3ba"/><rect x="1590.3" y="553.5" width="3.6" height="3.0" fill="#ffe0e3"/><rect x="1594.7" y="553.5" width="3.6" height="0.8" fill="#ffe0e3"/><rect x="1599.0" y="553.5" width="3.6" height="0.5" fill="#ffe0e3"/><rect x="1603.4" y="552.8" width="3.6" height="0.7" fill="#a3dbd3"/><rect x="1607.8" y="552.6" width="3.6" height="0.9" fill="#a3dbd3"/><rect x="1612.1" y="550.8" width="3.6" height="2.7" fill="#a3dbd3"/><rect x="1616.5" y="550.9" width="3.6" height="2.6" fill="#e0f4f1"/><rect x="1620.9" y="551.5" width="3.6" height="2.0" fill="#e0f4f1"/><rect x="1625.3" y="552.5" width="3.6" height="1.0" fill="#e0f4f1"/><rect x="1629.6" y="552.3" width="3.6" height="1.2" fill="#a3dbd3"/><rect x="1634.0" y="551.7" width="3.6" height="1.8" fill="#a3dbd3"/><rect x="1638.4" y="550.4" width="3.6" height="3.1" fill="#a3dbd3"/><rect x="1642.7" y="549.8" width="3.6" height="3.7" fill="#a3dbd3"/><rect x="1647.1" y="551.3" width="3.6" height="2.2" fill="#e0f4f1"/><rect x="1651.5" y="552.5" width="3.6" height="1.0" fill="#e0f4f1"/><rect x="1655.8" y="553.3" width="3.6" height="0.5" fill="#e0f4f1"/><rect x="1660.2" y="553.5" width="3.6" height="0.6" fill="#ffb3ba"/><rect x="1664.6" y="553.5" width="3.6" height="2.9" fill="#ffb3ba"/><rect x="1668.9" y="553.5" width="3.6" height="5.0" fill="#ffb3ba"/><rect x="1673.3" y="553.5" width="3.6" height="5.8" fill="#ffb3ba"/><rect x="1677.7" y="553.5" width="3.6" height="5.5" fill="#ffe0e3"/><rect x="1682.1" y="553.5" width="3.6" height="4.6" fill="#ffe0e3"/><rect x="1686.4" y="553.5" width="3.6" height="3.4" fill="#ffe0e3"/><rect x="1690.8" y="553.5" width="3.6" height="3.7" fill="#ffb3ba"/><rect x="1695.2" y="553.5" width="3.6" height="2.6" fill="#ffe0e3"/><rect x="1699.5" y="553.5" width="3.6" height="3.6" fill="#ffb3ba"/><rect x="1703.9" y="553.5" width="3.6" height="3.3" fill="#ffe0e3"/><rect x="1708.3" y="553.5" width="3.6" height="2.8" fill="#ffe0e3"/><rect x="1712.6" y="553.5" width="3.6" height="3.0" fill="#ffb3ba"/><rect x="1717.0" y="553.5" width="3.6" height="1.8" fill="#ffe0e3"/><rect x="1721.4" y="553.5" width="3.6" height="3.2" fill="#ffb3ba"/><rect x="1725.8" y="553.5" width="3.6" height="4.1" fill="#ffb3ba"/><rect x="1730.1" y="553.5" width="3.6" height="2.9" fill="#ffe0e3"/><rect x="1734.5" y="553.5" width="3.6" height="2.2" fill="#ffe0e3"/><rect x="1738.9" y="553.5" width="3.6" height="1.8" fill="#ffe0e3"/><rect x="1743.2" y="553.5" width="3.6" height="1.4" fill="#ffe0e3"/><rect x="1747.6" y="553.5" width="3.6" height="1.2" fill="#ffe0e3"/><rect x="1752.0" y="553.5" width="3.6" height="1.0" fill="#ffe0e3"/><polygon points="0.0,549.7 1.6,549.7 1.6,549.7 0.0,549.7" fill="rgba(41,98,255,0.5)"/><polygon points="1.6,549.7 6.0,550.2 10.3,550.8 14.7,552.1 19.1,554.7 23.4,556.7 27.8,558.1 32.2,560.0 36.6,561.3 40.9,562.5 45.3,564.3 49.7,565.6 54.0,566.4 58.4,567.6 62.8,567.5 67.1,566.3 71.3,564.1 71.3,564.1 67.1,564.1 62.8,563.6 58.4,562.6 54.0,561.4 49.7,560.1 45.3,558.8 40.9,557.4 36.6,556.1 32.2,554.8 27.8,553.5 23.4,552.4 19.1,551.3 14.7,550.4 10.3,550.0 6.0,549.8 1.6,549.7" fill="rgba(242,54,69,0.55)"/><polygon points="71.3,564.1 71.5,564.0 75.9,562.8 80.3,560.8 84.6,559.8 89.0,558.0 93.4,555.9 97.7,554.9 102.1,554.7 106.5,554.9 110.8,555.9 115.2,555.8 119.6,555.5 123.9,554.9 128.3,554.5 132.7,553.9 137.1,553.2 141.4,553.5 145.8,554.0 150.2,554.3 152.9,554.6 152.9,554.6 150.2,554.6 145.8,554.6 141.4,554.8 137.1,555.1 132.7,555.6 128.3,556.0 123.9,556.4 119.6,556.7 115.2,557.0 110.8,557.4 106.5,557.7 102.1,558.4 97.7,559.4 93.4,560.5 89.0,561.6 84.6,562.5 80.3,563.2 75.9,563.8 71.5,564.1 71.3,564.1" fill="rgba(41,98,255,0.5)"/><polygon points="152.9,554.6 154.5,554.8 158.9,555.3 163.3,555.2 167.6,554.9 172.0,555.5 175.9,555.0 175.9,555.0 172.0,555.0 167.6,554.8 163.3,554.8 158.9,554.7 154.5,554.6 152.9,554.6" fill="rgba(242,54,69,0.55)"/><polygon points="175.9,555.0 176.4,554.9 180.0,555.0 180.0,555.0 176.4,555.0 175.9,555.0" fill="rgba(41,98,255,0.5)"/><polygon points="180.0,555.0 180.7,555.0 185.1,555.0 187.1,555.0 187.1,555.0 185.1,555.0 180.7,555.0 180.0,555.0" fill="rgba(242,54,69,0.55)"/><polygon points="187.1,555.0 189.5,554.9 193.9,554.2 198.2,553.6 202.6,554.1 204.2,554.5 204.2,554.5 202.6,554.5 198.2,554.6 193.9,554.8 189.5,555.0 187.1,555.0" fill="rgba(41,98,255,0.5)"/><polygon points="204.2,554.5 207.0,555.3 211.3,555.9 215.7,556.2 220.1,557.1 224.4,558.3 228.8,558.8 233.2,558.4 237.6,557.8 241.9,557.5 244.6,557.2 244.6,557.2 241.9,557.2 237.6,557.2 233.2,557.0 228.8,556.6 224.4,556.1 220.1,555.5 215.7,555.1 211.3,554.9 207.0,554.6 204.2,554.5" fill="rgba(242,54,69,0.55)"/><polygon points="244.6,557.2 246.3,557.0 249.3,557.2 249.3,557.2 246.3,557.2 244.6,557.2" fill="rgba(41,98,255,0.5)"/><polygon points="249.3,557.2 250.7,557.3 255.0,558.0 259.4,558.9 263.8,560.5 268.1,561.6 272.5,561.6 276.9,562.8 281.2,565.0 285.6,566.9 290.0,569.4 294.4,571.6 298.7,574.1 303.1,575.4 307.5,575.5 311.8,575.2 316.2,575.7 320.6,574.0 324.9,572.8 329.3,572.6 333.7,572.8 334.5,572.5 334.5,572.5 333.7,572.6 329.3,572.5 324.9,572.5 320.6,572.4 316.2,572.0 311.8,571.1 307.5,570.1 303.1,568.7 298.7,567.0 294.4,565.3 290.0,563.7 285.6,562.3 281.2,561.1 276.9,560.1 272.5,559.4 268.1,558.9 263.8,558.2 259.4,557.7 255.0,557.4 250.7,557.2 249.3,557.2" fill="rgba(242,54,69,0.55)"/><polygon points="334.5,572.5 338.1,571.4 342.4,571.0 346.8,571.4 350.9,571.9 350.9,571.9 346.8,571.9 342.4,572.1 338.1,572.3 334.5,572.5" fill="rgba(41,98,255,0.5)"/><polygon points="350.9,571.9 351.2,572.0 355.5,572.7 359.9,572.9 364.3,574.2 368.6,574.5 373.0,573.6 374.5,573.0 374.5,573.0 373.0,573.1 368.6,573.0 364.3,572.6 359.9,572.2 355.5,572.1 351.2,571.9 350.9,571.9" fill="rgba(242,54,69,0.55)"/><polygon points="374.5,573.0 377.4,572.0 381.7,569.9 386.1,567.6 390.5,565.7 394.9,564.1 399.2,562.4 403.6,561.5 408.0,559.0 412.3,557.1 416.7,554.2 421.1,551.4 425.4,549.4 429.8,547.0 434.2,545.8 438.6,544.6 442.9,543.8 447.3,543.0 451.7,542.4 456.0,543.4 460.4,543.9 464.8,544.8 468.2,545.9 468.2,545.9 464.8,545.8 460.4,546.1 456.0,546.6 451.7,547.5 447.3,548.7 442.9,550.1 438.6,551.7 434.2,553.5 429.8,555.4 425.4,557.5 421.1,559.5 416.7,561.6 412.3,563.4 408.0,565.0 403.6,566.5 399.2,567.7 394.9,569.0 390.5,570.2 386.1,571.4 381.7,572.3 377.4,572.9 374.5,573.0" fill="rgba(41,98,255,0.5)"/><polygon points="468.2,545.9 469.1,546.2 473.5,547.6 477.9,549.8 482.2,550.6 486.6,551.5 491.0,551.9 495.4,553.3 499.7,553.9 504.1,554.3 508.5,554.9 512.8,555.9 517.2,558.6 521.6,562.4 525.9,566.1 530.3,567.7 534.7,569.2 539.0,569.8 543.4,570.1 547.8,570.2 552.2,571.2 556.5,572.7 560.9,573.5 565.3,572.6 569.6,571.1 574.0,570.6 576.6,570.1 576.6,570.1 574.0,570.2 569.6,570.1 565.3,569.8 560.9,569.1 556.5,568.0 552.2,566.9 547.8,565.8 543.4,564.7 539.0,563.3 534.7,561.7 530.3,559.8 525.9,557.8 521.6,555.7 517.2,554.1 512.8,552.9 508.5,552.2 504.1,551.5 499.7,550.8 495.4,550.0 491.0,549.1 486.6,548.4 482.2,547.7 477.9,547.0 473.5,546.2 469.1,545.9 468.2,545.9" fill="rgba(242,54,69,0.55)"/><polygon points="576.6,570.1 578.4,569.8 582.7,568.4 587.1,568.0 591.5,566.5 595.9,565.2 600.2,563.2 604.6,561.4 609.0,559.6 613.3,558.1 617.7,556.9 622.1,554.3 626.4,551.9 630.8,550.1 635.2,548.4 639.5,547.0 643.9,545.7 648.3,544.1 652.7,543.1 657.0,543.2 661.4,542.7 665.8,542.5 670.1,542.8 674.5,543.9 678.9,545.0 678.9,545.0 678.9,545.0 678.9,545.0 674.5,545.0 670.1,545.3 665.8,545.9 661.4,546.8 657.0,547.8 652.7,549.0 648.3,550.5 643.9,552.1 639.5,553.7 635.2,555.3 630.8,557.1 626.4,558.8 622.1,560.5 617.7,562.1 613.3,563.4 609.0,564.7 604.6,566.0 600.2,567.1 595.9,568.1 591.5,568.8 587.1,569.4 582.7,569.8 578.4,570.1 576.6,570.1" fill="rgba(41,98,255,0.5)"/><polygon points="678.9,545.0 683.2,546.4 687.6,548.3 692.0,550.0 696.4,552.4 700.7,554.3 705.1,555.6 709.5,556.7 713.8,556.8 718.2,556.9 722.6,557.5 726.9,558.1 731.3,559.3 735.7,560.2 740.0,560.6 744.4,560.8 748.8,560.9 753.2,561.1 757.5,559.7 760.3,559.3 760.3,559.3 757.5,559.3 753.2,559.2 748.8,558.8 744.4,558.2 740.0,557.6 735.7,556.8 731.3,555.9 726.9,555.1 722.6,554.3 718.2,553.5 713.8,552.7 709.5,551.7 705.1,550.4 700.7,549.1 696.4,547.8 692.0,546.7 687.6,545.9 683.2,545.3 678.9,545.0" fill="rgba(242,54,69,0.55)"/><polygon points="760.3,559.3 761.9,559.0 766.3,559.0 770.6,558.9 771.6,559.2 771.6,559.2 770.6,559.1 766.3,559.2 761.9,559.3 760.3,559.3" fill="rgba(41,98,255,0.5)"/><polygon points="771.6,559.2 775.0,560.2 779.4,561.9 783.7,562.9 788.1,564.2 792.5,565.1 796.8,564.2 801.2,563.7 805.6,563.9 810.0,563.7 814.3,563.7 818.7,571.8 823.1,578.1 827.4,585.3 831.8,585.8 836.2,582.8 840.5,579.4 844.8,576.5 844.8,576.5 840.5,576.5 836.2,575.8 831.8,574.1 827.4,571.1 823.1,567.6 818.7,564.9 814.3,563.2 810.0,563.1 805.6,562.9 801.2,562.7 796.8,562.4 792.5,562.0 788.1,561.2 783.7,560.5 779.4,559.9 775.0,559.4 771.6,559.2" fill="rgba(242,54,69,0.55)"/><polygon points="844.8,576.5 844.9,576.4 849.3,574.3 853.7,572.0 858.0,569.1 862.4,567.0 866.8,563.3 871.1,562.3 875.5,562.0 879.9,560.9 884.2,558.4 888.6,557.5 893.0,556.8 897.3,557.4 901.7,558.2 906.1,558.0 910.5,559.0 914.8,557.6 919.2,556.2 923.6,554.2 927.9,552.3 932.3,551.2 936.7,549.4 941.0,548.0 945.4,548.8 949.8,549.5 954.2,550.7 956.5,551.6 956.5,551.6 954.2,551.5 949.8,551.7 945.4,552.2 941.0,553.1 936.7,554.4 932.3,555.6 927.9,556.7 923.6,557.8 919.2,558.7 914.8,559.4 910.5,559.8 906.1,560.0 901.7,560.5 897.3,561.1 893.0,562.0 888.6,563.3 884.2,564.7 879.9,566.3 875.5,567.6 871.1,569.1 866.8,570.7 862.4,572.6 858.0,574.0 853.7,575.2 849.3,576.1 844.9,576.5 844.8,576.5" fill="rgba(41,98,255,0.5)"/><polygon points="956.5,551.6 958.5,552.3 962.9,553.4 967.3,555.0 971.6,556.4 976.0,558.1 980.4,559.3 984.7,559.6 989.1,558.4 993.5,557.5 997.0,556.8 997.0,556.8 993.5,556.8 989.1,556.6 984.7,556.2 980.4,555.3 976.0,554.3 971.6,553.4 967.3,552.6 962.9,552.0 958.5,551.6 956.5,551.6" fill="rgba(242,54,69,0.55)"/><polygon points="997.0,556.8 997.8,556.6 999.4,556.8 999.4,556.8 997.8,556.7 997.0,556.8" fill="rgba(41,98,255,0.5)"/><polygon points="999.4,556.8 1002.2,557.2 1006.6,558.4 1011.0,560.3 1015.3,562.1 1019.7,563.9 1024.1,564.4 1028.4,565.7 1032.8,566.6 1037.2,568.2 1041.5,569.2 1045.9,569.9 1050.3,570.9 1054.6,572.4 1059.0,573.8 1063.4,575.0 1067.8,574.1 1072.1,574.6 1076.5,573.0 1080.9,573.1 1085.2,572.5 1087.6,572.3 1087.6,572.3 1085.2,572.3 1080.9,572.2 1076.5,572.0 1072.1,571.8 1067.8,571.1 1063.4,570.3 1059.0,569.1 1054.6,568.0 1050.3,566.9 1045.9,565.9 1041.5,564.8 1037.2,563.8 1032.8,562.6 1028.4,561.7 1024.1,560.6 1019.7,559.7 1015.3,558.7 1011.0,557.8 1006.6,557.2 1002.2,556.8 999.4,556.8" fill="rgba(242,54,69,0.55)"/><polygon points="1087.6,572.3 1089.6,572.0 1094.0,570.0 1098.3,567.8 1102.7,565.8 1107.1,564.8 1111.5,565.4 1115.8,566.1 1119.8,567.8 1119.8,567.8 1115.8,567.8 1111.5,568.2 1107.1,568.9 1102.7,569.9 1098.3,571.0 1094.0,571.8 1089.6,572.2 1087.6,572.3" fill="rgba(41,98,255,0.5)"/><polygon points="1119.8,567.8 1120.2,568.0 1124.6,569.4 1128.9,571.9 1133.3,574.2 1137.7,575.7 1142.0,577.0 1146.4,576.4 1150.8,575.6 1154.7,573.6 1154.7,573.6 1150.8,573.6 1146.4,573.1 1142.0,572.3 1137.7,571.1 1133.3,570.0 1128.9,568.9 1124.6,568.2 1120.2,567.8 1119.8,567.8" fill="rgba(242,54,69,0.55)"/><polygon points="1154.7,573.6 1155.1,573.3 1159.5,570.7 1163.9,568.6 1168.3,568.0 1172.6,568.2 1177.0,568.4 1181.4,568.7 1185.7,569.8 1186.9,569.9 1186.9,569.9 1185.7,569.9 1181.4,569.9 1177.0,570.2 1172.6,570.7 1168.3,571.3 1163.9,572.1 1159.5,573.0 1155.1,573.6 1154.7,573.6" fill="rgba(41,98,255,0.5)"/><polygon points="1186.9,569.9 1190.1,570.1 1194.5,570.1 1194.8,569.9 1194.8,569.9 1194.5,570.0 1190.1,569.9 1186.9,569.9" fill="rgba(242,54,69,0.55)"/><polygon points="1194.8,569.9 1198.8,568.0 1203.2,565.9 1207.6,563.0 1212.0,559.0 1216.3,555.3 1220.7,552.2 1225.1,551.2 1229.4,550.4 1233.8,548.7 1238.2,547.5 1242.5,547.1 1246.9,547.0 1251.3,547.4 1255.6,546.8 1260.0,546.5 1264.4,547.1 1268.8,547.6 1271.5,548.7 1271.5,548.7 1268.8,548.6 1264.4,548.8 1260.0,549.3 1255.6,550.0 1251.3,550.7 1246.9,551.6 1242.5,552.8 1238.2,554.2 1233.8,555.8 1229.4,557.6 1225.1,559.4 1220.7,561.5 1216.3,563.8 1212.0,565.9 1207.6,567.7 1203.2,568.8 1198.8,569.6 1194.8,569.9" fill="rgba(41,98,255,0.5)"/><polygon points="1271.5,548.7 1273.1,549.3 1277.5,551.3 1281.9,553.3 1286.2,555.7 1290.6,557.4 1295.0,557.6 1299.3,555.3 1301.2,553.6 1301.2,553.6 1299.3,553.8 1295.0,553.5 1290.6,552.4 1286.2,551.2 1281.9,550.0 1277.5,549.2 1273.1,548.7 1271.5,548.7" fill="rgba(242,54,69,0.55)"/><polygon points="1301.2,553.6 1303.7,551.2 1308.1,548.6 1312.5,545.9 1316.8,543.3 1321.2,541.5 1325.6,541.6 1329.9,541.7 1334.3,542.0 1338.7,542.2 1343.0,542.3 1347.4,543.2 1350.0,543.9 1350.0,543.9 1347.4,543.8 1343.0,544.0 1338.7,544.4 1334.3,544.9 1329.9,545.7 1325.6,546.7 1321.2,547.9 1316.8,549.5 1312.5,551.1 1308.1,552.4 1303.7,553.3 1301.2,553.6" fill="rgba(41,98,255,0.5)"/><polygon points="1350.0,543.9 1351.8,544.3 1356.1,544.7 1360.5,544.8 1364.9,545.1 1369.3,545.3 1373.6,545.0 1375.8,544.6 1375.8,544.6 1373.6,544.7 1369.3,544.6 1364.9,544.4 1360.5,544.2 1356.1,544.1 1351.8,543.9 1350.0,543.9" fill="rgba(242,54,69,0.55)"/><polygon points="1375.8,544.6 1378.0,544.3 1382.4,544.0 1384.0,544.5 1384.0,544.5 1382.4,544.5 1378.0,544.6 1375.8,544.6" fill="rgba(41,98,255,0.5)"/><polygon points="1384.0,544.5 1386.7,545.4 1391.1,545.6 1395.5,544.9 1395.9,544.8 1395.9,544.8 1395.5,544.9 1391.1,544.8 1386.7,544.7 1384.0,544.5" fill="rgba(242,54,69,0.55)"/><polygon points="1395.9,544.8 1399.8,544.1 1404.2,544.4 1408.6,544.2 1412.9,543.8 1417.3,544.0 1421.7,544.2 1422.6,544.3 1422.6,544.3 1421.7,544.3 1417.3,544.3 1412.9,544.4 1408.6,544.6 1404.2,544.7 1399.8,544.7 1395.9,544.8" fill="rgba(41,98,255,0.5)"/><polygon points="1422.6,544.3 1426.1,544.6 1430.4,546.6 1434.8,548.2 1439.2,549.7 1443.5,550.6 1447.9,550.7 1452.3,549.8 1456.6,549.3 1459.8,548.4 1459.8,548.4 1456.6,548.5 1452.3,548.3 1447.9,547.9 1443.5,547.2 1439.2,546.3 1434.8,545.5 1430.4,544.8 1426.1,544.3 1422.6,544.3" fill="rgba(242,54,69,0.55)"/><polygon points="1459.8,548.4 1461.0,548.1 1465.4,547.1 1469.8,546.1 1474.1,545.3 1478.5,545.8 1482.1,547.0 1482.1,547.0 1478.5,547.0 1474.1,547.2 1469.8,547.7 1465.4,548.1 1461.0,548.4 1459.8,548.4" fill="rgba(41,98,255,0.5)"/><polygon points="1482.1,547.0 1482.9,547.3 1487.2,547.1 1491.6,547.2 1492.6,547.0 1492.6,547.0 1491.6,547.1 1487.2,547.0 1482.9,547.0 1482.1,547.0" fill="rgba(242,54,69,0.55)"/><polygon points="1492.6,547.0 1496.0,546.4 1500.3,545.2 1504.7,543.8 1509.1,542.3 1513.4,540.8 1517.8,539.6 1522.2,538.1 1526.6,538.3 1530.9,539.2 1535.3,540.4 1539.7,540.3 1543.0,540.8 1543.0,540.8 1539.7,540.8 1535.3,540.9 1530.9,541.1 1526.6,541.6 1522.2,542.4 1517.8,543.4 1513.4,544.4 1509.1,545.3 1504.7,546.0 1500.3,546.6 1496.0,546.9 1492.6,547.0" fill="rgba(41,98,255,0.5)"/><polygon points="1543.0,540.8 1544.0,541.0 1548.4,541.9 1552.8,542.5 1557.1,542.5 1561.5,542.4 1565.9,542.4 1570.3,543.1 1574.6,544.4 1579.0,545.1 1583.4,545.6 1587.7,546.2 1592.1,546.4 1596.5,545.5 1600.8,545.2 1604.1,544.8 1604.1,544.8 1600.8,544.8 1596.5,544.7 1592.1,544.6 1587.7,544.1 1583.4,543.6 1579.0,543.1 1574.6,542.6 1570.3,542.1 1565.9,541.9 1561.5,541.7 1557.1,541.6 1552.8,541.3 1548.4,541.1 1544.0,540.9 1543.0,540.8" fill="rgba(242,54,69,0.55)"/><polygon points="1604.1,544.8 1605.2,544.7 1609.6,544.4 1613.9,543.2 1618.3,542.8 1622.7,542.8 1627.1,543.1 1631.4,542.8 1635.8,542.3 1640.2,541.2 1644.5,540.3 1648.9,540.7 1653.3,541.1 1657.6,541.4 1660.8,541.8 1660.8,541.8 1657.6,541.7 1653.3,541.8 1648.9,542.0 1644.5,542.3 1640.2,542.9 1635.8,543.3 1631.4,543.5 1627.1,543.7 1622.7,543.8 1618.3,544.1 1613.9,544.4 1609.6,544.7 1605.2,544.8 1604.1,544.8" fill="rgba(41,98,255,0.5)"/><polygon points="1660.8,541.8 1662.0,541.9 1666.4,543.4 1670.7,545.2 1675.1,546.5 1679.5,547.2 1683.9,547.5 1688.2,547.5 1692.6,548.2 1697.0,548.1 1701.3,549.1 1705.7,549.5 1710.1,549.7 1714.4,550.2 1718.8,550.0 1723.2,551.1 1727.6,552.2 1731.9,552.1 1736.3,552.1 1740.7,552.2 1745.0,552.2 1749.4,552.3 1753.8,552.4 1753.8,551.6 1749.4,551.4 1745.0,551.2 1740.7,550.9 1736.3,550.6 1731.9,550.2 1727.6,549.8 1723.2,549.2 1718.8,548.7 1714.4,548.4 1710.1,547.9 1705.7,547.4 1701.3,546.9 1697.0,546.4 1692.6,546.0 1688.2,545.4 1683.9,544.9 1679.5,544.2 1675.1,543.5 1670.7,542.7 1666.4,542.1 1662.0,541.8 1660.8,541.8" fill="rgba(242,54,69,0.55)"/><polyline points="0.0,551.5 6.0,551.6 10.3,551.8 14.7,552.3 19.1,553.5 23.4,554.5 27.8,555.4 32.2,556.7 36.6,557.7 40.9,558.8 45.3,560.2 49.7,561.5 54.0,562.6 58.4,564.0 62.8,564.8 67.1,565.2 71.5,565.0 75.9,565.1 80.3,564.9 84.6,564.9 89.0,564.4 93.4,563.8 97.7,563.4 102.1,563.3 106.5,563.4 110.8,563.8 115.2,563.8 119.6,563.7 123.9,563.5 128.3,563.3 132.7,563.0 137.1,562.6 141.4,562.5 145.8,562.7 150.2,562.6 154.5,562.8 158.9,562.9 163.3,562.9 167.6,562.7 172.0,563.0 176.4,562.7 180.7,562.7 185.1,562.6 189.5,562.6 193.9,562.2 198.2,561.9 202.6,561.9 207.0,562.3 211.3,562.6 215.7,562.7 220.1,563.1 224.4,563.7 228.8,564.1 233.2,564.1 237.6,564.0 241.9,564.0 246.3,563.9 250.7,564.1 255.0,564.5 259.4,565.0 263.8,565.8 268.1,566.6 272.5,567.0 276.9,567.8 281.2,569.1 285.6,570.5 290.0,572.2 294.4,574.0 298.7,575.9 303.1,577.6 307.5,578.8 311.8,579.8 316.2,581.2 320.6,581.6 324.9,582.1 329.3,582.9 333.7,583.9 338.1,584.2 342.4,584.8 346.8,585.7 351.2,586.8 355.5,587.9 359.9,588.7 364.3,590.1 368.6,591.1 373.0,591.7 377.4,591.8 381.7,591.6 386.1,591.2 390.5,590.9 394.9,590.4 399.2,589.9 403.6,589.5 408.0,588.5 412.3,587.5 416.7,586.0 421.1,584.3 425.4,582.9 429.8,581.1 434.2,579.6 438.6,578.1 442.9,576.7 447.3,575.3 451.7,573.9 456.0,573.1 460.4,572.2 464.8,571.6 469.1,571.2 473.5,570.9 477.9,571.0 482.2,570.7 486.6,570.6 491.0,570.2 495.4,570.3 499.7,570.2 504.1,570.1 508.5,570.0 512.8,570.2 517.2,571.2 521.6,572.7 525.9,574.5 530.3,575.7 534.7,576.9 539.0,577.8 543.4,578.6 547.8,579.4 552.2,580.5 556.5,581.9 560.9,583.1 565.3,583.6 569.6,583.8 574.0,584.3 578.4,584.7 582.7,584.7 587.1,585.1 591.5,584.9 595.9,584.8 600.2,584.3 604.6,583.7 609.0,582.9 613.3,582.3 617.7,581.6 622.1,580.3 626.4,578.8 630.8,577.5 635.2,576.2 639.5,574.8 643.9,573.4 648.3,571.8 652.7,570.4 657.0,569.4 661.4,568.1 665.8,567.0 670.1,566.0 674.5,565.5 678.9,565.0 683.2,564.7 687.6,564.7 692.0,564.8 696.4,565.3 700.7,565.8 705.1,566.1 709.5,566.4 713.8,566.4 718.2,566.4 722.6,566.6 726.9,566.8 731.3,567.4 735.7,567.9 740.0,568.2 744.4,568.5 748.8,568.8 753.2,569.1 757.5,568.8 761.9,568.6 766.3,568.7 770.6,568.8 775.0,569.4 779.4,570.3 783.7,571.0 788.1,571.9 792.5,572.7 796.8,572.8 801.2,573.0 805.6,573.5 810.0,573.8 814.3,574.1 818.7,577.9 823.1,581.4 827.4,585.7 831.8,587.7 836.2,588.1 840.5,588.2 844.9,588.2 849.3,588.4 853.7,588.3 858.0,587.9 862.4,587.5 866.8,586.4 871.1,586.2 875.5,586.1 879.9,585.7 884.2,584.7 888.6,584.2 893.0,583.7 897.3,583.7 901.7,583.8 906.1,583.5 910.5,583.7 914.8,583.0 919.2,582.2 923.6,581.1 927.9,579.8 932.3,578.8 936.7,577.5 941.0,576.2 945.4,575.7 949.8,575.2 954.2,575.1 958.5,575.1 962.9,575.1 967.3,575.3 971.6,575.6 976.0,576.1 980.4,576.5 984.7,576.6 989.1,576.1 993.5,575.6 997.8,575.1 1002.2,575.2 1006.6,575.5 1011.0,576.3 1015.3,577.1 1019.7,578.0 1024.1,578.5 1028.4,579.3 1032.8,580.1 1037.2,581.2 1041.5,582.2 1045.9,583.1 1050.3,584.1 1054.6,585.4 1059.0,586.8 1063.4,588.2 1067.8,588.7 1072.1,589.8 1076.5,590.0 1080.9,590.8 1085.2,591.3 1089.6,591.8 1094.0,591.7 1098.3,591.3 1102.7,590.8 1107.1,590.6 1111.5,591.1 1115.8,591.6 1120.2,592.7 1124.6,593.6 1128.9,595.1 1133.3,596.7 1137.7,598.1 1142.0,599.4 1146.4,600.1 1150.8,600.6 1155.1,600.4 1159.5,599.9 1163.9,599.4 1168.3,599.5 1172.6,599.9 1177.0,600.2 1181.4,600.6 1185.7,601.4 1190.1,601.8 1194.5,602.2 1198.8,601.7 1203.2,601.0 1207.6,599.8 1212.0,598.0 1216.3,596.1 1220.7,594.2 1225.1,593.0 1229.4,591.8 1233.8,590.2 1238.2,588.7 1242.5,587.4 1246.9,586.3 1251.3,585.4 1255.6,584.1 1260.0,582.9 1264.4,582.1 1268.8,581.3 1273.1,581.1 1277.5,581.0 1281.9,581.2 1286.2,581.6 1290.6,581.9 1295.0,581.7 1299.3,580.5 1303.7,578.3 1308.1,576.6 1312.5,574.6 1316.8,572.5 1321.2,570.6 1325.6,569.5 1329.9,568.3 1334.3,567.2 1338.7,566.2 1343.0,565.1 1347.4,564.4 1351.8,563.8 1356.1,563.0 1360.5,562.2 1364.9,561.4 1369.3,560.7 1373.6,559.7 1378.0,558.6 1382.4,557.7 1386.7,557.4 1391.1,556.8 1395.5,555.8 1399.8,554.7 1404.2,554.0 1408.6,553.2 1412.9,552.2 1417.3,551.6 1421.7,550.9 1426.1,550.4 1430.4,550.6 1434.8,550.7 1439.2,550.9 1443.5,551.0 1447.9,550.8 1452.3,550.2 1456.6,549.7 1461.0,548.9 1465.4,548.1 1469.8,547.2 1474.1,546.4 1478.5,546.1 1482.9,546.2 1487.2,545.8 1491.6,545.5 1496.0,544.8 1500.3,543.8 1504.7,542.8 1509.1,541.6 1513.4,540.3 1517.8,539.1 1522.2,537.7 1526.6,536.9 1530.9,536.4 1535.3,536.1 1539.7,535.4 1544.0,535.0 1548.4,534.7 1552.8,534.5 1557.1,533.9 1561.5,533.4 1565.9,532.9 1570.3,532.7 1574.6,532.8 1579.0,532.8 1583.4,532.7 1587.7,532.7 1592.1,532.6 1596.5,532.0 1600.8,531.6 1605.2,531.2 1609.6,530.8 1613.9,530.0 1618.3,529.5 1622.7,529.1 1627.1,528.9 1631.4,528.4 1635.8,527.8 1640.2,527.0 1644.5,526.2 1648.9,525.8 1653.3,525.5 1657.6,525.2 1662.0,525.1 1666.4,525.3 1670.7,525.8 1675.1,526.2 1679.5,526.5 1683.9,526.6 1688.2,526.6 1692.6,526.9 1697.0,526.9 1701.3,527.4 1705.7,527.7 1710.1,528.0 1714.4,528.4 1718.8,528.5 1723.2,529.1 1727.6,529.8 1731.9,530.1 1736.3,530.4 1740.7,530.8 1745.0,531.1 1749.4,531.5 1753.8,531.8" fill="none" stroke="#bdbdbd" stroke-width="1.5" stroke-linejoin="round" /><polyline points="0.0,549.7 6.0,549.8 10.3,550.0 14.7,550.4 19.1,551.3 23.4,552.4 27.8,553.5 32.2,554.8 36.6,556.1 40.9,557.4 45.3,558.8 49.7,560.1 54.0,561.4 58.4,562.6 62.8,563.6 67.1,564.1 71.5,564.1 75.9,563.8 80.3,563.2 84.6,562.5 89.0,561.6 93.4,560.5 97.7,559.4 102.1,558.4 106.5,557.7 110.8,557.4 115.2,557.0 119.6,556.7 123.9,556.4 128.3,556.0 132.7,555.6 137.1,555.1 141.4,554.8 145.8,554.6 150.2,554.6 154.5,554.6 158.9,554.7 163.3,554.8 167.6,554.8 172.0,555.0 176.4,555.0 180.7,555.0 185.1,555.0 189.5,555.0 193.9,554.8 198.2,554.6 202.6,554.5 207.0,554.6 211.3,554.9 215.7,555.1 220.1,555.5 224.4,556.1 228.8,556.6 233.2,557.0 237.6,557.2 241.9,557.2 246.3,557.2 250.7,557.2 255.0,557.4 259.4,557.7 263.8,558.2 268.1,558.9 272.5,559.4 276.9,560.1 281.2,561.1 285.6,562.3 290.0,563.7 294.4,565.3 298.7,567.0 303.1,568.7 307.5,570.1 311.8,571.1 316.2,572.0 320.6,572.4 324.9,572.5 329.3,572.5 333.7,572.6 338.1,572.3 342.4,572.1 346.8,571.9 351.2,571.9 355.5,572.1 359.9,572.2 364.3,572.6 368.6,573.0 373.0,573.1 377.4,572.9 381.7,572.3 386.1,571.4 390.5,570.2 394.9,569.0 399.2,567.7 403.6,566.5 408.0,565.0 412.3,563.4 416.7,561.6 421.1,559.5 425.4,557.5 429.8,555.4 434.2,553.5 438.6,551.7 442.9,550.1 447.3,548.7 451.7,547.5 456.0,546.6 460.4,546.1 464.8,545.8 469.1,545.9 473.5,546.2 477.9,547.0 482.2,547.7 486.6,548.4 491.0,549.1 495.4,550.0 499.7,550.8 504.1,551.5 508.5,552.2 512.8,552.9 517.2,554.1 521.6,555.7 525.9,557.8 530.3,559.8 534.7,561.7 539.0,563.3 543.4,564.7 547.8,565.8 552.2,566.9 556.5,568.0 560.9,569.1 565.3,569.8 569.6,570.1 574.0,570.2 578.4,570.1 582.7,569.8 587.1,569.4 591.5,568.8 595.9,568.1 600.2,567.1 604.6,566.0 609.0,564.7 613.3,563.4 617.7,562.1 622.1,560.5 626.4,558.8 630.8,557.1 635.2,555.3 639.5,553.7 643.9,552.1 648.3,550.5 652.7,549.0 657.0,547.8 661.4,546.8 665.8,545.9 670.1,545.3 674.5,545.0 678.9,545.0 683.2,545.3 687.6,545.9 692.0,546.7 696.4,547.8 700.7,549.1 705.1,550.4 709.5,551.7 713.8,552.7 718.2,553.5 722.6,554.3 726.9,555.1 731.3,555.9 735.7,556.8 740.0,557.6 744.4,558.2 748.8,558.8 753.2,559.2 757.5,559.3 761.9,559.3 766.3,559.2 770.6,559.1 775.0,559.4 779.4,559.9 783.7,560.5 788.1,561.2 792.5,562.0 796.8,562.4 801.2,562.7 805.6,562.9 810.0,563.1 814.3,563.2 818.7,564.9 823.1,567.6 827.4,571.1 831.8,574.1 836.2,575.8 840.5,576.5 844.9,576.5 849.3,576.1 853.7,575.2 858.0,574.0 862.4,572.6 866.8,570.7 871.1,569.1 875.5,567.6 879.9,566.3 884.2,564.7 888.6,563.3 893.0,562.0 897.3,561.1 901.7,560.5 906.1,560.0 910.5,559.8 914.8,559.4 919.2,558.7 923.6,557.8 927.9,556.7 932.3,555.6 936.7,554.4 941.0,553.1 945.4,552.2 949.8,551.7 954.2,551.5 958.5,551.6 962.9,552.0 967.3,552.6 971.6,553.4 976.0,554.3 980.4,555.3 984.7,556.2 989.1,556.6 993.5,556.8 997.8,556.7 1002.2,556.8 1006.6,557.2 1011.0,557.8 1015.3,558.7 1019.7,559.7 1024.1,560.6 1028.4,561.7 1032.8,562.6 1037.2,563.8 1041.5,564.8 1045.9,565.9 1050.3,566.9 1054.6,568.0 1059.0,569.1 1063.4,570.3 1067.8,571.1 1072.1,571.8 1076.5,572.0 1080.9,572.2 1085.2,572.3 1089.6,572.2 1094.0,571.8 1098.3,571.0 1102.7,569.9 1107.1,568.9 1111.5,568.2 1115.8,567.8 1120.2,567.8 1124.6,568.2 1128.9,568.9 1133.3,570.0 1137.7,571.1 1142.0,572.3 1146.4,573.1 1150.8,573.6 1155.1,573.6 1159.5,573.0 1163.9,572.1 1168.3,571.3 1172.6,570.7 1177.0,570.2 1181.4,569.9 1185.7,569.9 1190.1,569.9 1194.5,570.0 1198.8,569.6 1203.2,568.8 1207.6,567.7 1212.0,565.9 1216.3,563.8 1220.7,561.5 1225.1,559.4 1229.4,557.6 1233.8,555.8 1238.2,554.2 1242.5,552.8 1246.9,551.6 1251.3,550.7 1255.6,550.0 1260.0,549.3 1264.4,548.8 1268.8,548.6 1273.1,548.7 1277.5,549.2 1281.9,550.0 1286.2,551.2 1290.6,552.4 1295.0,553.5 1299.3,553.8 1303.7,553.3 1308.1,552.4 1312.5,551.1 1316.8,549.5 1321.2,547.9 1325.6,546.7 1329.9,545.7 1334.3,544.9 1338.7,544.4 1343.0,544.0 1347.4,543.8 1351.8,543.9 1356.1,544.1 1360.5,544.2 1364.9,544.4 1369.3,544.6 1373.6,544.7 1378.0,544.6 1382.4,544.5 1386.7,544.7 1391.1,544.8 1395.5,544.9 1399.8,544.7 1404.2,544.7 1408.6,544.6 1412.9,544.4 1417.3,544.3 1421.7,544.3 1426.1,544.3 1430.4,544.8 1434.8,545.5 1439.2,546.3 1443.5,547.2 1447.9,547.9 1452.3,548.3 1456.6,548.5 1461.0,548.4 1465.4,548.1 1469.8,547.7 1474.1,547.2 1478.5,547.0 1482.9,547.0 1487.2,547.0 1491.6,547.1 1496.0,546.9 1500.3,546.6 1504.7,546.0 1509.1,545.3 1513.4,544.4 1517.8,543.4 1522.2,542.4 1526.6,541.6 1530.9,541.1 1535.3,540.9 1539.7,540.8 1544.0,540.9 1548.4,541.1 1552.8,541.3 1557.1,541.6 1561.5,541.7 1565.9,541.9 1570.3,542.1 1574.6,542.6 1579.0,543.1 1583.4,543.6 1587.7,544.1 1592.1,544.6 1596.5,544.7 1600.8,544.8 1605.2,544.8 1609.6,544.7 1613.9,544.4 1618.3,544.1 1622.7,543.8 1627.1,543.7 1631.4,543.5 1635.8,543.3 1640.2,542.9 1644.5,542.3 1648.9,542.0 1653.3,541.8 1657.6,541.7 1662.0,541.8 1666.4,542.1 1670.7,542.7 1675.1,543.5 1679.5,544.2 1683.9,544.9 1688.2,545.4 1692.6,546.0 1697.0,546.4 1701.3,546.9 1705.7,547.4 1710.1,547.9 1714.4,548.4 1718.8,548.7 1723.2,549.2 1727.6,549.8 1731.9,550.2 1736.3,550.6 1740.7,550.9 1745.0,551.2 1749.4,551.4 1753.8,551.6" fill="none" stroke="#ff9800" stroke-width="1.2" stroke-linejoin="round" /><polyline points="0.0,549.7 6.0,550.2 10.3,550.8 14.7,552.1 19.1,554.7 23.4,556.7 27.8,558.1 32.2,560.0 36.6,561.3 40.9,562.5 45.3,564.3 49.7,565.6 54.0,566.4 58.4,567.6 62.8,567.5 67.1,566.3 71.5,564.0 75.9,562.8 80.3,560.8 84.6,559.8 89.0,558.0 93.4,555.9 97.7,554.9 102.1,554.7 106.5,554.9 110.8,555.9 115.2,555.8 119.6,555.5 123.9,554.9 128.3,554.5 132.7,553.9 137.1,553.2 141.4,553.5 145.8,554.0 150.2,554.3 154.5,554.8 158.9,555.3 163.3,555.2 167.6,554.9 172.0,555.5 176.4,554.9 180.7,555.0 185.1,555.0 189.5,554.9 193.9,554.2 198.2,553.6 202.6,554.1 207.0,555.3 211.3,555.9 215.7,556.2 220.1,557.1 224.4,558.3 228.8,558.8 233.2,558.4 237.6,557.8 241.9,557.5 246.3,557.0 250.7,557.3 255.0,558.0 259.4,558.9 263.8,560.5 268.1,561.6 272.5,561.6 276.9,562.8 281.2,565.0 285.6,566.9 290.0,569.4 294.4,571.6 298.7,574.1 303.1,575.4 307.5,575.5 311.8,575.2 316.2,575.7 320.6,574.0 324.9,572.8 329.3,572.6 333.7,572.8 338.1,571.4 342.4,571.0 346.8,571.4 351.2,572.0 355.5,572.7 359.9,572.9 364.3,574.2 368.6,574.5 373.0,573.6 377.4,572.0 381.7,569.9 386.1,567.6 390.5,565.7 394.9,564.1 399.2,562.4 403.6,561.5 408.0,559.0 412.3,557.1 416.7,554.2 421.1,551.4 425.4,549.4 429.8,547.0 434.2,545.8 438.6,544.6 442.9,543.8 447.3,543.0 451.7,542.4 456.0,543.4 460.4,543.9 464.8,544.8 469.1,546.2 473.5,547.6 477.9,549.8 482.2,550.6 486.6,551.5 491.0,551.9 495.4,553.3 499.7,553.9 504.1,554.3 508.5,554.9 512.8,555.9 517.2,558.6 521.6,562.4 525.9,566.1 530.3,567.7 534.7,569.2 539.0,569.8 543.4,570.1 547.8,570.2 552.2,571.2 556.5,572.7 560.9,573.5 565.3,572.6 569.6,571.1 574.0,570.6 578.4,569.8 582.7,568.4 587.1,568.0 591.5,566.5 595.9,565.2 600.2,563.2 604.6,561.4 609.0,559.6 613.3,558.1 617.7,556.9 622.1,554.3 626.4,551.9 630.8,550.1 635.2,548.4 639.5,547.0 643.9,545.7 648.3,544.1 652.7,543.1 657.0,543.2 661.4,542.7 665.8,542.5 670.1,542.8 674.5,543.9 678.9,545.0 683.2,546.4 687.6,548.3 692.0,550.0 696.4,552.4 700.7,554.3 705.1,555.6 709.5,556.7 713.8,556.8 718.2,556.9 722.6,557.5 726.9,558.1 731.3,559.3 735.7,560.2 740.0,560.6 744.4,560.8 748.8,560.9 753.2,561.1 757.5,559.7 761.9,559.0 766.3,559.0 770.6,558.9 775.0,560.2 779.4,561.9 783.7,562.9 788.1,564.2 792.5,565.1 796.8,564.2 801.2,563.7 805.6,563.9 810.0,563.7 814.3,563.7 818.7,571.8 823.1,578.1 827.4,585.3 831.8,585.8 836.2,582.8 840.5,579.4 844.9,576.4 849.3,574.3 853.7,572.0 858.0,569.1 862.4,567.0 866.8,563.3 871.1,562.3 875.5,562.0 879.9,560.9 884.2,558.4 888.6,557.5 893.0,556.8 897.3,557.4 901.7,558.2 906.1,558.0 910.5,559.0 914.8,557.6 919.2,556.2 923.6,554.2 927.9,552.3 932.3,551.2 936.7,549.4 941.0,548.0 945.4,548.8 949.8,549.5 954.2,550.7 958.5,552.3 962.9,553.4 967.3,555.0 971.6,556.4 976.0,558.1 980.4,559.3 984.7,559.6 989.1,558.4 993.5,557.5 997.8,556.6 1002.2,557.2 1006.6,558.4 1011.0,560.3 1015.3,562.1 1019.7,563.9 1024.1,564.4 1028.4,565.7 1032.8,566.6 1037.2,568.2 1041.5,569.2 1045.9,569.9 1050.3,570.9 1054.6,572.4 1059.0,573.8 1063.4,575.0 1067.8,574.1 1072.1,574.6 1076.5,573.0 1080.9,573.1 1085.2,572.5 1089.6,572.0 1094.0,570.0 1098.3,567.8 1102.7,565.8 1107.1,564.8 1111.5,565.4 1115.8,566.1 1120.2,568.0 1124.6,569.4 1128.9,571.9 1133.3,574.2 1137.7,575.7 1142.0,577.0 1146.4,576.4 1150.8,575.6 1155.1,573.3 1159.5,570.7 1163.9,568.6 1168.3,568.0 1172.6,568.2 1177.0,568.4 1181.4,568.7 1185.7,569.8 1190.1,570.1 1194.5,570.1 1198.8,568.0 1203.2,565.9 1207.6,563.0 1212.0,559.0 1216.3,555.3 1220.7,552.2 1225.1,551.2 1229.4,550.4 1233.8,548.7 1238.2,547.5 1242.5,547.1 1246.9,547.0 1251.3,547.4 1255.6,546.8 1260.0,546.5 1264.4,547.1 1268.8,547.6 1273.1,549.3 1277.5,551.3 1281.9,553.3 1286.2,555.7 1290.6,557.4 1295.0,557.6 1299.3,555.3 1303.7,551.2 1308.1,548.6 1312.5,545.9 1316.8,543.3 1321.2,541.5 1325.6,541.6 1329.9,541.7 1334.3,542.0 1338.7,542.2 1343.0,542.3 1347.4,543.2 1351.8,544.3 1356.1,544.7 1360.5,544.8 1364.9,545.1 1369.3,545.3 1373.6,545.0 1378.0,544.3 1382.4,544.0 1386.7,545.4 1391.1,545.6 1395.5,544.9 1399.8,544.1 1404.2,544.4 1408.6,544.2 1412.9,543.8 1417.3,544.0 1421.7,544.2 1426.1,544.6 1430.4,546.6 1434.8,548.2 1439.2,549.7 1443.5,550.6 1447.9,550.7 1452.3,549.8 1456.6,549.3 1461.0,548.1 1465.4,547.1 1469.8,546.1 1474.1,545.3 1478.5,545.8 1482.9,547.3 1487.2,547.1 1491.6,547.2 1496.0,546.4 1500.3,545.2 1504.7,543.8 1509.1,542.3 1513.4,540.8 1517.8,539.6 1522.2,538.1 1526.6,538.3 1530.9,539.2 1535.3,540.4 1539.7,540.3 1544.0,541.0 1548.4,541.9 1552.8,542.5 1557.1,542.5 1561.5,542.4 1565.9,542.4 1570.3,543.1 1574.6,544.4 1579.0,545.1 1583.4,545.6 1587.7,546.2 1592.1,546.4 1596.5,545.5 1600.8,545.2 1605.2,544.7 1609.6,544.4 1613.9,543.2 1618.3,542.8 1622.7,542.8 1627.1,543.1 1631.4,542.8 1635.8,542.3 1640.2,541.2 1644.5,540.3 1648.9,540.7 1653.3,541.1 1657.6,541.4 1662.0,541.9 1666.4,543.4 1670.7,545.2 1675.1,546.5 1679.5,547.2 1683.9,547.5 1688.2,547.5 1692.6,548.2 1697.0,548.1 1701.3,549.1 1705.7,549.5 1710.1,549.7 1714.4,550.2 1718.8,550.0 1723.2,551.1 1727.6,552.2 1731.9,552.1 1736.3,552.1 1740.7,552.2 1745.0,552.2 1749.4,552.3 1753.8,552.4" fill="none" stroke="#2962ff" stroke-width="1.15" stroke-linejoin="round" /></g><g clip-path="url(#c3)"><rect x="16.9" y="612" width="43.7" height="95" fill="#b3c9f8"/><rect x="60.6" y="612" width="4.4" height="95" fill="#5b8ff2"/><rect x="279.0" y="612" width="30.6" height="95" fill="#b3c9f8"/><rect x="309.6" y="612" width="4.4" height="95" fill="#5b8ff2"/><rect x="314.0" y="612" width="4.4" height="95" fill="#b3c9f8"/><rect x="318.4" y="612" width="4.4" height="95" fill="#5b8ff2"/><rect x="362.1" y="612" width="4.4" height="95" fill="#b3c9f8"/><rect x="366.4" y="612" width="4.4" height="95" fill="#5b8ff2"/><rect x="519.4" y="612" width="8.8" height="95" fill="#b3c9f8"/><rect x="528.1" y="612" width="4.4" height="95" fill="#5b8ff2"/><rect x="554.3" y="612" width="8.8" height="95" fill="#b3c9f8"/><rect x="563.1" y="612" width="4.4" height="95" fill="#5b8ff2"/><rect x="785.9" y="612" width="8.8" height="95" fill="#b3c9f8"/><rect x="794.6" y="612" width="4.4" height="95" fill="#5b8ff2"/><rect x="816.5" y="612" width="13.1" height="95" fill="#b3c9f8"/><rect x="829.6" y="612" width="4.4" height="95" fill="#5b8ff2"/><rect x="1052.4" y="612" width="13.1" height="95" fill="#b3c9f8"/><rect x="1065.6" y="612" width="4.4" height="95" fill="#5b8ff2"/><rect x="1126.7" y="612" width="17.5" height="95" fill="#b3c9f8"/><rect x="1144.2" y="612" width="4.4" height="95" fill="#5b8ff2"/><rect x="1515.6" y="612" width="8.8" height="95" fill="#fcc5c9"/><rect x="1524.4" y="612" width="4.4" height="95" fill="#f77c80"/><rect x="1638.0" y="612" width="8.8" height="95" fill="#fcc5c9"/><rect x="1646.7" y="612" width="4.4" height="95" fill="#f77c80"/><line x1="0" y1="625.8" x2="1777" y2="625.8" stroke="#81c784" stroke-width="1.3"/><line x1="0" y1="677.4" x2="1777" y2="677.4" stroke="#f77c80" stroke-width="1.2"/><line x1="0" y1="651.3" x2="1777" y2="651.3" stroke="#ff9800" stroke-width="1" stroke-dasharray="1,2.5"/><polygon points="0.0,641.9 6.0,646.0 10.3,651.5 14.7,663.9 19.1,681.1 23.4,678.0 27.8,677.0 32.2,683.4 36.6,681.7 40.9,683.0 45.3,689.3 49.7,688.6 54.0,687.1 58.4,691.4 59.8,685.9 59.8,685.9 58.4,686.3 54.0,684.3 49.7,683.0 45.3,681.9 40.9,678.3 36.6,673.8 32.2,668.7 27.8,662.8 23.4,656.3 19.1,649.7 14.7,642.7 10.3,638.1 6.0,635.3 0.0,633.3" fill="rgba(242,54,69,0.6)"/><polygon points="59.8,685.9 62.8,673.8 67.1,660.9 71.5,648.5 75.9,654.3 80.3,646.4 84.6,652.5 89.0,644.3 93.4,640.2 97.7,645.9 99.1,647.6 99.1,647.6 97.7,647.5 93.4,649.6 89.0,654.4 84.6,661.1 80.3,666.1 75.9,672.1 71.5,677.1 67.1,682.0 62.8,685.0 59.8,685.9" fill="rgba(56,160,72,0.65)"/><polygon points="99.1,647.6 102.1,651.0 106.5,654.7 110.8,660.3 115.2,653.1 119.6,652.1 120.5,651.3 120.5,651.3 119.6,651.0 115.2,649.9 110.8,649.8 106.5,647.9 102.1,647.8 99.1,647.6" fill="rgba(242,54,69,0.6)"/><polygon points="120.5,651.3 123.9,648.6 128.3,649.4 132.7,647.1 137.1,644.9 139.8,650.2 139.8,650.2 137.1,650.8 132.7,652.2 128.3,652.7 123.9,652.2 120.5,651.3" fill="rgba(56,160,72,0.65)"/><polygon points="139.8,650.2 141.4,653.3 145.8,656.2 150.2,653.9 154.5,657.4 158.9,658.2 162.6,653.7 162.6,653.7 158.9,653.0 154.5,651.8 150.2,650.5 145.8,650.2 141.4,649.8 139.8,650.2" fill="rgba(242,54,69,0.6)"/><polygon points="162.6,653.7 163.3,652.9 167.6,651.0 169.8,655.1 169.8,655.1 167.6,654.7 163.3,653.8 162.6,653.7" fill="rgba(56,160,72,0.65)"/><polygon points="169.8,655.1 172.0,659.3 173.7,655.1 173.7,655.1 172.0,655.6 169.8,655.1" fill="rgba(242,54,69,0.6)"/><polygon points="173.7,655.1 176.4,648.5 180.7,653.8 185.1,653.6 189.5,652.9 193.9,646.0 198.2,645.8 200.5,651.2 200.5,651.2 198.2,651.4 193.9,652.1 189.5,653.1 185.1,653.9 180.7,654.4 176.4,654.5 173.7,655.1" fill="rgba(56,160,72,0.65)"/><polygon points="200.5,651.2 202.6,656.1 207.0,663.2 211.3,659.6 215.7,657.9 220.1,663.8 224.4,668.2 228.8,664.0 229.9,661.8 229.9,661.8 228.8,661.8 224.4,659.2 220.1,656.1 215.7,654.5 211.3,653.9 207.0,653.0 202.6,650.9 200.5,651.2" fill="rgba(242,54,69,0.6)"/><polygon points="229.9,661.8 233.2,655.4 237.6,652.7 241.9,654.8 246.3,652.4 249.9,658.2 249.9,658.2 246.3,658.7 241.9,659.5 237.6,660.2 233.2,661.7 229.9,661.8" fill="rgba(56,160,72,0.65)"/><polygon points="249.9,658.2 250.7,659.5 255.0,664.0 259.4,667.4 263.8,673.9 268.1,674.0 271.8,664.7 271.8,664.7 268.1,663.7 263.8,660.7 259.4,658.0 255.0,657.5 250.7,658.1 249.9,658.2" fill="rgba(242,54,69,0.6)"/><polygon points="271.8,664.7 272.5,662.8 273.9,665.7 273.9,665.7 272.5,664.9 271.8,664.7" fill="rgba(56,160,72,0.65)"/><polygon points="273.9,665.7 276.9,672.1 281.2,678.6 285.6,680.6 290.0,684.8 294.4,686.5 298.7,689.6 303.1,685.1 304.5,682.7 304.5,682.7 303.1,682.5 298.7,679.3 294.4,677.1 290.0,675.3 285.6,672.8 281.2,670.4 276.9,667.7 273.9,665.7" fill="rgba(242,54,69,0.6)"/><polygon points="304.5,682.7 307.5,677.5 311.8,675.6 316.2,680.2 320.6,662.8 324.9,664.8 329.3,669.8 333.2,672.1 333.2,672.1 329.3,673.7 324.9,676.5 320.6,679.6 316.2,682.8 311.8,682.8 307.5,683.2 304.5,682.7" fill="rgba(56,160,72,0.65)"/><polygon points="333.2,672.1 333.7,672.4 333.9,671.7 333.9,671.7 333.7,671.9 333.2,672.1" fill="rgba(242,54,69,0.6)"/><polygon points="333.9,671.7 338.1,661.2 342.4,666.0 344.1,667.6 344.1,667.6 342.4,668.2 338.1,669.6 333.9,671.7" fill="rgba(56,160,72,0.65)"/><polygon points="344.1,667.6 346.8,670.1 351.2,672.3 355.5,674.2 359.9,672.5 364.3,678.4 368.6,674.0 369.5,672.5 369.5,672.5 368.6,672.5 364.3,670.7 359.9,669.8 355.5,669.4 351.2,668.1 346.8,666.7 344.1,667.6" fill="rgba(242,54,69,0.6)"/><polygon points="369.5,672.5 373.0,666.3 377.4,661.0 381.7,656.7 386.1,653.4 390.5,653.7 394.9,653.6 399.2,651.3 403.5,655.0 403.5,655.0 399.2,656.6 394.9,659.8 390.5,663.3 386.1,666.0 381.7,669.0 377.4,671.2 373.0,672.5 369.5,672.5" fill="rgba(56,160,72,0.65)"/><polygon points="403.5,655.0 403.6,655.1 403.6,654.9 403.6,654.9 403.6,655.0 403.5,655.0" fill="rgba(242,54,69,0.6)"/><polygon points="403.6,654.9 408.0,643.1 412.3,643.3 416.7,635.4 421.1,632.2 425.4,634.2 429.8,629.5 434.2,635.5 438.6,633.4 442.9,633.3 447.3,632.2 451.7,631.5 452.1,633.0 452.1,633.0 451.7,632.8 447.3,632.9 442.9,633.4 438.6,634.8 434.2,636.2 429.8,639.0 425.4,642.1 421.1,644.8 416.7,647.9 412.3,650.5 408.0,652.4 403.6,654.9" fill="rgba(56,160,72,0.65)"/><polygon points="452.1,633.0 456.0,645.1 460.4,642.2 464.8,645.8 469.1,651.5 473.5,653.4 477.9,661.9 482.2,652.2 486.6,655.1 489.8,652.7 489.8,652.7 486.6,651.7 482.2,650.3 477.9,647.3 473.5,643.1 469.1,640.2 464.8,637.6 460.4,636.2 456.0,634.4 452.1,633.0" fill="rgba(242,54,69,0.6)"/><polygon points="489.8,652.7 491.0,651.9 491.9,653.5 491.9,653.5 491.0,653.1 489.8,652.7" fill="rgba(56,160,72,0.65)"/><polygon points="491.9,653.5 495.4,659.5 499.7,655.7 499.9,655.7 499.9,655.7 499.7,655.7 495.4,655.1 491.9,653.5" fill="rgba(242,54,69,0.6)"/><polygon points="499.9,655.7 504.1,654.6 505.9,655.6 505.9,655.6 504.1,655.9 499.9,655.7" fill="rgba(56,160,72,0.65)"/><polygon points="505.9,655.6 508.5,656.9 512.8,661.9 517.2,673.0 521.6,680.2 525.9,683.2 530.3,672.0 534.7,674.2 536.6,672.5 536.6,672.5 534.7,671.6 530.3,668.8 525.9,666.5 521.6,663.1 517.2,659.1 512.8,656.5 508.5,655.1 505.9,655.6" fill="rgba(242,54,69,0.6)"/><polygon points="536.6,672.5 539.0,670.4 543.4,670.5 547.8,670.8 550.6,674.1 550.6,674.1 547.8,674.5 543.4,674.8 539.0,673.6 536.6,672.5" fill="rgba(56,160,72,0.65)"/><polygon points="550.6,674.1 552.2,675.8 556.5,679.9 560.9,678.4 562.5,673.8 562.5,673.8 560.9,674.3 556.5,673.4 552.2,673.9 550.6,674.1" fill="rgba(242,54,69,0.6)"/><polygon points="562.5,673.8 565.3,665.8 569.6,661.2 574.0,666.2 578.4,664.1 582.7,659.0 587.1,664.6 591.5,656.1 595.9,656.2 600.2,650.5 604.6,649.5 609.0,646.7 613.3,647.2 617.7,647.2 622.1,636.1 626.4,633.5 630.8,634.8 635.2,632.8 639.5,632.0 643.9,629.7 648.3,626.0 652.7,628.9 654.0,631.2 654.0,631.2 652.7,631.1 648.3,632.1 643.9,635.1 639.5,637.6 635.2,639.7 630.8,642.1 626.4,644.4 622.1,647.6 617.7,650.5 613.3,653.0 609.0,654.7 604.6,657.2 600.2,659.5 595.9,661.1 591.5,662.4 587.1,665.6 582.7,667.8 578.4,670.2 574.0,671.2 569.6,671.8 565.3,673.1 562.5,673.8" fill="rgba(56,160,72,0.65)"/><polygon points="654.0,631.2 657.0,636.7 661.4,632.5 665.8,632.7 670.1,637.4 674.5,645.4 678.9,647.4 683.2,652.0 687.6,657.9 692.0,659.9 696.4,668.3 700.7,668.4 705.1,666.4 709.5,666.9 711.1,663.1 711.1,663.1 709.5,662.8 705.1,660.1 700.7,657.1 696.4,652.6 692.0,647.5 687.6,643.6 683.2,640.6 678.9,637.3 674.5,634.2 670.1,632.0 665.8,631.2 661.4,631.2 657.0,631.6 654.0,631.2" fill="rgba(242,54,69,0.6)"/><polygon points="711.1,663.1 713.8,656.6 718.2,658.5 722.6,663.4 724.4,663.8 724.4,663.8 722.6,664.1 718.2,663.6 713.8,663.5 711.1,663.1" fill="rgba(56,160,72,0.65)"/><polygon points="724.4,663.8 726.9,664.5 731.3,671.5 735.7,671.6 740.0,667.5 744.4,667.8 748.8,668.0 753.2,669.3 753.3,668.5 753.3,668.5 753.2,668.6 748.8,667.7 744.4,666.4 740.0,664.8 735.7,664.7 731.3,664.0 726.9,663.5 724.4,663.8" fill="rgba(242,54,69,0.6)"/><polygon points="753.3,668.5 757.5,649.2 761.9,654.3 766.3,660.1 770.6,660.2 771.0,661.3 771.0,661.3 770.6,661.3 766.3,662.3 761.9,663.9 757.5,666.4 753.3,668.5" fill="rgba(56,160,72,0.65)"/><polygon points="771.0,661.3 775.0,672.8 779.4,676.7 783.7,674.5 788.1,678.5 792.5,678.7 794.1,671.6 794.1,671.6 792.5,671.6 788.1,668.1 783.7,664.0 779.4,663.2 775.0,662.0 771.0,661.3" fill="rgba(242,54,69,0.6)"/><polygon points="794.1,671.6 796.8,659.0 801.2,661.7 805.6,667.0 810.0,665.0 814.3,666.6 814.6,668.2 814.6,668.2 814.3,668.1 810.0,669.2 805.6,670.9 801.2,671.7 796.8,671.5 794.1,671.6" fill="rgba(56,160,72,0.65)"/><polygon points="814.6,668.2 818.7,694.5 823.1,694.6 827.4,698.1 830.4,679.0 830.4,679.0 827.4,678.2 823.1,672.6 818.7,670.3 814.6,668.2" fill="rgba(242,54,69,0.6)"/><polygon points="830.4,679.0 831.8,670.1 836.2,657.6 840.5,655.2 844.9,655.0 849.3,656.5 853.7,655.0 858.0,651.3 862.4,652.6 866.8,645.0 870.7,652.7 870.7,652.7 866.8,652.9 862.4,654.7 858.0,657.2 853.7,663.9 849.3,669.6 844.9,675.0 840.5,676.7 836.2,678.1 831.8,679.4 830.4,679.0" fill="rgba(56,160,72,0.65)"/><polygon points="870.7,652.7 871.1,653.4 875.5,655.3 879.9,652.3 880.0,652.1 880.0,652.1 879.9,652.1 875.5,652.7 871.1,652.7 870.7,652.7" fill="rgba(242,54,69,0.6)"/><polygon points="880.0,652.1 884.2,646.1 888.6,650.7 889.2,650.7 889.2,650.7 888.6,650.8 884.2,650.9 880.0,652.1" fill="rgba(56,160,72,0.65)"/><polygon points="889.2,650.7 893.0,651.1 897.3,655.8 901.7,657.7 906.1,653.3 910.5,658.9 912.8,653.6 912.8,653.6 910.5,653.4 906.1,652.4 901.7,652.7 897.3,652.1 893.0,650.6 889.2,650.7" fill="rgba(242,54,69,0.6)"/><polygon points="912.8,653.6 914.8,648.9 919.2,648.0 923.6,644.3 927.9,643.0 932.3,644.9 936.7,640.8 941.0,640.6 942.7,644.5 942.7,644.5 941.0,644.4 936.7,647.0 932.3,648.8 927.9,650.6 923.6,652.4 919.2,653.4 914.8,653.8 912.8,653.6" fill="rgba(56,160,72,0.65)"/><polygon points="942.7,644.5 945.4,651.0 949.8,650.7 954.2,654.5 958.5,657.2 962.9,656.3 967.3,660.2 971.6,661.4 976.0,664.1 980.4,663.9 984.2,660.3 984.2,660.3 980.4,659.7 976.0,657.8 971.6,655.9 967.3,652.9 962.9,650.2 958.5,648.5 954.2,646.5 949.8,645.1 945.4,644.7 942.7,644.5" fill="rgba(242,54,69,0.6)"/><polygon points="984.2,660.3 984.7,659.8 989.1,649.4 993.5,650.4 997.8,648.9 1001.4,656.5 1001.4,656.5 997.8,656.8 993.5,658.5 989.1,659.3 984.7,660.4 984.2,660.3" fill="rgba(56,160,72,0.65)"/><polygon points="1001.4,656.5 1002.2,658.2 1006.6,662.9 1011.0,667.9 1015.3,669.5 1019.7,672.1 1024.1,664.4 1028.4,669.9 1032.8,669.5 1037.2,674.8 1041.5,672.7 1045.9,673.5 1050.3,676.3 1054.6,680.1 1059.0,682.1 1063.4,683.1 1065.0,677.1 1065.0,677.1 1063.4,677.5 1059.0,675.6 1054.6,673.8 1050.3,671.6 1045.9,671.0 1041.5,670.4 1037.2,669.7 1032.8,668.0 1028.4,666.4 1024.1,663.4 1019.7,661.4 1015.3,658.2 1011.0,656.8 1006.6,656.2 1002.2,656.4 1001.4,656.5" fill="rgba(242,54,69,0.6)"/><polygon points="1065.0,677.1 1067.8,666.9 1072.1,673.8 1076.5,660.6 1080.9,667.8 1085.2,664.4 1089.6,665.3 1094.0,655.9 1098.3,653.4 1102.7,652.6 1107.1,656.7 1108.5,659.3 1108.5,659.3 1107.1,659.5 1102.7,660.0 1098.3,663.0 1094.0,665.0 1089.6,668.8 1085.2,671.2 1080.9,673.5 1076.5,674.7 1072.1,676.5 1067.8,676.4 1065.0,677.1" fill="rgba(56,160,72,0.65)"/><polygon points="1108.5,659.3 1111.5,664.7 1115.8,666.2 1120.2,672.3 1124.6,672.6 1128.9,678.3 1133.3,680.3 1137.7,679.2 1142.0,680.4 1143.9,675.8 1143.9,675.8 1142.0,675.6 1137.7,673.4 1133.3,670.2 1128.9,666.2 1124.6,662.7 1120.2,660.3 1115.8,659.3 1111.5,659.0 1108.5,659.3" fill="rgba(242,54,69,0.6)"/><polygon points="1143.9,675.8 1146.4,669.6 1150.8,668.4 1155.1,658.3 1159.5,654.1 1163.9,655.0 1168.3,662.0 1169.7,663.3 1169.7,663.3 1168.3,664.0 1163.9,666.4 1159.5,670.1 1155.1,673.5 1150.8,675.6 1146.4,676.1 1143.9,675.8" fill="rgba(56,160,72,0.65)"/><polygon points="1169.7,663.3 1172.6,666.2 1177.0,667.4 1181.4,668.3 1185.7,673.6 1190.1,670.4 1194.5,669.1 1194.8,668.1 1194.8,668.1 1194.5,668.1 1190.1,666.1 1185.7,663.8 1181.4,661.6 1177.0,661.6 1172.6,661.9 1169.7,663.3" fill="rgba(242,54,69,0.6)"/><polygon points="1194.8,668.1 1198.8,654.6 1203.2,652.6 1207.6,645.2 1212.0,637.0 1216.3,634.8 1220.7,634.2 1224.8,643.4 1224.8,643.4 1220.7,646.8 1216.3,652.0 1212.0,657.5 1207.6,662.0 1203.2,665.1 1198.8,667.1 1194.8,668.1" fill="rgba(56,160,72,0.65)"/><polygon points="1224.8,643.4 1225.1,644.0 1229.4,643.9 1231.9,640.5 1231.9,640.5 1229.4,641.7 1225.1,643.2 1224.8,643.4" fill="rgba(242,54,69,0.6)"/><polygon points="1231.9,640.5 1233.8,637.9 1238.2,638.6 1238.2,638.6 1238.2,638.6 1238.2,638.6 1233.8,639.6 1231.9,640.5" fill="rgba(56,160,72,0.65)"/><polygon points="1238.2,638.6 1242.5,642.7 1246.9,643.0 1251.3,646.8 1254.7,642.0 1254.7,642.0 1251.3,642.4 1246.9,640.6 1242.5,639.4 1238.2,638.6" fill="rgba(242,54,69,0.6)"/><polygon points="1254.7,642.0 1255.6,640.7 1260.0,641.0 1260.5,641.7 1260.5,641.7 1260.0,641.5 1255.6,641.9 1254.7,642.0" fill="rgba(56,160,72,0.65)"/><polygon points="1260.5,641.7 1264.4,647.1 1268.8,647.1 1273.1,657.3 1277.5,660.7 1281.9,664.0 1286.2,668.7 1290.6,667.1 1293.8,659.9 1293.8,659.9 1290.6,658.9 1286.2,655.1 1281.9,651.1 1277.5,648.7 1273.1,646.1 1268.8,644.1 1264.4,642.8 1260.5,641.7" fill="rgba(242,54,69,0.6)"/><polygon points="1293.8,659.9 1295.0,657.1 1299.3,641.2 1303.7,630.7 1308.1,634.7 1312.5,632.0 1316.8,629.7 1321.2,629.9 1323.3,635.4 1323.3,635.4 1321.2,636.5 1316.8,641.8 1312.5,647.4 1308.1,651.9 1303.7,655.6 1299.3,659.4 1295.0,660.3 1293.8,659.9" fill="rgba(56,160,72,0.65)"/><polygon points="1323.3,635.4 1325.6,641.5 1329.9,640.3 1334.3,641.4 1338.7,640.3 1343.0,638.9 1347.4,645.7 1351.8,647.1 1356.1,643.0 1357.9,642.5 1357.9,642.5 1356.1,642.4 1351.8,642.2 1347.4,639.7 1343.0,637.4 1338.7,636.4 1334.3,635.6 1329.9,634.1 1325.6,634.2 1323.3,635.4" fill="rgba(242,54,69,0.6)"/><polygon points="1357.9,642.5 1360.5,641.6 1364.9,641.8 1369.3,641.4 1373.6,636.6 1378.0,633.4 1382.4,635.3 1383.5,639.3 1383.5,639.3 1382.4,639.0 1378.0,640.7 1373.6,642.5 1369.3,642.8 1364.9,642.6 1360.5,642.6 1357.9,642.5" fill="rgba(56,160,72,0.65)"/><polygon points="1383.5,639.3 1386.7,650.0 1391.1,643.0 1393.3,639.9 1393.3,639.9 1391.1,640.2 1386.7,640.0 1383.5,639.3" fill="rgba(242,54,69,0.6)"/><polygon points="1393.3,639.9 1395.5,636.7 1399.8,634.5 1402.3,639.0 1402.3,639.0 1399.8,638.5 1395.5,639.5 1393.3,639.9" fill="rgba(56,160,72,0.65)"/><polygon points="1402.3,639.0 1404.2,642.3 1407.1,639.8 1407.1,639.8 1404.2,639.3 1402.3,639.0" fill="rgba(242,54,69,0.6)"/><polygon points="1407.1,639.8 1408.6,638.5 1412.9,636.7 1416.0,639.3 1416.0,639.3 1412.9,640.2 1408.6,640.0 1407.1,639.8" fill="rgba(56,160,72,0.65)"/><polygon points="1416.0,639.3 1417.3,640.4 1421.7,640.5 1426.1,640.5 1430.4,656.1 1434.8,655.0 1439.2,657.0 1443.5,653.0 1446.6,649.8 1446.6,649.8 1443.5,648.9 1439.2,646.6 1434.8,644.0 1430.4,642.2 1426.1,639.1 1421.7,638.5 1417.3,638.9 1416.0,639.3" fill="rgba(242,54,69,0.6)"/><polygon points="1446.6,649.8 1447.9,648.5 1452.3,639.5 1456.6,641.8 1461.0,636.0 1465.4,635.5 1469.8,632.9 1474.1,633.1 1476.1,637.9 1476.1,637.9 1474.1,638.2 1469.8,641.0 1465.4,644.5 1461.0,647.2 1456.6,650.1 1452.3,649.9 1447.9,650.1 1446.6,649.8" fill="rgba(56,160,72,0.65)"/><polygon points="1476.1,637.9 1478.5,643.9 1482.9,652.8 1487.2,642.4 1491.6,643.9 1493.8,640.8 1493.8,640.8 1491.6,640.6 1487.2,639.5 1482.9,639.4 1478.5,637.5 1476.1,637.9" fill="rgba(242,54,69,0.6)"/><polygon points="1493.8,640.8 1496.0,637.6 1500.3,633.1 1504.7,630.8 1509.1,627.5 1513.4,625.5 1517.8,624.6 1522.2,621.5 1524.6,628.4 1524.6,628.4 1522.2,628.7 1517.8,631.9 1513.4,634.4 1509.1,638.3 1504.7,640.6 1500.3,641.0 1496.0,640.9 1493.8,640.8" fill="rgba(56,160,72,0.65)"/><polygon points="1524.6,628.4 1526.6,634.2 1530.9,639.3 1535.3,642.6 1539.7,635.1 1544.0,641.3 1548.4,642.1 1552.8,641.1 1554.4,639.5 1554.4,639.5 1552.8,639.4 1548.4,636.6 1544.0,634.1 1539.7,631.8 1535.3,630.8 1530.9,629.1 1526.6,628.2 1524.6,628.4" fill="rgba(242,54,69,0.6)"/><polygon points="1554.4,639.5 1557.1,636.8 1561.5,635.4 1565.9,635.0 1568.4,638.6 1568.4,638.6 1565.9,638.1 1561.5,639.2 1557.1,639.8 1554.4,639.5" fill="rgba(56,160,72,0.65)"/><polygon points="1568.4,638.6 1570.3,641.2 1574.6,648.2 1579.0,644.5 1583.4,642.7 1587.7,645.0 1590.9,642.3 1590.9,642.3 1587.7,641.7 1583.4,640.5 1579.0,640.3 1574.6,640.0 1570.3,639.0 1568.4,638.6" fill="rgba(242,54,69,0.6)"/><polygon points="1590.9,642.3 1592.1,641.3 1596.5,632.9 1600.8,636.6 1605.2,634.0 1609.6,634.7 1613.9,626.8 1618.3,633.0 1620.0,633.8 1620.0,633.8 1618.3,634.2 1613.9,635.9 1609.6,638.2 1605.2,639.6 1600.8,641.6 1596.5,642.3 1592.1,642.6 1590.9,642.3" fill="rgba(56,160,72,0.65)"/><polygon points="1620.0,633.8 1622.7,635.1 1627.1,637.5 1630.7,633.5 1630.7,633.5 1627.1,634.0 1622.7,633.3 1620.0,633.8" fill="rgba(242,54,69,0.6)"/><polygon points="1630.7,633.5 1631.4,632.6 1635.8,629.5 1640.2,624.8 1644.5,623.9 1647.3,631.1 1647.3,631.1 1644.5,630.9 1640.2,631.3 1635.8,632.8 1631.4,633.4 1630.7,633.5" fill="rgba(56,160,72,0.65)"/><polygon points="1647.3,631.1 1648.9,635.4 1653.3,635.2 1657.6,634.1 1662.0,635.8 1666.4,647.8 1670.7,652.9 1675.1,650.4 1679.5,647.1 1682.9,644.3 1682.9,644.3 1679.5,643.3 1675.1,641.6 1670.7,637.9 1666.4,633.8 1662.0,631.2 1657.6,630.8 1653.3,631.3 1648.9,631.3 1647.3,631.1" fill="rgba(242,54,69,0.6)"/><polygon points="1682.9,644.3 1683.9,643.5 1688.2,640.2 1691.6,646.8 1691.6,646.8 1688.2,645.4 1683.9,644.5 1682.9,644.3" fill="rgba(56,160,72,0.65)"/><polygon points="1691.6,646.8 1692.6,648.7 1693.6,647.0 1693.6,647.0 1692.6,647.2 1691.6,646.8" fill="rgba(242,54,69,0.6)"/><polygon points="1693.6,647.0 1697.0,641.4 1698.9,646.3 1698.9,646.3 1697.0,646.3 1693.6,647.0" fill="rgba(56,160,72,0.65)"/><polygon points="1698.9,646.3 1701.3,652.5 1705.7,648.3 1710.1,646.6 1714.4,650.6 1716.7,647.2 1716.7,647.2 1714.4,646.9 1710.1,645.9 1705.7,645.9 1701.3,646.3 1698.9,646.3" fill="rgba(242,54,69,0.6)"/><polygon points="1716.7,647.2 1718.8,643.9 1720.2,647.8 1720.2,647.8 1718.8,647.4 1716.7,647.2" fill="rgba(56,160,72,0.65)"/><polygon points="1720.2,647.8 1723.2,655.8 1727.6,656.7 1730.9,650.2 1730.9,650.2 1727.6,650.6 1723.2,648.4 1720.2,647.8" fill="rgba(242,54,69,0.6)"/><polygon points="1730.9,650.2 1731.9,648.2 1736.3,649.4 1740.7,649.4 1745.0,649.4 1749.4,649.4 1753.8,649.4 1753.8,650.3 1749.4,651.2 1745.0,650.4 1740.7,650.6 1736.3,650.2 1731.9,650.0 1730.9,650.2" fill="rgba(56,160,72,0.65)"/><polyline points="0.0,633.3 6.0,635.3 10.3,638.1 14.7,642.7 19.1,649.7 23.4,656.3 27.8,662.8 32.2,668.7 36.6,673.8 40.9,678.3 45.3,681.9 49.7,683.0 54.0,684.3 58.4,686.3 62.8,685.0 67.1,682.0 71.5,677.1 75.9,672.1 80.3,666.1 84.6,661.1 89.0,654.4 93.4,649.6 97.7,647.5 102.1,647.8 106.5,647.9 110.8,649.8 115.2,649.9 119.6,651.0 123.9,652.2 128.3,652.7 132.7,652.2 137.1,650.8 141.4,649.8 145.8,650.2 150.2,650.5 154.5,651.8 158.9,653.0 163.3,653.8 167.6,654.7 172.0,655.6 176.4,654.5 180.7,654.4 185.1,653.9 189.5,653.1 193.9,652.1 198.2,651.4 202.6,650.9 207.0,653.0 211.3,653.9 215.7,654.5 220.1,656.1 224.4,659.2 228.8,661.8 233.2,661.7 237.6,660.2 241.9,659.5 246.3,658.7 250.7,658.1 255.0,657.5 259.4,658.0 263.8,660.7 268.1,663.7 272.5,664.9 276.9,667.7 281.2,670.4 285.6,672.8 290.0,675.3 294.4,677.1 298.7,679.3 303.1,682.5 307.5,683.2 311.8,682.8 316.2,682.8 320.6,679.6 324.9,676.5 329.3,673.7 333.7,671.9 338.1,669.6 342.4,668.2 346.8,666.7 351.2,668.1 355.5,669.4 359.9,669.8 364.3,670.7 368.6,672.5 373.0,672.5 377.4,671.2 381.7,669.0 386.1,666.0 390.5,663.3 394.9,659.8 399.2,656.6 403.6,655.0 408.0,652.4 412.3,650.5 416.7,647.9 421.1,644.8 425.4,642.1 429.8,639.0 434.2,636.2 438.6,634.8 442.9,633.4 447.3,632.9 451.7,632.8 456.0,634.4 460.4,636.2 464.8,637.6 469.1,640.2 473.5,643.1 477.9,647.3 482.2,650.3 486.6,651.7 491.0,653.1 495.4,655.1 499.7,655.7 504.1,655.9 508.5,655.1 512.8,656.5 517.2,659.1 521.6,663.1 525.9,666.5 530.3,668.8 534.7,671.6 539.0,673.6 543.4,674.8 547.8,674.5 552.2,673.9 556.5,673.4 560.9,674.3 565.3,673.1 569.6,671.8 574.0,671.2 578.4,670.2 582.7,667.8 587.1,665.6 591.5,662.4 595.9,661.1 600.2,659.5 604.6,657.2 609.0,654.7 613.3,653.0 617.7,650.5 622.1,647.6 626.4,644.4 630.8,642.1 635.2,639.7 639.5,637.6 643.9,635.1 648.3,632.1 652.7,631.1 657.0,631.6 661.4,631.2 665.8,631.2 670.1,632.0 674.5,634.2 678.9,637.3 683.2,640.6 687.6,643.6 692.0,647.5 696.4,652.6 700.7,657.1 705.1,660.1 709.5,662.8 713.8,663.5 718.2,663.6 722.6,664.1 726.9,663.5 731.3,664.0 735.7,664.7 740.0,664.8 744.4,666.4 748.8,667.7 753.2,668.6 757.5,666.4 761.9,663.9 766.3,662.3 770.6,661.3 775.0,662.0 779.4,663.2 783.7,664.0 788.1,668.1 792.5,671.6 796.8,671.5 801.2,671.7 805.6,670.9 810.0,669.2 814.3,668.1 818.7,670.3 823.1,672.6 827.4,678.2 831.8,679.4 836.2,678.1 840.5,676.7 844.9,675.0 849.3,669.6 853.7,663.9 858.0,657.2 862.4,654.7 866.8,652.9 871.1,652.7 875.5,652.7 879.9,652.1 884.2,650.9 888.6,650.8 893.0,650.6 897.3,652.1 901.7,652.7 906.1,652.4 910.5,653.4 914.8,653.8 919.2,653.4 923.6,652.4 927.9,650.6 932.3,648.8 936.7,647.0 941.0,644.4 945.4,644.7 949.8,645.1 954.2,646.5 958.5,648.5 962.9,650.2 967.3,652.9 971.6,655.9 976.0,657.8 980.4,659.7 984.7,660.4 989.1,659.3 993.5,658.5 997.8,656.8 1002.2,656.4 1006.6,656.2 1011.0,656.8 1015.3,658.2 1019.7,661.4 1024.1,663.4 1028.4,666.4 1032.8,668.0 1037.2,669.7 1041.5,670.4 1045.9,671.0 1050.3,671.6 1054.6,673.8 1059.0,675.6 1063.4,677.5 1067.8,676.4 1072.1,676.5 1076.5,674.7 1080.9,673.5 1085.2,671.2 1089.6,668.8 1094.0,665.0 1098.3,663.0 1102.7,660.0 1107.1,659.5 1111.5,659.0 1115.8,659.3 1120.2,660.3 1124.6,662.7 1128.9,666.2 1133.3,670.2 1137.7,673.4 1142.0,675.6 1146.4,676.1 1150.8,675.6 1155.1,673.5 1159.5,670.1 1163.9,666.4 1168.3,664.0 1172.6,661.9 1177.0,661.6 1181.4,661.6 1185.7,663.8 1190.1,666.1 1194.5,668.1 1198.8,667.1 1203.2,665.1 1207.6,662.0 1212.0,657.5 1216.3,652.0 1220.7,646.8 1225.1,643.2 1229.4,641.7 1233.8,639.6 1238.2,638.6 1242.5,639.4 1246.9,640.6 1251.3,642.4 1255.6,641.9 1260.0,641.5 1264.4,642.8 1268.8,644.1 1273.1,646.1 1277.5,648.7 1281.9,651.1 1286.2,655.1 1290.6,658.9 1295.0,660.3 1299.3,659.4 1303.7,655.6 1308.1,651.9 1312.5,647.4 1316.8,641.8 1321.2,636.5 1325.6,634.2 1329.9,634.1 1334.3,635.6 1338.7,636.4 1343.0,637.4 1347.4,639.7 1351.8,642.2 1356.1,642.4 1360.5,642.6 1364.9,642.6 1369.3,642.8 1373.6,642.5 1378.0,640.7 1382.4,639.0 1386.7,640.0 1391.1,640.2 1395.5,639.5 1399.8,638.5 1404.2,639.3 1408.6,640.0 1412.9,640.2 1417.3,638.9 1421.7,638.5 1426.1,639.1 1430.4,642.2 1434.8,644.0 1439.2,646.6 1443.5,648.9 1447.9,650.1 1452.3,649.9 1456.6,650.1 1461.0,647.2 1465.4,644.5 1469.8,641.0 1474.1,638.2 1478.5,637.5 1482.9,639.4 1487.2,639.5 1491.6,640.6 1496.0,640.9 1500.3,641.0 1504.7,640.6 1509.1,638.3 1513.4,634.4 1517.8,631.9 1522.2,628.7 1526.6,628.2 1530.9,629.1 1535.3,630.8 1539.7,631.8 1544.0,634.1 1548.4,636.6 1552.8,639.4 1557.1,639.8 1561.5,639.2 1565.9,638.1 1570.3,639.0 1574.6,640.0 1579.0,640.3 1583.4,640.5 1587.7,641.7 1592.1,642.6 1596.5,642.3 1600.8,641.6 1605.2,639.6 1609.6,638.2 1613.9,635.9 1618.3,634.2 1622.7,633.3 1627.1,634.0 1631.4,633.4 1635.8,632.8 1640.2,631.3 1644.5,630.9 1648.9,631.3 1653.3,631.3 1657.6,630.8 1662.0,631.2 1666.4,633.8 1670.7,637.9 1675.1,641.6 1679.5,643.3 1683.9,644.5 1688.2,645.4 1692.6,647.2 1697.0,646.3 1701.3,646.3 1705.7,645.9 1710.1,645.9 1714.4,646.9 1718.8,647.4 1723.2,648.4 1727.6,650.6 1731.9,650.0 1736.3,650.2 1740.7,650.6 1745.0,650.4 1749.4,651.2 1753.8,650.3" fill="none" stroke="#f05a64" stroke-width="1.1" stroke-linejoin="round" /><polyline points="0.0,641.9 6.0,646.0 10.3,651.5 14.7,663.9 19.1,681.1 23.4,678.0 27.8,677.0 32.2,683.4 36.6,681.7 40.9,683.0 45.3,689.3 49.7,688.6 54.0,687.1 58.4,691.4 62.8,673.8 67.1,660.9 71.5,648.5 75.9,654.3 80.3,646.4 84.6,652.5 89.0,644.3 93.4,640.2 97.7,645.9 102.1,651.0 106.5,654.7 110.8,660.3 115.2,653.1 119.6,652.1 123.9,648.6 128.3,649.4 132.7,647.1 137.1,644.9 141.4,653.3 145.8,656.2 150.2,653.9 154.5,657.4 158.9,658.2 163.3,652.9 167.6,651.0 172.0,659.3 176.4,648.5 180.7,653.8 185.1,653.6 189.5,652.9 193.9,646.0 198.2,645.8 202.6,656.1 207.0,663.2 211.3,659.6 215.7,657.9 220.1,663.8 224.4,668.2 228.8,664.0 233.2,655.4 237.6,652.7 241.9,654.8 246.3,652.4 250.7,659.5 255.0,664.0 259.4,667.4 263.8,673.9 268.1,674.0 272.5,662.8 276.9,672.1 281.2,678.6 285.6,680.6 290.0,684.8 294.4,686.5 298.7,689.6 303.1,685.1 307.5,677.5 311.8,675.6 316.2,680.2 320.6,662.8 324.9,664.8 329.3,669.8 333.7,672.4 338.1,661.2 342.4,666.0 346.8,670.1 351.2,672.3 355.5,674.2 359.9,672.5 364.3,678.4 368.6,674.0 373.0,666.3 377.4,661.0 381.7,656.7 386.1,653.4 390.5,653.7 394.9,653.6 399.2,651.3 403.6,655.1 408.0,643.1 412.3,643.3 416.7,635.4 421.1,632.2 425.4,634.2 429.8,629.5 434.2,635.5 438.6,633.4 442.9,633.3 447.3,632.2 451.7,631.5 456.0,645.1 460.4,642.2 464.8,645.8 469.1,651.5 473.5,653.4 477.9,661.9 482.2,652.2 486.6,655.1 491.0,651.9 495.4,659.5 499.7,655.7 504.1,654.6 508.5,656.9 512.8,661.9 517.2,673.0 521.6,680.2 525.9,683.2 530.3,672.0 534.7,674.2 539.0,670.4 543.4,670.5 547.8,670.8 552.2,675.8 556.5,679.9 560.9,678.4 565.3,665.8 569.6,661.2 574.0,666.2 578.4,664.1 582.7,659.0 587.1,664.6 591.5,656.1 595.9,656.2 600.2,650.5 604.6,649.5 609.0,646.7 613.3,647.2 617.7,647.2 622.1,636.1 626.4,633.5 630.8,634.8 635.2,632.8 639.5,632.0 643.9,629.7 648.3,626.0 652.7,628.9 657.0,636.7 661.4,632.5 665.8,632.7 670.1,637.4 674.5,645.4 678.9,647.4 683.2,652.0 687.6,657.9 692.0,659.9 696.4,668.3 700.7,668.4 705.1,666.4 709.5,666.9 713.8,656.6 718.2,658.5 722.6,663.4 726.9,664.5 731.3,671.5 735.7,671.6 740.0,667.5 744.4,667.8 748.8,668.0 753.2,669.3 757.5,649.2 761.9,654.3 766.3,660.1 770.6,660.2 775.0,672.8 779.4,676.7 783.7,674.5 788.1,678.5 792.5,678.7 796.8,659.0 801.2,661.7 805.6,667.0 810.0,665.0 814.3,666.6 818.7,694.5 823.1,694.6 827.4,698.1 831.8,670.1 836.2,657.6 840.5,655.2 844.9,655.0 849.3,656.5 853.7,655.0 858.0,651.3 862.4,652.6 866.8,645.0 871.1,653.4 875.5,655.3 879.9,652.3 884.2,646.1 888.6,650.7 893.0,651.1 897.3,655.8 901.7,657.7 906.1,653.3 910.5,658.9 914.8,648.9 919.2,648.0 923.6,644.3 927.9,643.0 932.3,644.9 936.7,640.8 941.0,640.6 945.4,651.0 949.8,650.7 954.2,654.5 958.5,657.2 962.9,656.3 967.3,660.2 971.6,661.4 976.0,664.1 980.4,663.9 984.7,659.8 989.1,649.4 993.5,650.4 997.8,648.9 1002.2,658.2 1006.6,662.9 1011.0,667.9 1015.3,669.5 1019.7,672.1 1024.1,664.4 1028.4,669.9 1032.8,669.5 1037.2,674.8 1041.5,672.7 1045.9,673.5 1050.3,676.3 1054.6,680.1 1059.0,682.1 1063.4,683.1 1067.8,666.9 1072.1,673.8 1076.5,660.6 1080.9,667.8 1085.2,664.4 1089.6,665.3 1094.0,655.9 1098.3,653.4 1102.7,652.6 1107.1,656.7 1111.5,664.7 1115.8,666.2 1120.2,672.3 1124.6,672.6 1128.9,678.3 1133.3,680.3 1137.7,679.2 1142.0,680.4 1146.4,669.6 1150.8,668.4 1155.1,658.3 1159.5,654.1 1163.9,655.0 1168.3,662.0 1172.6,666.2 1177.0,667.4 1181.4,668.3 1185.7,673.6 1190.1,670.4 1194.5,669.1 1198.8,654.6 1203.2,652.6 1207.6,645.2 1212.0,637.0 1216.3,634.8 1220.7,634.2 1225.1,644.0 1229.4,643.9 1233.8,637.9 1238.2,638.6 1242.5,642.7 1246.9,643.0 1251.3,646.8 1255.6,640.7 1260.0,641.0 1264.4,647.1 1268.8,647.1 1273.1,657.3 1277.5,660.7 1281.9,664.0 1286.2,668.7 1290.6,667.1 1295.0,657.1 1299.3,641.2 1303.7,630.7 1308.1,634.7 1312.5,632.0 1316.8,629.7 1321.2,629.9 1325.6,641.5 1329.9,640.3 1334.3,641.4 1338.7,640.3 1343.0,638.9 1347.4,645.7 1351.8,647.1 1356.1,643.0 1360.5,641.6 1364.9,641.8 1369.3,641.4 1373.6,636.6 1378.0,633.4 1382.4,635.3 1386.7,650.0 1391.1,643.0 1395.5,636.7 1399.8,634.5 1404.2,642.3 1408.6,638.5 1412.9,636.7 1417.3,640.4 1421.7,640.5 1426.1,640.5 1430.4,656.1 1434.8,655.0 1439.2,657.0 1443.5,653.0 1447.9,648.5 1452.3,639.5 1456.6,641.8 1461.0,636.0 1465.4,635.5 1469.8,632.9 1474.1,633.1 1478.5,643.9 1482.9,652.8 1487.2,642.4 1491.6,643.9 1496.0,637.6 1500.3,633.1 1504.7,630.8 1509.1,627.5 1513.4,625.5 1517.8,624.6 1522.2,621.5 1526.6,634.2 1530.9,639.3 1535.3,642.6 1539.7,635.1 1544.0,641.3 1548.4,642.1 1552.8,641.1 1557.1,636.8 1561.5,635.4 1565.9,635.0 1570.3,641.2 1574.6,648.2 1579.0,644.5 1583.4,642.7 1587.7,645.0 1592.1,641.3 1596.5,632.9 1600.8,636.6 1605.2,634.0 1609.6,634.7 1613.9,626.8 1618.3,633.0 1622.7,635.1 1627.1,637.5 1631.4,632.6 1635.8,629.5 1640.2,624.8 1644.5,623.9 1648.9,635.4 1653.3,635.2 1657.6,634.1 1662.0,635.8 1666.4,647.8 1670.7,652.9 1675.1,650.4 1679.5,647.1 1683.9,643.5 1688.2,640.2 1692.6,648.7 1697.0,641.4 1701.3,652.5 1705.7,648.3 1710.1,646.6 1714.4,650.6 1718.8,643.9 1723.2,655.8 1727.6,656.7 1731.9,648.2 1736.3,649.4 1740.7,649.4 1745.0,649.4 1749.4,649.4 1753.8,649.4" fill="none" stroke="#4a7cf0" stroke-width="1.1" stroke-linejoin="round" /><g fill="none" stroke="#2e9a44" stroke-width="1.8" stroke-linecap="round"><polyline points="298.5,689.4 364.7,678.5"/><polyline points="525.6,684.1 557,679.8"/><polyline points="1063.7,683.6 1100,682.6 1135,680.8 1160,677.8 1185.9,674.2"/></g></g><g clip-path="url(#c4)"><rect x="0" y="729.5" width="1777" height="51.2" fill="#f0eaf7"/><line x1="0" y1="729.5" x2="1777" y2="729.5" stroke="#787b86" stroke-width="1" stroke-dasharray="4,4"/><line x1="0" y1="755.2" x2="1777" y2="755.2" stroke="#787b86" stroke-width="1" stroke-dasharray="4,4"/><line x1="0" y1="780.6" x2="1777" y2="780.6" stroke="#787b86" stroke-width="1" stroke-dasharray="4,4"/><polyline points="0,741.6 6.3,749.1 12.6,757.9 20.2,775.6 21.4,780.1 25,781 30.1,778.5 32.6,776.4 36.4,776.6 40.3,778.6 49.1,781.9 54.2,782.4 58.4,784.4 65.5,782.4 73,779.8 79.3,774.3 83.9,742.3 88.7,744.8 93.2,761.2 109.6,754.9 120.4,741.6 136,742.3 141,748.4 145.6,748.4 154.9,761.2 158.7,760 167.5,747.1 180.1,747.4 185.1,753.4 204,753.7 206.5,754.7 211.6,747.4 219.1,747.9 228,761.2 231.7,755.4 238,755.4 241.8,760.7 246.3,755.9 259.4,773.6 273.3,773.3 289.7,775.1 298.5,786.1 306,785.6 312.3,780.1 316.1,780.1 324.9,768.5 328.7,768.8 333.8,774.6 337.5,768.5 353.9,767.5 360.2,760.7 372.8,760.7 377.8,753.7 385.4,753.7 390.4,749.6 403,749.6 416.9,730.2 428.2,729.7 434.5,737 453.4,738.3 455,738.5 460.1,744.8 463.9,745.3 477.7,763.7 481.5,764.2 486.5,757.4 494.8,757.9 499.1,762.9 504.2,764.7 513,776 525.6,776.8 530.6,767.9 538.2,757.1 543.7,762.1 547.5,762.1 552.8,767.2 560.8,767.9 568.4,762.1 578,761.1 582.2,755.3 587.3,753.6 596.1,756.1 599.9,756.1 604.4,750.3 608.7,755.8 622.5,735.9 630.1,735.9 639.4,723.4 644,723.4 649,717.6 652.8,717.6 657.1,723.9 669.1,724.6 671.7,726.4 683,742.7 700.6,765.4 705.7,765.4 709.4,772.5 718.3,771.7 727.1,783 735.9,782.5 742.2,774.2 749.7,765.9 753.5,765.4 761.6,753.6 766.1,759.9 769.9,759.9 774.9,767.4 778.7,767.4 783.8,761.6 792.1,762.1 797.1,755.3 800.1,755.3 809.7,766.2 814,766.2 824.1,784.3 827.1,784.3 834.1,775.5 840.4,767.4 844.2,771.2 854.3,762.4 856.8,762.4 862.3,766.7 866.9,762.4 875.2,763.4 883.8,742.2 888.3,740.2 902.1,758.4 905.5,752.8 910.1,757.9 917.6,759.9 923.9,754.1 931.5,752.1 936.5,744.8 940.3,744.8 945.3,752.1 957.4,752.8 962.5,747.3 967.5,753.3 971.8,753.6 980.6,763.4 983.1,763.4 988.7,765.9 993.2,759.9 997,760.4 1002.8,767.4 1008.3,767.9 1015.9,768.4 1024.7,770.5 1041.1,770.5 1048.6,780.5 1060,793.6 1063.2,793.1 1067.5,785.6 1072.5,785.1 1076.3,779.3 1080.9,779.5 1085.1,783.6 1089.4,783 1102.8,764.7 1111.6,763.7 1119.1,762.1 1124.2,762.4 1129.2,770.5 1141.3,771 1150.6,759.1 1158.2,759.9 1163.7,766.2 1172,765.4 1184.6,767.2 1193.5,754.6 1198.5,753.6 1203.5,748.3 1208.6,749 1221.2,747.3 1228.7,748.3 1237.5,737.7 1246.3,738.5 1251.4,743.2 1259.7,743.5 1267.8,752.8 1281.6,773.5 1295.5,773.5 1299.2,771.2 1311.8,750.8 1320.6,750.3 1325.7,752.1 1333.7,752.3 1343.3,742 1355.9,741.5 1363.9,743.3 1368.9,749.1 1382.7,749.9 1387.3,748.6 1390.8,749.9 1394.8,742.8 1399.6,742.3 1404.2,747.9 1412.5,737.3 1416.8,743.3 1421.8,743.6 1426.8,749.6 1430.6,750.4 1435.6,757.4 1439.4,758.4 1443.2,763 1452,751.1 1460.8,751.6 1464.6,745.3 1473.4,744.3 1477.2,746.6 1483,752.1 1487.3,747.9 1495.6,734 1501.1,733.5 1504.9,729.5 1521.3,728.5 1535.1,745.3 1538.9,736 1544,736 1552.8,747.4 1559,746.6 1565.4,744.8 1574.9,757.4 1583,757.2 1596.3,739.5 1601.9,739.5 1613.7,723.4 1627.1,742.8 1635.9,731 1643.5,729.7 1662.3,754.9 1674.9,773.6 1688.8,754.7 1692.1,762.2 1696.3,760.5 1705.2,772 1710.7,764.2 1714.7,766.8 1719,759.2 1727,766.8 1732.9,752.9 1737.1,729.7 1740.4,730.7 1745.5,735.3 1753,735.3" fill="none" stroke="#7e57c2" stroke-width="1"/></g><g fill="none" stroke="#131722" stroke-width="1"><polygon points="1799.6,812.9 1801.8,808.7 1807.4,808.7 1809.5,812.9 1807.3,817.1 1801.8,817.1"/><circle cx="1804.3" cy="812.9" r="1.7"/></g><rect x="5.2" y="778.6" width="26.2" height="15.4" rx="3" fill="#ffffff"/><g fill="#131313"><path d="M7.1,780.2 H15.7 V791.5 H11.4 V784.7 H7.1 Z"/><circle cx="19.65" cy="782.5" r="2.25"/><path d="M24.4,780.2 H29 L24.9,791.5 H20 Z"/></g><g font-family="Liberation Sans, sans-serif"><text x="1783.5" y="5.1" font-size="10.1" text-anchor="start" fill="#2a2e39" font-weight="normal" dominant-baseline="central">6,755.00</text><text x="1783.5" y="28.6" font-size="10.1" text-anchor="start" fill="#2a2e39" font-weight="normal" dominant-baseline="central">6,750.00</text><text x="1783.5" y="52.0" font-size="10.1" text-anchor="start" fill="#2a2e39" font-weight="normal" dominant-baseline="central">6,745.00</text><text x="1783.5" y="75.5" font-size="10.1" text-anchor="start" fill="#2a2e39" font-weight="normal" dominant-baseline="central">6,740.00</text><text x="1783.5" y="99.0" font-size="10.1" text-anchor="start" fill="#2a2e39" font-weight="normal" dominant-baseline="central">6,735.00</text><text x="1783.5" y="136.5" font-size="10.1" text-anchor="start" fill="#2a2e39" font-weight="normal" dominant-baseline="central">6,727.00</text><text x="1783.5" y="174.0" font-size="10.1" text-anchor="start" fill="#2a2e39" font-weight="normal" dominant-baseline="central">6,719.00</text><text x="1783.5" y="211.6" font-size="10.1" text-anchor="start" fill="#2a2e39" font-weight="normal" dominant-baseline="central">6,711.00</text><text x="1783.5" y="249.1" font-size="10.1" text-anchor="start" fill="#2a2e39" font-weight="normal" dominant-baseline="central">6,703.00</text><text x="1783.5" y="272.6" font-size="10.1" text-anchor="start" fill="#2a2e39" font-weight="normal" dominant-baseline="central">6,698.00</text><text x="1783.5" y="296.1" font-size="10.1" text-anchor="start" fill="#2a2e39" font-weight="normal" dominant-baseline="central">6,693.00</text><text x="1783.5" y="319.5" font-size="10.1" text-anchor="start" fill="#2a2e39" font-weight="normal" dominant-baseline="central">6,688.00</text><text x="1783.5" y="347.7" font-size="10.1" text-anchor="start" fill="#2a2e39" font-weight="normal" dominant-baseline="central">6,682.00</text><text x="1783.5" y="375.8" font-size="10.1" text-anchor="start" fill="#2a2e39" font-weight="normal" dominant-baseline="central">6,676.00</text><text x="1783.5" y="404.0" font-size="10.1" text-anchor="start" fill="#2a2e39" font-weight="normal" dominant-baseline="central">6,670.00</text><text x="1783.5" y="432.2" font-size="10.1" text-anchor="start" fill="#2a2e39" font-weight="normal" dominant-baseline="central">6,664.00</text><text x="1783.5" y="455.6" font-size="10.1" text-anchor="start" fill="#2a2e39" font-weight="normal" dominant-baseline="central">6,659.00</text><text x="1783.5" y="479.1" font-size="10.1" text-anchor="start" fill="#2a2e39" font-weight="normal" dominant-baseline="central">6,654.00</text><text x="1783.5" y="502.6" font-size="10.1" text-anchor="start" fill="#2a2e39" font-weight="normal" dominant-baseline="central">6,649.00</text><text x="1783.5" y="553.6" font-size="10.1" text-anchor="start" fill="#2a2e39" font-weight="normal" dominant-baseline="central">0.00</text><text x="1783.5" y="594.3" font-size="10.1" text-anchor="start" fill="#2a2e39" font-weight="normal" dominant-baseline="central">−10.00</text><g clip-path="url(#c3l)"><text x="1783.5" y="613.4" font-size="10.1" text-anchor="start" fill="#2a2e39" font-weight="normal" dominant-baseline="central">80.00</text></g><text x="1783.5" y="638.3" font-size="10.1" text-anchor="start" fill="#2a2e39" font-weight="normal" dominant-baseline="central">60.00</text><text x="1783.5" y="663.8" font-size="10.1" text-anchor="start" fill="#2a2e39" font-weight="normal" dominant-baseline="central">40.00</text><text x="1783.5" y="690.2" font-size="10.1" text-anchor="start" fill="#2a2e39" font-weight="normal" dominant-baseline="central">20.00</text><text x="1783.5" y="728.5" font-size="10.1" text-anchor="start" fill="#2a2e39" font-weight="normal" dominant-baseline="central">80.00</text><text x="1783.5" y="763" font-size="10.1" text-anchor="start" fill="#2a2e39" font-weight="normal" dominant-baseline="central">40.00</text><text x="1783.5" y="797.5" font-size="10.1" text-anchor="start" fill="#2a2e39" font-weight="normal" dominant-baseline="central">0.00</text><text x="32.1" y="812.8" font-size="10.1" text-anchor="middle" fill="#2a2e39" font-weight="bold" dominant-baseline="central">22</text><text x="97.7" y="812.8" font-size="10.1" text-anchor="middle" fill="#2a2e39" font-weight="normal" dominant-baseline="central">06:45</text><text x="163.2" y="812.8" font-size="10.1" text-anchor="middle" fill="#2a2e39" font-weight="normal" dominant-baseline="central">07:00</text><text x="228.8" y="812.8" font-size="10.1" text-anchor="middle" fill="#2a2e39" font-weight="normal" dominant-baseline="central">07:15</text><text x="294.3" y="812.8" font-size="10.1" text-anchor="middle" fill="#2a2e39" font-weight="normal" dominant-baseline="central">07:30</text><text x="359.9" y="812.8" font-size="10.1" text-anchor="middle" fill="#2a2e39" font-weight="normal" dominant-baseline="central">07:45</text><text x="425.4" y="812.8" font-size="10.1" text-anchor="middle" fill="#2a2e39" font-weight="normal" dominant-baseline="central">08:00</text><text x="491.0" y="812.8" font-size="10.1" text-anchor="middle" fill="#2a2e39" font-weight="normal" dominant-baseline="central">08:15</text><text x="556.5" y="812.8" font-size="10.1" text-anchor="middle" fill="#2a2e39" font-weight="normal" dominant-baseline="central">08:30</text><text x="622.1" y="812.8" font-size="10.1" text-anchor="middle" fill="#2a2e39" font-weight="normal" dominant-baseline="central">08:45</text><text x="687.7" y="812.8" font-size="10.1" text-anchor="middle" fill="#2a2e39" font-weight="normal" dominant-baseline="central">09:00</text><text x="753.2" y="812.8" font-size="10.1" text-anchor="middle" fill="#2a2e39" font-weight="normal" dominant-baseline="central">09:15</text><text x="818.8" y="812.8" font-size="10.1" text-anchor="middle" fill="#2a2e39" font-weight="normal" dominant-baseline="central">09:30</text><text x="884.3" y="812.8" font-size="10.1" text-anchor="middle" fill="#2a2e39" font-weight="normal" dominant-baseline="central">09:45</text><text x="949.9" y="812.8" font-size="10.1" text-anchor="middle" fill="#2a2e39" font-weight="normal" dominant-baseline="central">10:00</text><text x="1015.4" y="812.8" font-size="10.1" text-anchor="middle" fill="#2a2e39" font-weight="normal" dominant-baseline="central">10:15</text><text x="1081.0" y="812.8" font-size="10.1" text-anchor="middle" fill="#2a2e39" font-weight="normal" dominant-baseline="central">10:30</text><text x="1146.6" y="812.8" font-size="10.1" text-anchor="middle" fill="#2a2e39" font-weight="normal" dominant-baseline="central">10:45</text><text x="1212.1" y="812.8" font-size="10.1" text-anchor="middle" fill="#2a2e39" font-weight="normal" dominant-baseline="central">11:00</text><text x="1277.7" y="812.8" font-size="10.1" text-anchor="middle" fill="#2a2e39" font-weight="normal" dominant-baseline="central">11:15</text><text x="1343.2" y="812.8" font-size="10.1" text-anchor="middle" fill="#2a2e39" font-weight="normal" dominant-baseline="central">11:30</text><text x="1408.8" y="812.8" font-size="10.1" text-anchor="middle" fill="#2a2e39" font-weight="normal" dominant-baseline="central">11:45</text><text x="1474.3" y="812.8" font-size="10.1" text-anchor="middle" fill="#2a2e39" font-weight="normal" dominant-baseline="central">12:00</text><text x="1539.9" y="812.8" font-size="10.1" text-anchor="middle" fill="#2a2e39" font-weight="normal" dominant-baseline="central">12:15</text><text x="1605.4" y="812.8" font-size="10.1" text-anchor="middle" fill="#2a2e39" font-weight="normal" dominant-baseline="central">12:30</text><text x="1671.0" y="812.8" font-size="10.1" text-anchor="middle" fill="#2a2e39" font-weight="normal" dominant-baseline="central">12:45</text><text x="1736.6" y="812.8" font-size="10.1" text-anchor="middle" fill="#2a2e39" font-weight="normal" dominant-baseline="central">13:00</text><text x="5" y="14.9" font-size="12" fill="#131722" textLength="86" lengthAdjust="spacingAndGlyphs">SPX · 1 · SPCFD</text><circle cx="103.6" cy="9.9" r="6.6" fill="#eeeeee"/><line x1="101.3" y1="9.9" x2="106.3" y2="9.9" stroke="#878787" stroke-width="2.8" stroke-linecap="round"/><text x="116.3" y="14.2" font-size="10.2" textLength="50.8" lengthAdjust="spacingAndGlyphs"><tspan fill="#131722">O</tspan><tspan fill="#5d606b">6,699.43</tspan></text><text x="171.3" y="14.2" font-size="10.2" textLength="50.4" lengthAdjust="spacingAndGlyphs"><tspan fill="#131722">H</tspan><tspan fill="#5d606b">6,699.43</tspan></text><text x="226.3" y="14.2" font-size="10.2" textLength="47.4" lengthAdjust="spacingAndGlyphs"><tspan fill="#131722">L</tspan><tspan fill="#5d606b">6,699.41</tspan></text><text x="278.8" y="14.2" font-size="10.2" textLength="50" lengthAdjust="spacingAndGlyphs"><tspan fill="#131722">C</tspan><tspan fill="#5d606b">6,699.41</tspan></text><text x="333.3" y="14.2" font-size="10.2" textLength="73.5" lengthAdjust="spacingAndGlyphs"><tspan fill="#131722"></tspan><tspan fill="#5d606b">−0.01 (−0.00%)</tspan></text><rect x="4.9" y="21.6" width="23.4" height="15.6" rx="2.5" fill="#fff" stroke="#d6d6d6" stroke-width="1"/><polyline points="9.4,28.2 12.5,30.8 15.7,28.2" fill="none" stroke="#131722" stroke-width="1.1"/><text x="19.6" y="31.8" font-size="9.6" fill="#131722">4</text></g></svg>

</body></html>
